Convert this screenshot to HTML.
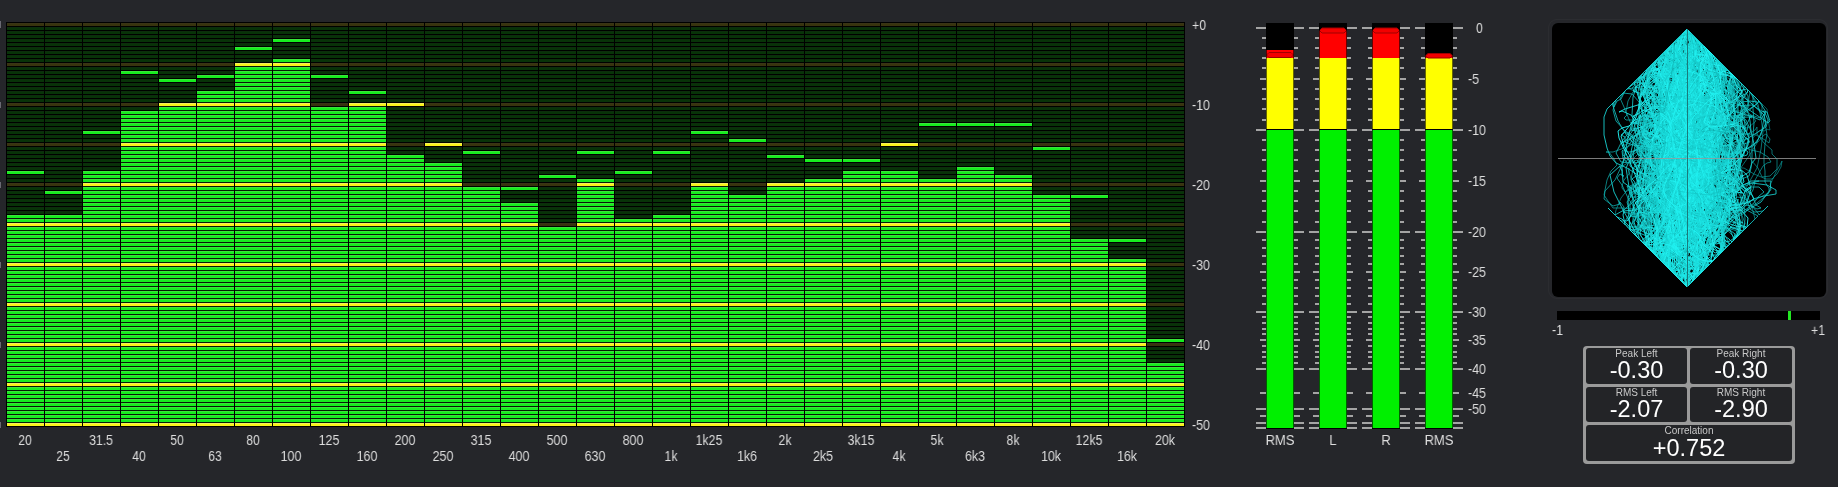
<!DOCTYPE html><html><head><meta charset="utf-8"><style>
html,body{margin:0;padding:0;background:#25262a;width:1838px;height:487px;overflow:hidden;}
body{position:relative;font-family:"Liberation Sans",sans-serif;}
.a{position:absolute;}
.fl,.dl,.ml,.sc{will-change:transform;}
.fl{position:absolute;color:#dedede;font-size:14px;line-height:14px;width:60px;text-align:center;white-space:nowrap;transform:scaleX(0.88);}
.dl{position:absolute;color:#dedede;font-size:14px;line-height:14px;white-space:nowrap;transform:scaleX(0.88);transform-origin:0 50%;}
.ml{position:absolute;color:#dedede;font-size:14px;line-height:14px;white-space:nowrap;transform:scaleX(0.88);transform-origin:0 50%;}
.sc{position:absolute;background:#232427;border-radius:3px;text-align:center;color:#fff;}
.sc .t{position:absolute;left:0;right:0;font-size:10px;line-height:10px;color:#c8c8c8;}
.sc .v{position:absolute;left:0;right:0;font-size:23.5px;line-height:22px;color:#fff;}
</style></head><body>
<svg class="a" style="left:6px;top:22px" width="1179" height="405" viewBox="0 0 1179 405" shape-rendering="crispEdges"><defs><pattern id="pu" patternUnits="userSpaceOnUse" x="0" y="1" width="1179" height="40"><rect x="0" y="0" width="1179" height="1" fill="#3a3516"/><rect x="0" y="1" width="1179" height="2" fill="#38340e"/><rect x="0" y="4" width="1179" height="1" fill="#0c2e0c"/><rect x="0" y="5" width="1179" height="2" fill="#083308"/><rect x="0" y="8" width="1179" height="1" fill="#0c2e0c"/><rect x="0" y="9" width="1179" height="2" fill="#083308"/><rect x="0" y="12" width="1179" height="1" fill="#0c2e0c"/><rect x="0" y="13" width="1179" height="2" fill="#083308"/><rect x="0" y="16" width="1179" height="1" fill="#0c2e0c"/><rect x="0" y="17" width="1179" height="2" fill="#083308"/><rect x="0" y="20" width="1179" height="1" fill="#0c2e0c"/><rect x="0" y="21" width="1179" height="2" fill="#083308"/><rect x="0" y="24" width="1179" height="1" fill="#0c2e0c"/><rect x="0" y="25" width="1179" height="2" fill="#083308"/><rect x="0" y="28" width="1179" height="1" fill="#0c2e0c"/><rect x="0" y="29" width="1179" height="2" fill="#083308"/><rect x="0" y="32" width="1179" height="1" fill="#0c2e0c"/><rect x="0" y="33" width="1179" height="2" fill="#083308"/><rect x="0" y="36" width="1179" height="1" fill="#0c2e0c"/><rect x="0" y="37" width="1179" height="2" fill="#083308"/></pattern><pattern id="pl" patternUnits="userSpaceOnUse" x="0" y="1" width="1179" height="40"><rect x="0" y="0" width="1179" height="40" fill="#081a08"/><rect x="0" y="0" width="1179" height="1" fill="#f4f05a"/><rect x="0" y="1" width="1179" height="2" fill="#f8f41a"/><rect x="0" y="4" width="1179" height="1" fill="#3ae43a"/><rect x="0" y="5" width="1179" height="2" fill="#16ee1e"/><rect x="0" y="8" width="1179" height="1" fill="#3ae43a"/><rect x="0" y="9" width="1179" height="2" fill="#16ee1e"/><rect x="0" y="12" width="1179" height="1" fill="#3ae43a"/><rect x="0" y="13" width="1179" height="2" fill="#16ee1e"/><rect x="0" y="16" width="1179" height="1" fill="#3ae43a"/><rect x="0" y="17" width="1179" height="2" fill="#16ee1e"/><rect x="0" y="20" width="1179" height="1" fill="#3ae43a"/><rect x="0" y="21" width="1179" height="2" fill="#16ee1e"/><rect x="0" y="24" width="1179" height="1" fill="#3ae43a"/><rect x="0" y="25" width="1179" height="2" fill="#16ee1e"/><rect x="0" y="28" width="1179" height="1" fill="#3ae43a"/><rect x="0" y="29" width="1179" height="2" fill="#16ee1e"/><rect x="0" y="32" width="1179" height="1" fill="#3ae43a"/><rect x="0" y="33" width="1179" height="2" fill="#16ee1e"/><rect x="0" y="36" width="1179" height="1" fill="#3ae43a"/><rect x="0" y="37" width="1179" height="2" fill="#16ee1e"/></pattern></defs><rect x="0" y="0" width="1179" height="405" fill="#000"/><rect x="1" y="1" width="37" height="192" fill="url(#pu)"/><rect x="1" y="193" width="37" height="211" fill="url(#pl)"/><rect x="1" y="149" width="37" height="1" fill="#3ae43a"/><rect x="1" y="150" width="37" height="2" fill="#16ee1e"/><rect x="39" y="1" width="37" height="192" fill="url(#pu)"/><rect x="39" y="193" width="37" height="211" fill="url(#pl)"/><rect x="39" y="169" width="37" height="1" fill="#3ae43a"/><rect x="39" y="170" width="37" height="2" fill="#16ee1e"/><rect x="77" y="1" width="37" height="148" fill="url(#pu)"/><rect x="77" y="149" width="37" height="255" fill="url(#pl)"/><rect x="77" y="109" width="37" height="1" fill="#3ae43a"/><rect x="77" y="110" width="37" height="2" fill="#16ee1e"/><rect x="115" y="1" width="37" height="88" fill="url(#pu)"/><rect x="115" y="89" width="37" height="315" fill="url(#pl)"/><rect x="115" y="49" width="37" height="1" fill="#3ae43a"/><rect x="115" y="50" width="37" height="2" fill="#16ee1e"/><rect x="153" y="1" width="37" height="80" fill="url(#pu)"/><rect x="153" y="81" width="37" height="323" fill="url(#pl)"/><rect x="153" y="57" width="37" height="1" fill="#3ae43a"/><rect x="153" y="58" width="37" height="2" fill="#16ee1e"/><rect x="191" y="1" width="37" height="68" fill="url(#pu)"/><rect x="191" y="69" width="37" height="335" fill="url(#pl)"/><rect x="191" y="53" width="37" height="1" fill="#3ae43a"/><rect x="191" y="54" width="37" height="2" fill="#16ee1e"/><rect x="229" y="1" width="37" height="40" fill="url(#pu)"/><rect x="229" y="41" width="37" height="363" fill="url(#pl)"/><rect x="229" y="25" width="37" height="1" fill="#3ae43a"/><rect x="229" y="26" width="37" height="2" fill="#16ee1e"/><rect x="267" y="1" width="37" height="36" fill="url(#pu)"/><rect x="267" y="37" width="37" height="367" fill="url(#pl)"/><rect x="267" y="17" width="37" height="1" fill="#3ae43a"/><rect x="267" y="18" width="37" height="2" fill="#16ee1e"/><rect x="305" y="1" width="37" height="84" fill="url(#pu)"/><rect x="305" y="85" width="37" height="319" fill="url(#pl)"/><rect x="305" y="53" width="37" height="1" fill="#3ae43a"/><rect x="305" y="54" width="37" height="2" fill="#16ee1e"/><rect x="343" y="1" width="37" height="80" fill="url(#pu)"/><rect x="343" y="81" width="37" height="323" fill="url(#pl)"/><rect x="343" y="69" width="37" height="1" fill="#3ae43a"/><rect x="343" y="70" width="37" height="2" fill="#16ee1e"/><rect x="381" y="1" width="37" height="132" fill="url(#pu)"/><rect x="381" y="133" width="37" height="271" fill="url(#pl)"/><rect x="381" y="81" width="37" height="1" fill="#f4f05a"/><rect x="381" y="82" width="37" height="2" fill="#f8f41a"/><rect x="419" y="1" width="37" height="140" fill="url(#pu)"/><rect x="419" y="141" width="37" height="263" fill="url(#pl)"/><rect x="419" y="121" width="37" height="1" fill="#f4f05a"/><rect x="419" y="122" width="37" height="2" fill="#f8f41a"/><rect x="457" y="1" width="37" height="164" fill="url(#pu)"/><rect x="457" y="165" width="37" height="239" fill="url(#pl)"/><rect x="457" y="129" width="37" height="1" fill="#3ae43a"/><rect x="457" y="130" width="37" height="2" fill="#16ee1e"/><rect x="495" y="1" width="37" height="180" fill="url(#pu)"/><rect x="495" y="181" width="37" height="223" fill="url(#pl)"/><rect x="495" y="165" width="37" height="1" fill="#3ae43a"/><rect x="495" y="166" width="37" height="2" fill="#16ee1e"/><rect x="533" y="1" width="37" height="204" fill="url(#pu)"/><rect x="533" y="205" width="37" height="199" fill="url(#pl)"/><rect x="533" y="153" width="37" height="1" fill="#3ae43a"/><rect x="533" y="154" width="37" height="2" fill="#16ee1e"/><rect x="571" y="1" width="37" height="156" fill="url(#pu)"/><rect x="571" y="157" width="37" height="247" fill="url(#pl)"/><rect x="571" y="129" width="37" height="1" fill="#3ae43a"/><rect x="571" y="130" width="37" height="2" fill="#16ee1e"/><rect x="609" y="1" width="37" height="196" fill="url(#pu)"/><rect x="609" y="197" width="37" height="207" fill="url(#pl)"/><rect x="609" y="149" width="37" height="1" fill="#3ae43a"/><rect x="609" y="150" width="37" height="2" fill="#16ee1e"/><rect x="647" y="1" width="37" height="192" fill="url(#pu)"/><rect x="647" y="193" width="37" height="211" fill="url(#pl)"/><rect x="647" y="129" width="37" height="1" fill="#3ae43a"/><rect x="647" y="130" width="37" height="2" fill="#16ee1e"/><rect x="685" y="1" width="37" height="160" fill="url(#pu)"/><rect x="685" y="161" width="37" height="243" fill="url(#pl)"/><rect x="685" y="109" width="37" height="1" fill="#3ae43a"/><rect x="685" y="110" width="37" height="2" fill="#16ee1e"/><rect x="723" y="1" width="37" height="172" fill="url(#pu)"/><rect x="723" y="173" width="37" height="231" fill="url(#pl)"/><rect x="723" y="117" width="37" height="1" fill="#3ae43a"/><rect x="723" y="118" width="37" height="2" fill="#16ee1e"/><rect x="761" y="1" width="37" height="160" fill="url(#pu)"/><rect x="761" y="161" width="37" height="243" fill="url(#pl)"/><rect x="761" y="133" width="37" height="1" fill="#3ae43a"/><rect x="761" y="134" width="37" height="2" fill="#16ee1e"/><rect x="799" y="1" width="37" height="156" fill="url(#pu)"/><rect x="799" y="157" width="37" height="247" fill="url(#pl)"/><rect x="799" y="137" width="37" height="1" fill="#3ae43a"/><rect x="799" y="138" width="37" height="2" fill="#16ee1e"/><rect x="837" y="1" width="37" height="148" fill="url(#pu)"/><rect x="837" y="149" width="37" height="255" fill="url(#pl)"/><rect x="837" y="137" width="37" height="1" fill="#3ae43a"/><rect x="837" y="138" width="37" height="2" fill="#16ee1e"/><rect x="875" y="1" width="37" height="148" fill="url(#pu)"/><rect x="875" y="149" width="37" height="255" fill="url(#pl)"/><rect x="875" y="121" width="37" height="1" fill="#f4f05a"/><rect x="875" y="122" width="37" height="2" fill="#f8f41a"/><rect x="913" y="1" width="37" height="156" fill="url(#pu)"/><rect x="913" y="157" width="37" height="247" fill="url(#pl)"/><rect x="913" y="101" width="37" height="1" fill="#3ae43a"/><rect x="913" y="102" width="37" height="2" fill="#16ee1e"/><rect x="951" y="1" width="37" height="144" fill="url(#pu)"/><rect x="951" y="145" width="37" height="259" fill="url(#pl)"/><rect x="951" y="101" width="37" height="1" fill="#3ae43a"/><rect x="951" y="102" width="37" height="2" fill="#16ee1e"/><rect x="989" y="1" width="37" height="152" fill="url(#pu)"/><rect x="989" y="153" width="37" height="251" fill="url(#pl)"/><rect x="989" y="101" width="37" height="1" fill="#3ae43a"/><rect x="989" y="102" width="37" height="2" fill="#16ee1e"/><rect x="1027" y="1" width="37" height="172" fill="url(#pu)"/><rect x="1027" y="173" width="37" height="231" fill="url(#pl)"/><rect x="1027" y="125" width="37" height="1" fill="#3ae43a"/><rect x="1027" y="126" width="37" height="2" fill="#16ee1e"/><rect x="1065" y="1" width="37" height="216" fill="url(#pu)"/><rect x="1065" y="217" width="37" height="187" fill="url(#pl)"/><rect x="1065" y="173" width="37" height="1" fill="#3ae43a"/><rect x="1065" y="174" width="37" height="2" fill="#16ee1e"/><rect x="1103" y="1" width="37" height="236" fill="url(#pu)"/><rect x="1103" y="237" width="37" height="167" fill="url(#pl)"/><rect x="1103" y="217" width="37" height="1" fill="#3ae43a"/><rect x="1103" y="218" width="37" height="2" fill="#16ee1e"/><rect x="1141" y="1" width="37" height="340" fill="url(#pu)"/><rect x="1141" y="341" width="37" height="63" fill="url(#pl)"/><rect x="1141" y="317" width="37" height="1" fill="#3ae43a"/><rect x="1141" y="318" width="37" height="2" fill="#16ee1e"/></svg>
<div class="fl" style="left:-5px;top:433px">20</div>
<div class="fl" style="left:33px;top:449px">25</div>
<div class="fl" style="left:71px;top:433px">31.5</div>
<div class="fl" style="left:109px;top:449px">40</div>
<div class="fl" style="left:147px;top:433px">50</div>
<div class="fl" style="left:185px;top:449px">63</div>
<div class="fl" style="left:223px;top:433px">80</div>
<div class="fl" style="left:261px;top:449px">100</div>
<div class="fl" style="left:299px;top:433px">125</div>
<div class="fl" style="left:337px;top:449px">160</div>
<div class="fl" style="left:375px;top:433px">200</div>
<div class="fl" style="left:413px;top:449px">250</div>
<div class="fl" style="left:451px;top:433px">315</div>
<div class="fl" style="left:489px;top:449px">400</div>
<div class="fl" style="left:527px;top:433px">500</div>
<div class="fl" style="left:565px;top:449px">630</div>
<div class="fl" style="left:603px;top:433px">800</div>
<div class="fl" style="left:641px;top:449px">1k</div>
<div class="fl" style="left:679px;top:433px">1k25</div>
<div class="fl" style="left:717px;top:449px">1k6</div>
<div class="fl" style="left:755px;top:433px">2k</div>
<div class="fl" style="left:793px;top:449px">2k5</div>
<div class="fl" style="left:831px;top:433px">3k15</div>
<div class="fl" style="left:869px;top:449px">4k</div>
<div class="fl" style="left:907px;top:433px">5k</div>
<div class="fl" style="left:945px;top:449px">6k3</div>
<div class="fl" style="left:983px;top:433px">8k</div>
<div class="fl" style="left:1021px;top:449px">10k</div>
<div class="fl" style="left:1059px;top:433px">12k5</div>
<div class="fl" style="left:1097px;top:449px">16k</div>
<div class="fl" style="left:1135px;top:433px">20k</div>
<div class="dl" style="left:1192px;top:18px">+0</div>
<div class="dl" style="left:1192px;top:98px">-10</div>
<div class="dl" style="left:1192px;top:178px">-20</div>
<div class="dl" style="left:1192px;top:258px">-30</div>
<div class="dl" style="left:1192px;top:338px">-40</div>
<div class="dl" style="left:1192px;top:418px">-50</div>
<div class="a" style="left:0;top:21px;width:1px;height:7px;background:#6a6a72"></div>
<div class="a" style="left:0;top:102px;width:1px;height:6px;background:#6a6a72"></div>
<div class="a" style="left:0;top:182px;width:1px;height:6px;background:#6a6a72"></div>
<div class="a" style="left:0;top:262px;width:1px;height:6px;background:#6a6a72"></div>
<div class="a" style="left:0;top:342px;width:1px;height:6px;background:#6a6a72"></div>
<div class="a" style="left:0;top:422px;width:1px;height:6px;background:#6a6a72"></div>
<svg class="a" style="left:1240px;top:0px" width="260" height="487" shape-rendering="crispEdges"><rect x="16" y="27" width="10" height="2" fill="#a4a4a4"/><rect x="54" y="27" width="10" height="2" fill="#a4a4a4"/><rect x="22" y="37" width="4" height="2" fill="#a4a4a4"/><rect x="54" y="37" width="4" height="2" fill="#a4a4a4"/><rect x="22" y="47" width="4" height="2" fill="#a4a4a4"/><rect x="54" y="47" width="4" height="2" fill="#a4a4a4"/><rect x="22" y="57" width="4" height="2" fill="#a4a4a4"/><rect x="54" y="57" width="4" height="2" fill="#a4a4a4"/><rect x="22" y="67" width="4" height="2" fill="#a4a4a4"/><rect x="54" y="67" width="4" height="2" fill="#a4a4a4"/><rect x="20" y="78" width="6" height="2" fill="#a4a4a4"/><rect x="54" y="78" width="6" height="2" fill="#a4a4a4"/><rect x="22" y="88" width="4" height="2" fill="#a4a4a4"/><rect x="54" y="88" width="4" height="2" fill="#a4a4a4"/><rect x="22" y="98" width="4" height="2" fill="#a4a4a4"/><rect x="54" y="98" width="4" height="2" fill="#a4a4a4"/><rect x="22" y="108" width="4" height="2" fill="#a4a4a4"/><rect x="54" y="108" width="4" height="2" fill="#a4a4a4"/><rect x="22" y="119" width="4" height="2" fill="#a4a4a4"/><rect x="54" y="119" width="4" height="2" fill="#a4a4a4"/><rect x="16" y="129" width="10" height="2" fill="#a4a4a4"/><rect x="54" y="129" width="10" height="2" fill="#a4a4a4"/><rect x="22" y="139" width="4" height="2" fill="#a4a4a4"/><rect x="54" y="139" width="4" height="2" fill="#a4a4a4"/><rect x="22" y="149" width="4" height="2" fill="#a4a4a4"/><rect x="54" y="149" width="4" height="2" fill="#a4a4a4"/><rect x="22" y="159" width="4" height="2" fill="#a4a4a4"/><rect x="54" y="159" width="4" height="2" fill="#a4a4a4"/><rect x="22" y="170" width="4" height="2" fill="#a4a4a4"/><rect x="54" y="170" width="4" height="2" fill="#a4a4a4"/><rect x="20" y="180" width="6" height="2" fill="#a4a4a4"/><rect x="54" y="180" width="6" height="2" fill="#a4a4a4"/><rect x="22" y="190" width="4" height="2" fill="#a4a4a4"/><rect x="54" y="190" width="4" height="2" fill="#a4a4a4"/><rect x="22" y="200" width="4" height="2" fill="#a4a4a4"/><rect x="54" y="200" width="4" height="2" fill="#a4a4a4"/><rect x="22" y="210" width="4" height="2" fill="#a4a4a4"/><rect x="54" y="210" width="4" height="2" fill="#a4a4a4"/><rect x="22" y="221" width="4" height="2" fill="#a4a4a4"/><rect x="54" y="221" width="4" height="2" fill="#a4a4a4"/><rect x="16" y="231" width="10" height="2" fill="#a4a4a4"/><rect x="54" y="231" width="10" height="2" fill="#a4a4a4"/><rect x="22" y="239" width="4" height="2" fill="#a4a4a4"/><rect x="54" y="239" width="4" height="2" fill="#a4a4a4"/><rect x="22" y="247" width="4" height="2" fill="#a4a4a4"/><rect x="54" y="247" width="4" height="2" fill="#a4a4a4"/><rect x="22" y="255" width="4" height="2" fill="#a4a4a4"/><rect x="54" y="255" width="4" height="2" fill="#a4a4a4"/><rect x="22" y="263" width="4" height="2" fill="#a4a4a4"/><rect x="54" y="263" width="4" height="2" fill="#a4a4a4"/><rect x="20" y="271" width="6" height="2" fill="#a4a4a4"/><rect x="54" y="271" width="6" height="2" fill="#a4a4a4"/><rect x="22" y="279" width="4" height="2" fill="#a4a4a4"/><rect x="54" y="279" width="4" height="2" fill="#a4a4a4"/><rect x="22" y="287" width="4" height="2" fill="#a4a4a4"/><rect x="54" y="287" width="4" height="2" fill="#a4a4a4"/><rect x="22" y="295" width="4" height="2" fill="#a4a4a4"/><rect x="54" y="295" width="4" height="2" fill="#a4a4a4"/><rect x="22" y="303" width="4" height="2" fill="#a4a4a4"/><rect x="54" y="303" width="4" height="2" fill="#a4a4a4"/><rect x="16" y="311" width="10" height="2" fill="#a4a4a4"/><rect x="54" y="311" width="10" height="2" fill="#a4a4a4"/><rect x="22" y="316" width="4" height="2" fill="#a4a4a4"/><rect x="54" y="316" width="4" height="2" fill="#a4a4a4"/><rect x="22" y="322" width="4" height="2" fill="#a4a4a4"/><rect x="54" y="322" width="4" height="2" fill="#a4a4a4"/><rect x="22" y="328" width="4" height="2" fill="#a4a4a4"/><rect x="54" y="328" width="4" height="2" fill="#a4a4a4"/><rect x="22" y="333" width="4" height="2" fill="#a4a4a4"/><rect x="54" y="333" width="4" height="2" fill="#a4a4a4"/><rect x="20" y="339" width="6" height="2" fill="#a4a4a4"/><rect x="54" y="339" width="6" height="2" fill="#a4a4a4"/><rect x="22" y="345" width="4" height="2" fill="#a4a4a4"/><rect x="54" y="345" width="4" height="2" fill="#a4a4a4"/><rect x="22" y="351" width="4" height="2" fill="#a4a4a4"/><rect x="54" y="351" width="4" height="2" fill="#a4a4a4"/><rect x="22" y="356" width="4" height="2" fill="#a4a4a4"/><rect x="54" y="356" width="4" height="2" fill="#a4a4a4"/><rect x="22" y="362" width="4" height="2" fill="#a4a4a4"/><rect x="54" y="362" width="4" height="2" fill="#a4a4a4"/><rect x="16" y="368" width="10" height="2" fill="#a4a4a4"/><rect x="54" y="368" width="10" height="2" fill="#a4a4a4"/><rect x="20" y="392" width="6" height="2" fill="#a4a4a4"/><rect x="54" y="392" width="6" height="2" fill="#a4a4a4"/><rect x="16" y="408" width="10" height="2" fill="#a4a4a4"/><rect x="54" y="408" width="10" height="2" fill="#a4a4a4"/><rect x="20" y="415" width="6" height="2" fill="#a4a4a4"/><rect x="54" y="415" width="6" height="2" fill="#a4a4a4"/><rect x="16" y="422" width="10" height="2" fill="#a4a4a4"/><rect x="54" y="422" width="10" height="2" fill="#a4a4a4"/><rect x="16" y="427" width="10" height="2" fill="#a4a4a4"/><rect x="54" y="427" width="10" height="2" fill="#a4a4a4"/><rect x="69" y="27" width="10" height="2" fill="#a4a4a4"/><rect x="107" y="27" width="10" height="2" fill="#a4a4a4"/><rect x="75" y="37" width="4" height="2" fill="#a4a4a4"/><rect x="107" y="37" width="4" height="2" fill="#a4a4a4"/><rect x="75" y="47" width="4" height="2" fill="#a4a4a4"/><rect x="107" y="47" width="4" height="2" fill="#a4a4a4"/><rect x="75" y="57" width="4" height="2" fill="#a4a4a4"/><rect x="107" y="57" width="4" height="2" fill="#a4a4a4"/><rect x="75" y="67" width="4" height="2" fill="#a4a4a4"/><rect x="107" y="67" width="4" height="2" fill="#a4a4a4"/><rect x="73" y="78" width="6" height="2" fill="#a4a4a4"/><rect x="107" y="78" width="6" height="2" fill="#a4a4a4"/><rect x="75" y="88" width="4" height="2" fill="#a4a4a4"/><rect x="107" y="88" width="4" height="2" fill="#a4a4a4"/><rect x="75" y="98" width="4" height="2" fill="#a4a4a4"/><rect x="107" y="98" width="4" height="2" fill="#a4a4a4"/><rect x="75" y="108" width="4" height="2" fill="#a4a4a4"/><rect x="107" y="108" width="4" height="2" fill="#a4a4a4"/><rect x="75" y="119" width="4" height="2" fill="#a4a4a4"/><rect x="107" y="119" width="4" height="2" fill="#a4a4a4"/><rect x="69" y="129" width="10" height="2" fill="#a4a4a4"/><rect x="107" y="129" width="10" height="2" fill="#a4a4a4"/><rect x="75" y="139" width="4" height="2" fill="#a4a4a4"/><rect x="107" y="139" width="4" height="2" fill="#a4a4a4"/><rect x="75" y="149" width="4" height="2" fill="#a4a4a4"/><rect x="107" y="149" width="4" height="2" fill="#a4a4a4"/><rect x="75" y="159" width="4" height="2" fill="#a4a4a4"/><rect x="107" y="159" width="4" height="2" fill="#a4a4a4"/><rect x="75" y="170" width="4" height="2" fill="#a4a4a4"/><rect x="107" y="170" width="4" height="2" fill="#a4a4a4"/><rect x="73" y="180" width="6" height="2" fill="#a4a4a4"/><rect x="107" y="180" width="6" height="2" fill="#a4a4a4"/><rect x="75" y="190" width="4" height="2" fill="#a4a4a4"/><rect x="107" y="190" width="4" height="2" fill="#a4a4a4"/><rect x="75" y="200" width="4" height="2" fill="#a4a4a4"/><rect x="107" y="200" width="4" height="2" fill="#a4a4a4"/><rect x="75" y="210" width="4" height="2" fill="#a4a4a4"/><rect x="107" y="210" width="4" height="2" fill="#a4a4a4"/><rect x="75" y="221" width="4" height="2" fill="#a4a4a4"/><rect x="107" y="221" width="4" height="2" fill="#a4a4a4"/><rect x="69" y="231" width="10" height="2" fill="#a4a4a4"/><rect x="107" y="231" width="10" height="2" fill="#a4a4a4"/><rect x="75" y="239" width="4" height="2" fill="#a4a4a4"/><rect x="107" y="239" width="4" height="2" fill="#a4a4a4"/><rect x="75" y="247" width="4" height="2" fill="#a4a4a4"/><rect x="107" y="247" width="4" height="2" fill="#a4a4a4"/><rect x="75" y="255" width="4" height="2" fill="#a4a4a4"/><rect x="107" y="255" width="4" height="2" fill="#a4a4a4"/><rect x="75" y="263" width="4" height="2" fill="#a4a4a4"/><rect x="107" y="263" width="4" height="2" fill="#a4a4a4"/><rect x="73" y="271" width="6" height="2" fill="#a4a4a4"/><rect x="107" y="271" width="6" height="2" fill="#a4a4a4"/><rect x="75" y="279" width="4" height="2" fill="#a4a4a4"/><rect x="107" y="279" width="4" height="2" fill="#a4a4a4"/><rect x="75" y="287" width="4" height="2" fill="#a4a4a4"/><rect x="107" y="287" width="4" height="2" fill="#a4a4a4"/><rect x="75" y="295" width="4" height="2" fill="#a4a4a4"/><rect x="107" y="295" width="4" height="2" fill="#a4a4a4"/><rect x="75" y="303" width="4" height="2" fill="#a4a4a4"/><rect x="107" y="303" width="4" height="2" fill="#a4a4a4"/><rect x="69" y="311" width="10" height="2" fill="#a4a4a4"/><rect x="107" y="311" width="10" height="2" fill="#a4a4a4"/><rect x="75" y="316" width="4" height="2" fill="#a4a4a4"/><rect x="107" y="316" width="4" height="2" fill="#a4a4a4"/><rect x="75" y="322" width="4" height="2" fill="#a4a4a4"/><rect x="107" y="322" width="4" height="2" fill="#a4a4a4"/><rect x="75" y="328" width="4" height="2" fill="#a4a4a4"/><rect x="107" y="328" width="4" height="2" fill="#a4a4a4"/><rect x="75" y="333" width="4" height="2" fill="#a4a4a4"/><rect x="107" y="333" width="4" height="2" fill="#a4a4a4"/><rect x="73" y="339" width="6" height="2" fill="#a4a4a4"/><rect x="107" y="339" width="6" height="2" fill="#a4a4a4"/><rect x="75" y="345" width="4" height="2" fill="#a4a4a4"/><rect x="107" y="345" width="4" height="2" fill="#a4a4a4"/><rect x="75" y="351" width="4" height="2" fill="#a4a4a4"/><rect x="107" y="351" width="4" height="2" fill="#a4a4a4"/><rect x="75" y="356" width="4" height="2" fill="#a4a4a4"/><rect x="107" y="356" width="4" height="2" fill="#a4a4a4"/><rect x="75" y="362" width="4" height="2" fill="#a4a4a4"/><rect x="107" y="362" width="4" height="2" fill="#a4a4a4"/><rect x="69" y="368" width="10" height="2" fill="#a4a4a4"/><rect x="107" y="368" width="10" height="2" fill="#a4a4a4"/><rect x="73" y="392" width="6" height="2" fill="#a4a4a4"/><rect x="107" y="392" width="6" height="2" fill="#a4a4a4"/><rect x="69" y="408" width="10" height="2" fill="#a4a4a4"/><rect x="107" y="408" width="10" height="2" fill="#a4a4a4"/><rect x="73" y="415" width="6" height="2" fill="#a4a4a4"/><rect x="107" y="415" width="6" height="2" fill="#a4a4a4"/><rect x="69" y="422" width="10" height="2" fill="#a4a4a4"/><rect x="107" y="422" width="10" height="2" fill="#a4a4a4"/><rect x="69" y="427" width="10" height="2" fill="#a4a4a4"/><rect x="107" y="427" width="10" height="2" fill="#a4a4a4"/><rect x="122" y="27" width="10" height="2" fill="#a4a4a4"/><rect x="160" y="27" width="10" height="2" fill="#a4a4a4"/><rect x="128" y="37" width="4" height="2" fill="#a4a4a4"/><rect x="160" y="37" width="4" height="2" fill="#a4a4a4"/><rect x="128" y="47" width="4" height="2" fill="#a4a4a4"/><rect x="160" y="47" width="4" height="2" fill="#a4a4a4"/><rect x="128" y="57" width="4" height="2" fill="#a4a4a4"/><rect x="160" y="57" width="4" height="2" fill="#a4a4a4"/><rect x="128" y="67" width="4" height="2" fill="#a4a4a4"/><rect x="160" y="67" width="4" height="2" fill="#a4a4a4"/><rect x="126" y="78" width="6" height="2" fill="#a4a4a4"/><rect x="160" y="78" width="6" height="2" fill="#a4a4a4"/><rect x="128" y="88" width="4" height="2" fill="#a4a4a4"/><rect x="160" y="88" width="4" height="2" fill="#a4a4a4"/><rect x="128" y="98" width="4" height="2" fill="#a4a4a4"/><rect x="160" y="98" width="4" height="2" fill="#a4a4a4"/><rect x="128" y="108" width="4" height="2" fill="#a4a4a4"/><rect x="160" y="108" width="4" height="2" fill="#a4a4a4"/><rect x="128" y="119" width="4" height="2" fill="#a4a4a4"/><rect x="160" y="119" width="4" height="2" fill="#a4a4a4"/><rect x="122" y="129" width="10" height="2" fill="#a4a4a4"/><rect x="160" y="129" width="10" height="2" fill="#a4a4a4"/><rect x="128" y="139" width="4" height="2" fill="#a4a4a4"/><rect x="160" y="139" width="4" height="2" fill="#a4a4a4"/><rect x="128" y="149" width="4" height="2" fill="#a4a4a4"/><rect x="160" y="149" width="4" height="2" fill="#a4a4a4"/><rect x="128" y="159" width="4" height="2" fill="#a4a4a4"/><rect x="160" y="159" width="4" height="2" fill="#a4a4a4"/><rect x="128" y="170" width="4" height="2" fill="#a4a4a4"/><rect x="160" y="170" width="4" height="2" fill="#a4a4a4"/><rect x="126" y="180" width="6" height="2" fill="#a4a4a4"/><rect x="160" y="180" width="6" height="2" fill="#a4a4a4"/><rect x="128" y="190" width="4" height="2" fill="#a4a4a4"/><rect x="160" y="190" width="4" height="2" fill="#a4a4a4"/><rect x="128" y="200" width="4" height="2" fill="#a4a4a4"/><rect x="160" y="200" width="4" height="2" fill="#a4a4a4"/><rect x="128" y="210" width="4" height="2" fill="#a4a4a4"/><rect x="160" y="210" width="4" height="2" fill="#a4a4a4"/><rect x="128" y="221" width="4" height="2" fill="#a4a4a4"/><rect x="160" y="221" width="4" height="2" fill="#a4a4a4"/><rect x="122" y="231" width="10" height="2" fill="#a4a4a4"/><rect x="160" y="231" width="10" height="2" fill="#a4a4a4"/><rect x="128" y="239" width="4" height="2" fill="#a4a4a4"/><rect x="160" y="239" width="4" height="2" fill="#a4a4a4"/><rect x="128" y="247" width="4" height="2" fill="#a4a4a4"/><rect x="160" y="247" width="4" height="2" fill="#a4a4a4"/><rect x="128" y="255" width="4" height="2" fill="#a4a4a4"/><rect x="160" y="255" width="4" height="2" fill="#a4a4a4"/><rect x="128" y="263" width="4" height="2" fill="#a4a4a4"/><rect x="160" y="263" width="4" height="2" fill="#a4a4a4"/><rect x="126" y="271" width="6" height="2" fill="#a4a4a4"/><rect x="160" y="271" width="6" height="2" fill="#a4a4a4"/><rect x="128" y="279" width="4" height="2" fill="#a4a4a4"/><rect x="160" y="279" width="4" height="2" fill="#a4a4a4"/><rect x="128" y="287" width="4" height="2" fill="#a4a4a4"/><rect x="160" y="287" width="4" height="2" fill="#a4a4a4"/><rect x="128" y="295" width="4" height="2" fill="#a4a4a4"/><rect x="160" y="295" width="4" height="2" fill="#a4a4a4"/><rect x="128" y="303" width="4" height="2" fill="#a4a4a4"/><rect x="160" y="303" width="4" height="2" fill="#a4a4a4"/><rect x="122" y="311" width="10" height="2" fill="#a4a4a4"/><rect x="160" y="311" width="10" height="2" fill="#a4a4a4"/><rect x="128" y="316" width="4" height="2" fill="#a4a4a4"/><rect x="160" y="316" width="4" height="2" fill="#a4a4a4"/><rect x="128" y="322" width="4" height="2" fill="#a4a4a4"/><rect x="160" y="322" width="4" height="2" fill="#a4a4a4"/><rect x="128" y="328" width="4" height="2" fill="#a4a4a4"/><rect x="160" y="328" width="4" height="2" fill="#a4a4a4"/><rect x="128" y="333" width="4" height="2" fill="#a4a4a4"/><rect x="160" y="333" width="4" height="2" fill="#a4a4a4"/><rect x="126" y="339" width="6" height="2" fill="#a4a4a4"/><rect x="160" y="339" width="6" height="2" fill="#a4a4a4"/><rect x="128" y="345" width="4" height="2" fill="#a4a4a4"/><rect x="160" y="345" width="4" height="2" fill="#a4a4a4"/><rect x="128" y="351" width="4" height="2" fill="#a4a4a4"/><rect x="160" y="351" width="4" height="2" fill="#a4a4a4"/><rect x="128" y="356" width="4" height="2" fill="#a4a4a4"/><rect x="160" y="356" width="4" height="2" fill="#a4a4a4"/><rect x="128" y="362" width="4" height="2" fill="#a4a4a4"/><rect x="160" y="362" width="4" height="2" fill="#a4a4a4"/><rect x="122" y="368" width="10" height="2" fill="#a4a4a4"/><rect x="160" y="368" width="10" height="2" fill="#a4a4a4"/><rect x="126" y="392" width="6" height="2" fill="#a4a4a4"/><rect x="160" y="392" width="6" height="2" fill="#a4a4a4"/><rect x="122" y="408" width="10" height="2" fill="#a4a4a4"/><rect x="160" y="408" width="10" height="2" fill="#a4a4a4"/><rect x="126" y="415" width="6" height="2" fill="#a4a4a4"/><rect x="160" y="415" width="6" height="2" fill="#a4a4a4"/><rect x="122" y="422" width="10" height="2" fill="#a4a4a4"/><rect x="160" y="422" width="10" height="2" fill="#a4a4a4"/><rect x="122" y="427" width="10" height="2" fill="#a4a4a4"/><rect x="160" y="427" width="10" height="2" fill="#a4a4a4"/><rect x="175" y="27" width="10" height="2" fill="#a4a4a4"/><rect x="213" y="27" width="10" height="2" fill="#a4a4a4"/><rect x="181" y="37" width="4" height="2" fill="#a4a4a4"/><rect x="213" y="37" width="4" height="2" fill="#a4a4a4"/><rect x="181" y="47" width="4" height="2" fill="#a4a4a4"/><rect x="213" y="47" width="4" height="2" fill="#a4a4a4"/><rect x="181" y="57" width="4" height="2" fill="#a4a4a4"/><rect x="213" y="57" width="4" height="2" fill="#a4a4a4"/><rect x="181" y="67" width="4" height="2" fill="#a4a4a4"/><rect x="213" y="67" width="4" height="2" fill="#a4a4a4"/><rect x="179" y="78" width="6" height="2" fill="#a4a4a4"/><rect x="213" y="78" width="6" height="2" fill="#a4a4a4"/><rect x="181" y="88" width="4" height="2" fill="#a4a4a4"/><rect x="213" y="88" width="4" height="2" fill="#a4a4a4"/><rect x="181" y="98" width="4" height="2" fill="#a4a4a4"/><rect x="213" y="98" width="4" height="2" fill="#a4a4a4"/><rect x="181" y="108" width="4" height="2" fill="#a4a4a4"/><rect x="213" y="108" width="4" height="2" fill="#a4a4a4"/><rect x="181" y="119" width="4" height="2" fill="#a4a4a4"/><rect x="213" y="119" width="4" height="2" fill="#a4a4a4"/><rect x="175" y="129" width="10" height="2" fill="#a4a4a4"/><rect x="213" y="129" width="10" height="2" fill="#a4a4a4"/><rect x="181" y="139" width="4" height="2" fill="#a4a4a4"/><rect x="213" y="139" width="4" height="2" fill="#a4a4a4"/><rect x="181" y="149" width="4" height="2" fill="#a4a4a4"/><rect x="213" y="149" width="4" height="2" fill="#a4a4a4"/><rect x="181" y="159" width="4" height="2" fill="#a4a4a4"/><rect x="213" y="159" width="4" height="2" fill="#a4a4a4"/><rect x="181" y="170" width="4" height="2" fill="#a4a4a4"/><rect x="213" y="170" width="4" height="2" fill="#a4a4a4"/><rect x="179" y="180" width="6" height="2" fill="#a4a4a4"/><rect x="213" y="180" width="6" height="2" fill="#a4a4a4"/><rect x="181" y="190" width="4" height="2" fill="#a4a4a4"/><rect x="213" y="190" width="4" height="2" fill="#a4a4a4"/><rect x="181" y="200" width="4" height="2" fill="#a4a4a4"/><rect x="213" y="200" width="4" height="2" fill="#a4a4a4"/><rect x="181" y="210" width="4" height="2" fill="#a4a4a4"/><rect x="213" y="210" width="4" height="2" fill="#a4a4a4"/><rect x="181" y="221" width="4" height="2" fill="#a4a4a4"/><rect x="213" y="221" width="4" height="2" fill="#a4a4a4"/><rect x="175" y="231" width="10" height="2" fill="#a4a4a4"/><rect x="213" y="231" width="10" height="2" fill="#a4a4a4"/><rect x="181" y="239" width="4" height="2" fill="#a4a4a4"/><rect x="213" y="239" width="4" height="2" fill="#a4a4a4"/><rect x="181" y="247" width="4" height="2" fill="#a4a4a4"/><rect x="213" y="247" width="4" height="2" fill="#a4a4a4"/><rect x="181" y="255" width="4" height="2" fill="#a4a4a4"/><rect x="213" y="255" width="4" height="2" fill="#a4a4a4"/><rect x="181" y="263" width="4" height="2" fill="#a4a4a4"/><rect x="213" y="263" width="4" height="2" fill="#a4a4a4"/><rect x="179" y="271" width="6" height="2" fill="#a4a4a4"/><rect x="213" y="271" width="6" height="2" fill="#a4a4a4"/><rect x="181" y="279" width="4" height="2" fill="#a4a4a4"/><rect x="213" y="279" width="4" height="2" fill="#a4a4a4"/><rect x="181" y="287" width="4" height="2" fill="#a4a4a4"/><rect x="213" y="287" width="4" height="2" fill="#a4a4a4"/><rect x="181" y="295" width="4" height="2" fill="#a4a4a4"/><rect x="213" y="295" width="4" height="2" fill="#a4a4a4"/><rect x="181" y="303" width="4" height="2" fill="#a4a4a4"/><rect x="213" y="303" width="4" height="2" fill="#a4a4a4"/><rect x="175" y="311" width="10" height="2" fill="#a4a4a4"/><rect x="213" y="311" width="10" height="2" fill="#a4a4a4"/><rect x="181" y="316" width="4" height="2" fill="#a4a4a4"/><rect x="213" y="316" width="4" height="2" fill="#a4a4a4"/><rect x="181" y="322" width="4" height="2" fill="#a4a4a4"/><rect x="213" y="322" width="4" height="2" fill="#a4a4a4"/><rect x="181" y="328" width="4" height="2" fill="#a4a4a4"/><rect x="213" y="328" width="4" height="2" fill="#a4a4a4"/><rect x="181" y="333" width="4" height="2" fill="#a4a4a4"/><rect x="213" y="333" width="4" height="2" fill="#a4a4a4"/><rect x="179" y="339" width="6" height="2" fill="#a4a4a4"/><rect x="213" y="339" width="6" height="2" fill="#a4a4a4"/><rect x="181" y="345" width="4" height="2" fill="#a4a4a4"/><rect x="213" y="345" width="4" height="2" fill="#a4a4a4"/><rect x="181" y="351" width="4" height="2" fill="#a4a4a4"/><rect x="213" y="351" width="4" height="2" fill="#a4a4a4"/><rect x="181" y="356" width="4" height="2" fill="#a4a4a4"/><rect x="213" y="356" width="4" height="2" fill="#a4a4a4"/><rect x="181" y="362" width="4" height="2" fill="#a4a4a4"/><rect x="213" y="362" width="4" height="2" fill="#a4a4a4"/><rect x="175" y="368" width="10" height="2" fill="#a4a4a4"/><rect x="213" y="368" width="10" height="2" fill="#a4a4a4"/><rect x="179" y="392" width="6" height="2" fill="#a4a4a4"/><rect x="213" y="392" width="6" height="2" fill="#a4a4a4"/><rect x="175" y="408" width="10" height="2" fill="#a4a4a4"/><rect x="213" y="408" width="10" height="2" fill="#a4a4a4"/><rect x="179" y="415" width="6" height="2" fill="#a4a4a4"/><rect x="213" y="415" width="6" height="2" fill="#a4a4a4"/><rect x="175" y="422" width="10" height="2" fill="#a4a4a4"/><rect x="213" y="422" width="10" height="2" fill="#a4a4a4"/><rect x="175" y="427" width="10" height="2" fill="#a4a4a4"/><rect x="213" y="427" width="10" height="2" fill="#a4a4a4"/><rect x="26" y="23" width="28" height="406" fill="#000"/><rect x="26" y="130" width="28" height="298" fill="#00f000"/><rect x="26" y="58" width="28" height="71" fill="#ffff00"/><rect x="79" y="23" width="28" height="406" fill="#000"/><rect x="79" y="130" width="28" height="298" fill="#00f000"/><rect x="79" y="58" width="28" height="71" fill="#ffff00"/><rect x="132" y="23" width="28" height="406" fill="#000"/><rect x="132" y="130" width="28" height="298" fill="#00f000"/><rect x="132" y="58" width="28" height="71" fill="#ffff00"/><rect x="185" y="23" width="28" height="406" fill="#000"/><rect x="185" y="130" width="28" height="298" fill="#00f000"/><rect x="185" y="58" width="28" height="71" fill="#ffff00"/></svg>
<svg class="a" style="left:1240px;top:0px" width="260" height="440"><rect x="26" y="50" width="28" height="8" fill="#f00"/><polygon points="29.0,52.5 51.0,52.5 53.5,55.0 51.0,57.5 29.0,57.5 26.5,55.0" fill="#f20000" stroke="#a00000" stroke-width="1"/><rect x="79" y="31" width="28" height="27" fill="#f00"/><polygon points="82.0,28.0 104.0,28.0 106.5,30.5 104.0,33.0 82.0,33.0 79.5,30.5" fill="#f20000" stroke="#a00000" stroke-width="1"/><rect x="132" y="31" width="28" height="27" fill="#f00"/><polygon points="135.0,28.0 157.0,28.0 159.5,30.5 157.0,33.0 135.0,33.0 132.5,30.5" fill="#f20000" stroke="#a00000" stroke-width="1"/><rect x="185" y="55" width="28" height="3" fill="#f00"/><polygon points="188.0,53.5 210.0,53.5 212.5,55.8 210.0,58.0 188.0,58.0 185.5,55.8" fill="#f20000" stroke="#a00000" stroke-width="1"/><rect x="26" y="23" width="1" height="406" fill="#000" fill-opacity="0.6"/><rect x="53" y="23" width="1" height="406" fill="#000" fill-opacity="0.6"/><rect x="26" y="129" width="28" height="1" fill="#000" fill-opacity="0.8"/><rect x="26" y="428" width="28" height="1" fill="#000"/><rect x="79" y="23" width="1" height="406" fill="#000" fill-opacity="0.6"/><rect x="106" y="23" width="1" height="406" fill="#000" fill-opacity="0.6"/><rect x="79" y="129" width="28" height="1" fill="#000" fill-opacity="0.8"/><rect x="79" y="428" width="28" height="1" fill="#000"/><rect x="132" y="23" width="1" height="406" fill="#000" fill-opacity="0.6"/><rect x="159" y="23" width="1" height="406" fill="#000" fill-opacity="0.6"/><rect x="132" y="129" width="28" height="1" fill="#000" fill-opacity="0.8"/><rect x="132" y="428" width="28" height="1" fill="#000"/><rect x="185" y="23" width="1" height="406" fill="#000" fill-opacity="0.6"/><rect x="212" y="23" width="1" height="406" fill="#000" fill-opacity="0.6"/><rect x="185" y="129" width="28" height="1" fill="#000" fill-opacity="0.8"/><rect x="185" y="428" width="28" height="1" fill="#000"/></svg>
<div class="fl" style="left:1250px;top:433px;transform:scaleX(0.93)">RMS</div>
<div class="fl" style="left:1303px;top:433px;transform:scaleX(0.93)">L</div>
<div class="fl" style="left:1356px;top:433px;transform:scaleX(0.93)">R</div>
<div class="fl" style="left:1409px;top:433px;transform:scaleX(0.93)">RMS</div>
<div class="ml" style="left:1476px;top:21px">0</div>
<div class="ml" style="left:1468px;top:72px">-5</div>
<div class="ml" style="left:1468px;top:123px">-10</div>
<div class="ml" style="left:1468px;top:174px">-15</div>
<div class="ml" style="left:1468px;top:225px">-20</div>
<div class="ml" style="left:1468px;top:265px">-25</div>
<div class="ml" style="left:1468px;top:305px">-30</div>
<div class="ml" style="left:1468px;top:333px">-35</div>
<div class="ml" style="left:1468px;top:362px">-40</div>
<div class="ml" style="left:1468px;top:386px">-45</div>
<div class="ml" style="left:1468px;top:402px">-50</div>
<div class="a" style="left:1548px;top:19px;width:280px;height:280px;border:1px solid rgba(255,255,255,0.03);border-radius:9px;box-sizing:border-box"></div>
<div class="a" style="left:1552px;top:23px;width:274px;height:274px;background:#000;border-radius:6px"></div>
<svg class="a" style="left:1551px;top:22px" width="276" height="275"><polyline points="146,139 160,143 176,139 184,135 177,130 161,127 149,123 147,122 144,127 142,141 138,160 139,170 142,167 138,158 136,148 131,141 122,144 117,151 116,155 113,165 110,172 103,174 97,167 102,157 104,149 103,140 105,134 99,135 97,139 91,141 91,145 89,151 89,160 97,177 106,196 110,210 116,220 126,227 139,224 143,221 143,210" fill="none" stroke="#17d2d2" stroke-opacity="0.82" stroke-width="1"/><polyline points="143,210 133,199 128,196 122,194 119,187 119,183 111,184 107,185 103,189 106,186 111,186 111,193 108,198 111,201 116,198 125,200 126,205 127,207 129,210 130,213 128,212 128,207 122,200 114,187 109,172 109,158 107,150 108,143 113,142 112,142 110,136 109,131 110,128 115,124 119,123 128,116 133,113 130,109 121,101 116,97 112,97" fill="none" stroke="#17d2d2" stroke-opacity="0.82" stroke-width="1"/><polyline points="112,97 109,100 112,106 126,113 140,118 143,126 139,133 132,140 123,143 121,145 125,155 137,162 147,172 152,179 152,179 148,178 140,185 132,189 121,194 118,198 116,208 114,216 116,220 126,219 132,219 137,213 138,197 143,180 145,160 148,141 149,130 150,126 150,121 155,117 154,114 152,110 154,103 156,92 161,87 159,86 158,78" fill="none" stroke="#1bdfdf" stroke-opacity="0.88" stroke-width="1"/><polyline points="158,78 160,75 165,77 167,81 156,75 147,66 138,58 136,48 139,35 141,21 136,7 136,7 136,7 136,7 136,7 136,7 136,7 136,7 136,7 136,7 136,7 136,7 136,7 136,7 136,7 136,7 136,7 136,7 136,7 134,9 127,16 124,30 124,47 120,66 112,79 109,87 106,89 103,86 101,87 100,86 101,87" fill="none" stroke="#20f0f0" stroke-opacity="0.95" stroke-width="1"/><polyline points="101,87 99,86 96,93 95,98 95,100 103,96 111,96 120,107 124,106 127,109 123,114 124,118 121,119 118,118 114,110 109,103 109,101 114,99 119,97 128,90 134,82 134,69 127,57 119,51 115,44 108,39 107,40 109,45 106,48 103,46 103,42 100,43 97,46 98,50 98,57 103,69 112,73 122,73 122,71 113,68 106,69" fill="none" stroke="#14c8c8" stroke-opacity="0.78" stroke-width="1"/><polyline points="106,69 99,76 90,82 74,87 68,90 71,89 80,93 86,102 88,111 90,117 102,131 115,149 124,170 132,190 137,198 141,195 144,186 142,175 143,164 137,164 125,157 115,146 117,132 124,113 136,97 142,92 140,85 135,79 132,75 129,67 127,60 132,60 136,69 134,78 139,87 145,89 149,89 154,82 162,76 164,74 160,76" fill="none" stroke="#1de7e7" stroke-opacity="0.91" stroke-width="1"/><polyline points="160,76 153,81 148,85 146,88 149,83 152,71 161,65 168,63 170,61 167,62 162,61 162,53 151,45 144,36 143,27 147,20 145,16 142,13 140,11 136,7 136,7 136,7 136,7 136,7 136,7 136,7 136,7 136,7 136,7 136,7 136,7 136,7 136,7 136,7 136,7 136,7 136,7 136,7 136,7 136,7 136,7" fill="none" stroke="#1de6e6" stroke-opacity="0.91" stroke-width="1"/><polyline points="136,7 136,7 136,7 136,7 133,10 129,14 120,23 115,28 112,31 105,38 100,43 99,44 102,41 108,35 118,25 127,16 132,11 136,7 136,7 136,7 136,7 136,7 136,7 136,7 134,9 131,12 128,15 127,16 123,20 119,24 117,26 117,26 118,25 115,28 114,29 113,30 118,41 125,59 120,73 113,91 105,110" fill="none" stroke="#1fefef" stroke-opacity="0.95" stroke-width="1"/><polyline points="105,110 102,129 94,147 90,166 79,171 76,164 80,166 82,177 83,189 85,199 90,204 88,207 82,208 77,206 73,201 79,191 76,180 81,173 90,166 100,158 112,155 120,156 126,161 134,161 139,156 143,150 139,142 141,136 146,130 157,118 162,109 160,95 160,86 161,77 167,67 173,60 171,50 173,44 169,40 168,39 167,38" fill="none" stroke="#14c8c8" stroke-opacity="0.77" stroke-width="1"/><polyline points="167,38 164,35 161,32 166,37 166,48 167,63 169,70 170,71 169,69 168,70 169,73 167,85 165,101 156,118 148,132 140,145 134,161 123,175 119,185 119,197 119,211 120,225 117,241 126,255 136,265 136,265 138,263 141,260 140,261 136,265 136,265 136,265 136,265 136,265 136,265 136,265 136,265 136,265 136,265 136,265 136,265" fill="none" stroke="#1adede" stroke-opacity="0.87" stroke-width="1"/><polyline points="136,265 136,265 136,265 136,265 136,265 136,265 136,265 136,265 136,265 136,265 136,265 136,265 136,265 136,265 136,265 136,265 136,265 136,265 136,265 134,263 128,255 129,245 134,242 142,244 144,238 141,238 136,235 129,234 127,233 122,233 114,235 110,238 112,241 111,240 112,230 107,225 103,216 96,203 90,189 90,176 86,165" fill="none" stroke="#1fecec" stroke-opacity="0.93" stroke-width="1"/><polyline points="86,165 90,166 101,175 115,187 129,199 142,203 157,201 172,197 184,201 189,212 180,221 169,232 161,240 154,247 147,254 141,260 136,265 136,265 136,265 136,265 136,265 136,265 136,265 136,265 136,265 136,265 136,265 136,265 136,265 136,265 136,265 136,265 136,265 137,264 144,257 152,249 160,241 172,229 184,217 192,209 194,201" fill="none" stroke="#17d3d3" stroke-opacity="0.82" stroke-width="1"/><polyline points="194,201 188,186 195,166 206,146 210,127 212,110 210,96 207,82 199,70 194,65 195,66 196,67 199,70 204,75 208,79 199,88 190,95 183,101 176,105 174,113 181,121 183,122 185,125 180,135 174,143 180,152 180,156 175,156 171,153 170,148 168,141 161,123 160,109 167,102 166,106 160,109 153,110 151,111 146,108 148,93 152,72" fill="none" stroke="#0cadad" stroke-opacity="0.65" stroke-width="1"/><polyline points="152,72 158,53 158,42 154,33 150,23 146,17 139,10 136,7 136,7 136,7 136,7 136,7 138,9 140,11 144,15 151,22 158,29 160,33 156,33 151,39 148,48 144,64 141,80 140,96 136,105 136,109 142,126 142,152 143,173 141,182 138,190 142,193 145,195 149,202 149,205 141,206 142,202 142,201 145,201 152,202 163,207" fill="none" stroke="#20f0f0" stroke-opacity="0.95" stroke-width="1"/><polyline points="163,207 171,218 175,226 175,226 169,230 159,226 150,223 145,216 143,210 146,207 147,204 140,203 137,210 140,214 147,208 153,197 159,186 155,175 149,169 146,162 148,152 149,143 145,136 143,129 138,115 137,108 133,99 129,95 123,94 124,82 120,70 113,63 105,66 106,70 103,67 106,66 114,68 111,72 108,77 109,81 114,77" fill="none" stroke="#20f0f0" stroke-opacity="0.95" stroke-width="1"/><polyline points="114,77 121,72 125,63 127,60 132,65 142,62 154,58 148,56 140,62 140,64 141,61 142,57 145,47 152,40 152,32 149,26 148,26 145,33 147,50 144,66 144,70 132,72 121,78 111,84 99,87 94,89 94,85 96,81 105,84 110,88 114,91 119,92 122,95 127,91 132,86 128,86 125,90 124,98 123,110 123,123 117,132" fill="none" stroke="#1adcdc" stroke-opacity="0.86" stroke-width="1"/><polyline points="117,132 111,139 116,141 128,138 142,143 153,156 160,172 167,194 174,218 171,230 158,243 146,255 136,265 130,259 130,259 131,260 133,262 134,263 136,265 131,260 131,251 133,239 131,226 133,208 134,193 134,181 130,168 128,157 135,149 140,147 141,156 138,165 135,172 133,175 135,172 136,165 137,160 131,155 127,154 128,166 126,187" fill="none" stroke="#1bdede" stroke-opacity="0.87" stroke-width="1"/><polyline points="126,187 128,209 128,219 129,228 126,233 130,234 129,226 130,216 128,202 129,190 131,184 135,180 144,180 146,182 146,176 153,170 168,165 177,151 177,136 172,123 166,116 161,120 158,131 158,146 161,157 162,159 161,158 160,160 158,159 161,163 163,163 163,156 157,151 150,143 144,127 140,111 137,96 132,85 130,82 134,82 136,82" fill="none" stroke="#19dada" stroke-opacity="0.85" stroke-width="1"/><polyline points="136,82 143,80 144,77 146,80 146,82 146,86 151,84 156,87 160,91 167,96 182,96 198,95 201,96 200,93 197,100 189,110 182,119 176,129 175,136 176,140 178,144 182,150 188,155 184,152 177,135 171,115 168,100 163,97 156,94 151,93 146,101 145,113 142,127 140,140 145,152 143,170 147,186 152,191 159,190 167,189 169,189" fill="none" stroke="#15c9c9" stroke-opacity="0.78" stroke-width="1"/><polyline points="169,189 171,195 175,192 185,189 187,183 184,184 181,183 178,183 173,184 167,180 165,177 169,179 166,188 167,192 168,188 172,187 172,182 172,178 163,179 160,179 152,180 144,177 141,173 134,166 137,157 147,142 158,129 168,119 176,115 182,112 182,109 172,109 161,110 158,111 156,109 157,102 156,100 157,104 160,105 158,106 151,111" fill="none" stroke="#14c9c9" stroke-opacity="0.78" stroke-width="1"/><polyline points="151,111 145,117 150,123 153,132 154,140 159,146 156,152 156,156 153,159 145,169 131,176 117,179 104,186 97,191 98,195 98,204 105,208 114,212 126,214 137,213 145,208 144,200 133,190 120,183 112,176 111,166 113,162 118,158 122,157 122,156 127,154 127,151 130,143 137,128 141,116 140,109 137,102 144,93 156,91 178,100 188,110" fill="none" stroke="#17d0d0" stroke-opacity="0.81" stroke-width="1"/><polyline points="188,110 190,118 187,133 189,145 188,142 186,134 184,127 179,119 177,102 176,83 174,65 172,51 174,45 173,44 170,41 168,39 165,36 165,36 167,38 168,39 170,41 170,47 167,63 168,76 160,82 157,86 159,89 162,101 165,111 164,113 159,114 150,118 143,126 145,138 147,153 147,173 146,188 150,197 155,200 160,204 160,207" fill="none" stroke="#15cccc" stroke-opacity="0.79" stroke-width="1"/><polyline points="160,207 164,212 170,215 179,222 181,220 180,221 179,222 177,224 177,224 174,227 169,232 159,242 150,251 142,259 136,265 136,265 136,265 136,265 136,265 136,265 136,265 136,265 136,265 136,265 136,265 136,265 137,264 143,258 147,254 152,249 155,246 159,242 164,237 168,233 171,230 175,226 185,216 193,208 198,203 200,201 196,205" fill="none" stroke="#1eeaea" stroke-opacity="0.93" stroke-width="1"/><polyline points="196,205 191,210 196,205 200,201 205,196 206,195 207,194 188,184 170,173 162,157 160,144 157,141 158,146 160,147 161,153 164,158 171,161 175,162 176,154 179,151 180,149 176,143 180,141 177,131 167,125 150,117 134,115 122,116 119,120 116,135 109,154 103,168 103,173 98,166 100,154 105,147 111,139 120,136 128,133 130,129 126,125" fill="none" stroke="#13c3c3" stroke-opacity="0.75" stroke-width="1"/><polyline points="126,125 121,120 117,112 111,108 114,104 113,110 117,113 122,121 128,134 133,140 143,140 147,137 151,135 149,137 146,138 136,134 127,130 118,132 114,138 113,144 115,149 116,156 119,158 125,161 130,163 131,167 132,170 134,167 139,149 142,132 136,119 130,113 121,111 121,115 124,122 136,125 139,126 140,125 139,121 141,127 141,126" fill="none" stroke="#1de5e5" stroke-opacity="0.91" stroke-width="1"/><polyline points="141,126 143,128 152,130 158,132 158,138 157,152 158,170 164,186 169,196 165,200 163,201 160,190 153,169 148,153 149,146 150,141 153,136 159,126 164,118 164,118 165,122 162,124 154,126 145,128 137,138 133,139 135,137 134,137 142,133 147,137 157,140 161,146 152,148 141,158 133,174 124,194 120,218 118,241 124,253 136,265 136,265" fill="none" stroke="#17d3d3" stroke-opacity="0.82" stroke-width="1"/><polyline points="136,265 139,262 141,260 137,264 136,265 139,262 142,259 149,252 154,247 160,241 167,234 179,222 186,215 193,208 192,209 188,213 184,217 180,221 183,218 182,214 167,198 160,193 158,185 156,176 158,169 157,164 151,158 158,155 165,149 169,141 173,130 169,120 157,109 144,100 131,93 120,87 113,76 107,63 106,53 103,44 106,38" fill="none" stroke="#13c4c4" stroke-opacity="0.76" stroke-width="1"/><polyline points="106,38 114,29 127,24 139,28 148,31 156,30 160,34 161,32 158,29 157,28 157,28 154,25 151,22 148,19 143,14 142,13 139,12 137,14 139,23 132,40 128,60 126,77 127,98 134,127 146,155 152,182 152,205 151,219 149,232 145,242 132,251 122,251 116,245 112,241 108,237 101,230 97,226 97,222 104,212 111,205 113,196" fill="none" stroke="#20f0f0" stroke-opacity="0.95" stroke-width="1"/><polyline points="113,196 116,186 110,169 101,152 94,143 90,132 91,116 96,99 100,87 103,79 104,73 103,66 95,64 82,66 76,67 75,68 77,66 84,61 92,51 98,45 105,38 113,30 120,23 123,20 123,20 123,20 121,22 120,23 120,23 119,24 113,30 104,39 96,47 92,51 92,51 96,47 98,45 105,56 111,70 113,90 114,106" fill="none" stroke="#15cbcb" stroke-opacity="0.79" stroke-width="1"/><polyline points="114,106 113,124 110,139 108,157 105,176 99,198 97,221 104,233 111,240 117,246 118,247 112,241 111,240 106,235 106,235 108,237 106,235 96,224 91,192 79,171 75,146 83,129 97,120 111,112 123,107 132,99 135,93 132,92 130,93 140,89 140,85 143,85 141,88 140,94 143,101 149,117 156,132 158,140 153,150 145,163 140,184" fill="none" stroke="#19d8d8" stroke-opacity="0.85" stroke-width="1"/><polyline points="140,184 138,204 135,226 135,239 135,246 136,252 133,248 129,248 120,249 121,250 118,247 113,242 107,236 107,236 103,232 105,234 104,233 100,229 104,227 114,226 120,223 120,215 121,206 122,201 129,201 136,203 132,214 131,225 122,232 110,237 106,235 107,232 115,223 122,221 129,220 134,223 132,225 123,222 114,207 113,186 114,163" fill="none" stroke="#1de8e8" stroke-opacity="0.91" stroke-width="1"/><polyline points="114,163 111,143 113,132 110,129 116,124 118,125 123,128 126,130 121,129 118,117 120,101 119,91 117,79 116,70 120,66 119,63 114,60 111,60 113,56 116,48 119,42 126,33 129,18 136,7 136,7 136,7 136,7 136,7 136,7 138,9 151,22 160,31 164,35 161,32 159,30 158,29 164,35 168,41 169,46 170,48 171,44" fill="none" stroke="#19d7d7" stroke-opacity="0.84" stroke-width="1"/><polyline points="171,44 170,41 167,38 161,32 155,26 150,21 146,17 140,11 137,8 136,7 136,7 136,7 136,7 136,7 136,7 136,7 139,10 141,12 143,16 135,33 131,51 127,71 131,89 138,104 143,112 148,121 151,129 148,135 144,142 145,149 146,161 147,171 151,175 156,175 159,173 160,169 158,165 158,161 158,156 159,150 160,144" fill="none" stroke="#20f0f0" stroke-opacity="0.95" stroke-width="1"/><polyline points="160,144 152,138 146,129 141,118 134,106 122,97 114,91 121,86 131,82 137,77 145,79 156,78 164,81 169,91 166,99 165,101 165,110 173,112 183,117 191,119 190,117 189,111 185,99 173,87 163,80 154,89 147,102 144,117 140,130 133,135 127,139 123,141 129,150 136,153 138,154 136,154 140,148 146,152 151,161 154,170 156,168" fill="none" stroke="#18d5d5" stroke-opacity="0.83" stroke-width="1"/><polyline points="156,168 156,156 155,144 151,138 152,143 151,150 145,160 141,170 142,184 143,197 142,204 141,207 142,210 143,210 144,217 145,223 144,228 148,238 147,250 151,250 155,246 160,241 165,236 170,231 170,231 171,230 171,230 170,231 165,236 162,239 161,240 164,237 166,235 168,233 171,230 171,230 172,229 177,224 185,216 190,202 179,183" fill="none" stroke="#20f0f0" stroke-opacity="0.95" stroke-width="1"/><polyline points="179,183 169,172 166,167 171,167 180,161 179,148 172,131 170,122 172,120 162,114 150,106 136,98 125,92 112,89 104,81 96,72 96,61 97,50 104,44 115,39 125,33 131,35 127,41 115,47 103,52 87,56 83,60 81,62 77,66 73,70 69,74 66,77 70,73 71,72 72,71 78,65 85,58 95,48 104,39 106,37 111,32" fill="none" stroke="#16cfcf" stroke-opacity="0.80" stroke-width="1"/><polyline points="111,32 120,23 127,16 136,7 136,7 133,10 124,19 113,30 105,38 94,49 80,63 69,74 61,82 63,85 66,79 70,77 74,69 81,62 86,57 89,54 89,54 88,55 88,55 100,57 110,67 113,82 123,93 132,105 139,114 139,118 140,122 130,127 127,134 131,143 129,150 128,158 125,162 117,165 108,165 102,165 99,161" fill="none" stroke="#16cdcd" stroke-opacity="0.80" stroke-width="1"/><polyline points="99,161 98,157 100,149 110,137 117,128 117,117 118,103 125,90 134,73 137,58 139,45 141,37 140,33 143,28 143,22 143,14 136,7 136,7 136,7 136,7 136,7 136,7 136,7 136,7 136,7 136,7 136,7 136,7 136,7 139,10 139,10 138,9 141,12 144,15 151,22 162,33 173,44 178,49 180,52 179,63 177,74" fill="none" stroke="#1adcdc" stroke-opacity="0.86" stroke-width="1"/><polyline points="177,74 170,80 169,78 174,74 178,71 175,58 174,47 175,46 170,41 155,34 142,31 136,27 131,27 127,32 121,33 120,37 121,41 128,49 134,57 133,62 133,75 132,90 138,110 144,122 158,133 170,138 174,139 173,146 166,152 166,154 166,157 161,163 151,166 142,166 139,158 146,142 155,122 156,112 155,111 155,113 153,105" fill="none" stroke="#20f0f0" stroke-opacity="0.95" stroke-width="1"/><polyline points="153,105 149,93 142,76 134,60 134,46 129,35 128,32 129,29 128,20 130,13 129,14 127,16 127,16 123,20 119,24 117,26 118,25 123,28 127,34 130,39 129,46 125,52 120,53 112,48 107,36 110,33 112,31 115,28 117,26 130,32 148,36 164,41 171,44 171,42 166,37 163,34 163,34 161,32 164,35 165,36 165,36" fill="none" stroke="#19d9d9" stroke-opacity="0.85" stroke-width="1"/><polyline points="165,36 167,38 166,37 168,39 169,40 174,45 171,42 174,45 175,46 173,44 171,42 170,41 162,41 155,46 157,52 163,52 166,48 173,44 173,45 174,51 168,53 158,62 150,73 145,81 142,77 134,76 132,86 135,90 138,93 138,96 133,91 130,88 129,92 134,86 142,72 150,55 151,45 144,29 140,21 143,14 142,13" fill="none" stroke="#1eeaea" stroke-opacity="0.93" stroke-width="1"/><polyline points="142,13 141,12 138,9 136,7 139,10 140,11 144,15 146,17 143,14 138,9 136,7 136,7 136,7 136,7 139,10 143,14 143,14 141,12 141,12 142,13 146,17 149,20 144,31 142,45 144,60 141,70 135,76 130,84 122,96 114,107 109,114 104,115 106,116 104,108 103,104 106,107 118,115 118,127 115,143 113,153 112,162" fill="none" stroke="#20f0f0" stroke-opacity="0.95" stroke-width="1"/><polyline points="112,162 109,174 110,184 106,195 105,206 103,208 101,205 103,201 109,189 111,188 116,188 113,188 108,180 100,171 93,163 89,153 82,136 85,117 93,99 103,82 113,74 115,71 109,71 105,70 101,75 96,81 96,81 104,77 114,69 123,58 124,56 118,55 105,52 91,52 92,51 96,47 102,41 105,38 107,36 107,36 108,35" fill="none" stroke="#16cece" stroke-opacity="0.80" stroke-width="1"/><polyline points="108,35 109,34 124,36 136,38 141,39 144,43 145,44 153,43 164,45 169,46 165,51 158,58 151,68 145,81 139,96 135,112 135,127 137,135 145,141 149,152 147,162 144,174 146,180 151,189 144,189 135,184 128,182 125,184 129,187 136,192 141,189 142,197 144,205 149,212 156,212 157,208 161,205 168,199 170,202 175,198 172,191" fill="none" stroke="#1ce2e2" stroke-opacity="0.89" stroke-width="1"/><polyline points="172,191 168,180 169,170 173,149 172,134 173,125 183,122 190,116 192,108 191,99 191,89 188,78 184,81 181,88 177,88 178,84 178,80 173,84 175,84 177,86 180,78 185,67 187,62 183,60 177,63 173,65 162,68 156,78 150,89 143,102 138,111 130,124 122,137 119,146 123,158 127,161 132,160 136,157 138,156 138,153 143,148" fill="none" stroke="#0fb6b6" stroke-opacity="0.69" stroke-width="1"/><polyline points="143,148 141,151 135,159 133,168 130,166 126,165 124,166 129,159 136,158 138,157 136,153 131,158 123,162 116,163 111,167 111,176 106,182 110,191 112,194 109,200 102,208 93,219 92,221 90,219 87,216 87,216 91,220 98,220 101,211 100,205 101,195 105,181 109,172 114,163 113,157 115,152 120,146 124,137 129,124 137,109 149,98" fill="none" stroke="#17d1d1" stroke-opacity="0.81" stroke-width="1"/><polyline points="149,98 158,95 153,98 145,108 141,119 133,134 126,149 122,167 120,190 115,214 108,232 111,240 117,246 122,251 132,261 136,265 136,265 136,265 136,265 136,265 136,265 136,265 132,261 126,243 125,227 127,215 124,205 126,197 130,198 134,196 132,196 123,193 115,196 110,205 103,215 99,216 106,209 114,196 121,183 121,178 122,174" fill="none" stroke="#20f0f0" stroke-opacity="0.95" stroke-width="1"/><polyline points="122,174 126,171 136,166 148,161 156,165 160,178 155,187 156,194 154,196 146,206 137,216 128,223 121,226 118,228 125,229 134,231 133,230 126,229 117,222 117,215 125,221 142,224 150,228 147,232 146,236 146,238 146,230 147,215 146,200 148,189 155,185 160,186 164,185 160,181 162,177 162,174 161,171 166,175 171,173 179,166 183,162" fill="none" stroke="#20f0f0" stroke-opacity="0.95" stroke-width="1"/><polyline points="183,162 188,158 191,155 191,153 186,157 184,162 180,170 172,171 171,169 176,173 180,185 186,194 187,206 183,218 173,228 167,234 164,237 167,234 171,230 176,225 179,222 182,219 186,215 189,212 190,211 189,203 183,192 180,182 185,170 190,158 190,150 187,142 182,132 171,132 164,134 149,139 137,145 127,153 120,153 121,157 129,160" fill="none" stroke="#16cdcd" stroke-opacity="0.79" stroke-width="1"/><polyline points="129,160 136,162 139,159 145,159 151,160 149,167 148,171 142,177 137,187 127,200 118,215 120,219 123,214 128,208 128,198 126,190 128,185 135,180 145,182 156,187 168,195 173,200 168,204 153,208 133,210 113,208 109,206 113,198 124,190 135,188 143,191 139,196 137,201 131,209 130,214 131,208 132,194 135,180 140,171 144,158 145,147" fill="none" stroke="#20f0f0" stroke-opacity="0.95" stroke-width="1"/><polyline points="145,147 146,141 150,146 153,151 159,158 162,167 162,173 159,181 155,194 151,204 147,212 145,213 143,216 146,213 147,211 151,205 155,210 160,217 160,224 161,224 153,224 152,232 144,242 134,254 135,264 136,265 136,265 136,265 136,265 136,265 136,265 136,265 133,262 121,250 117,234 119,223 128,216 136,207 134,195 130,189 130,184" fill="none" stroke="#1ce2e2" stroke-opacity="0.89" stroke-width="1"/><polyline points="130,184 134,174 131,165 129,161 128,163 134,169 139,173 131,178 127,186 122,195 120,199 120,203 126,206 133,218 142,232 151,241 153,243 152,244 153,248 147,254 138,263 136,265 136,265 136,265 136,265 136,265 136,265 136,265 136,265 136,265 136,265 136,265 136,265 136,265 136,265 136,265 140,261 150,251 152,249 148,253 142,259" fill="none" stroke="#20f0f0" stroke-opacity="0.95" stroke-width="1"/><polyline points="142,259 137,264 142,259 150,251 153,248 154,247 155,246 160,241 164,237 163,238 160,241 156,245 150,249 148,253 145,256 141,256 137,263 134,263 131,260 128,257 126,255 123,252 118,247 118,247 112,241 101,229 100,213 100,200 100,188 95,173 94,153 94,134 96,116 104,105 112,103 122,106 129,106 129,101 124,98 121,97 125,103" fill="none" stroke="#1bdfdf" stroke-opacity="0.88" stroke-width="1"/><polyline points="125,103 130,110 136,117 141,123 145,130 142,140 138,148 137,151 143,152 155,153 171,154 178,153 182,153 182,165 178,189 170,206 158,216 154,230 147,244 142,250 140,255 138,256 134,261 126,255 123,245 124,231 131,216 133,205 125,203 119,209 118,217 117,221 118,220 117,218 114,213 110,207 108,197 107,189 109,183 113,176 115,174" fill="none" stroke="#20f0f0" stroke-opacity="0.95" stroke-width="1"/><polyline points="115,174 112,170 117,175 122,169 130,169 132,158 134,145 131,135 133,124 138,111 140,99 137,85 129,76 130,74 133,64 129,58 121,48 111,34 111,32 116,27 119,24 118,25 113,30 110,33 113,30 112,31 114,29 116,27 117,26 116,30 124,36 125,39 122,55 125,67 126,66 125,61 124,52 124,45 129,39 122,34 116,30" fill="none" stroke="#20f0f0" stroke-opacity="0.95" stroke-width="1"/><polyline points="116,30 119,27 127,26 132,27 131,32 127,39 123,43 118,49 113,59 103,65 95,66 97,71 96,75 101,77 104,77 108,75 108,65 110,56 117,41 120,23 127,16 127,16 125,18 124,19 122,21 119,24 128,26 138,38 139,50 140,55 148,62 161,62 165,58 165,51 157,41 155,35 156,29 153,26 155,28 157,35 159,50" fill="none" stroke="#1eecec" stroke-opacity="0.93" stroke-width="1"/><polyline points="159,50 158,63 159,73 161,84 163,95 162,99 156,101 151,106 153,110 162,114 167,129 169,139 174,139 179,144 178,154 172,165 169,175 171,188 173,197 174,199 181,206 192,209 194,207 191,210 179,219 165,222 159,219 154,206 156,190 156,172 150,156 142,143 130,139 123,143 122,146 123,149 129,152 133,153 138,144 144,137 147,135" fill="none" stroke="#1ce4e4" stroke-opacity="0.90" stroke-width="1"/><polyline points="147,135 155,138 155,140 151,144 150,151 145,151 143,147 150,150 157,152 158,161 152,167 143,167 140,166 133,166 127,168 123,175 128,175 126,180 117,185 106,188 101,186 102,180 99,170 101,156 107,150 114,150 121,151 128,156 130,162 128,164 122,167 117,166 110,169 103,171 102,174 103,179 110,179 112,173 116,164 121,166 123,168" fill="none" stroke="#20f0f0" stroke-opacity="0.95" stroke-width="1"/><polyline points="123,168 124,161 131,155 142,151 146,154 147,158 145,170 141,178 138,185 136,195 133,207 132,216 131,222 124,229 122,237 121,246 123,252 126,255 128,257 132,261 130,259 132,254 131,245 134,240 139,245 140,248 138,248 136,242 126,234 115,220 107,204 100,196 104,191 105,188 103,184 99,174 96,162 94,151 97,140 100,124 106,108" fill="none" stroke="#18d6d6" stroke-opacity="0.83" stroke-width="1"/><polyline points="106,108 111,86 108,64 107,39 120,23 130,13 135,8 136,7 136,7 136,7 136,7 136,7 136,7 136,7 136,7 137,8 141,12 140,11 137,8 137,8 136,7 136,7 136,7 134,9 134,30 134,55 128,76 124,87 120,103 109,115 100,119 93,121 87,121 87,126 86,131 89,134 95,139 108,139 114,147 118,150 120,143" fill="none" stroke="#18d6d6" stroke-opacity="0.84" stroke-width="1"/><polyline points="120,143 119,128 116,116 112,100 110,84 112,71 118,64 118,60 111,54 104,45 102,41 100,43 102,47 107,49 119,53 124,50 127,47 119,44 115,41 117,30 120,23 126,17 128,20 125,31 125,39 127,36 133,36 141,38 141,42 140,56 135,74 136,88 138,98 138,113 139,120 137,121 134,114 134,107 138,100 138,88 137,76" fill="none" stroke="#20f0f0" stroke-opacity="0.95" stroke-width="1"/><polyline points="137,76 133,60 132,47 137,34 142,23 144,21 148,20 148,19 149,20 152,23 155,26 158,29 156,39 146,54 144,64 143,73 146,78 144,84 138,93 134,104 130,114 127,126 128,138 132,149 136,163 134,181 130,203 130,224 131,248 136,265 136,265 137,264 144,257 150,251 156,245 155,246 155,239 153,230 151,219 147,209 141,204" fill="none" stroke="#1be1e1" stroke-opacity="0.89" stroke-width="1"/><polyline points="141,204 139,200 134,195 134,188 140,179 141,173 142,164 134,155 130,152 131,154 138,157 144,158 148,159 148,160 153,157 161,149 167,143 168,134 170,126 171,118 178,107 188,94 206,82 208,79 200,71 195,66 190,61 184,55 181,52 181,52 181,55 178,59 181,74 184,89 182,105 181,128 183,144 186,163 183,174 174,179 162,179" fill="none" stroke="#1adddd" stroke-opacity="0.87" stroke-width="1"/><polyline points="162,179 151,180 150,183 147,192 144,203 140,204 133,197 128,197 125,203 119,208 111,204 99,197 97,186 91,169 93,153 97,140 98,131 101,127 104,123 104,122 101,115 102,106 101,102 101,104 99,106 95,106 97,105 91,105 81,107 71,119 65,131 70,140 80,141 94,140 103,140 110,142 114,149 109,162 100,171 94,176 94,184" fill="none" stroke="#15cccc" stroke-opacity="0.79" stroke-width="1"/><polyline points="94,184 100,198 115,211 124,220 127,228 124,228 113,227 102,228 97,226 93,222 96,221 95,224 91,220 91,220 94,223 98,227 97,226 100,229 102,231 101,230 103,232 106,235 108,237 107,236 106,235 106,235 102,231 100,229 104,233 114,243 120,249 129,248 140,238 144,231 146,225 153,221 156,214 153,208 150,200 147,196 138,190" fill="none" stroke="#18d4d4" stroke-opacity="0.83" stroke-width="1"/><polyline points="138,190 131,184 120,189 116,201 116,214 123,227 130,230 136,227 135,216 132,202 123,186 121,169 119,150 117,141 121,133 128,123 131,109 127,90 128,75 134,66 140,51 139,33 132,20 130,17 133,15 141,12 145,16 148,19 143,14 136,7 136,7 136,7 136,7 136,7 136,7 136,7 136,7 136,7 136,7 129,14 117,26" fill="none" stroke="#20f0f0" stroke-opacity="0.95" stroke-width="1"/><polyline points="117,26 106,37 98,45 99,44 101,50 103,58 114,62 126,69 136,85 138,100 136,111 135,117 132,116 132,105 133,99 131,95 124,97 118,99 111,98 100,106 97,120 98,137 106,152 118,163 130,172 141,184 151,193 154,201 158,205 153,208 147,204 139,201 128,192 121,180 115,165 112,153 106,143 103,130 97,121 86,116 83,105" fill="none" stroke="#1bdede" stroke-opacity="0.87" stroke-width="1"/><polyline points="83,105 88,94 104,94 115,94 119,99 120,107 123,113 127,130 124,151 110,167 100,170 102,171 106,167 101,171 91,177 88,188 83,200 85,206 95,211 105,215 112,219 117,223 125,220 137,221 150,230 161,240 162,239 162,239 157,244 151,250 148,253 145,256 136,265 136,265 135,264 127,256 122,251 120,249 117,246 115,244 116,245" fill="none" stroke="#1ce2e2" stroke-opacity="0.89" stroke-width="1"/><polyline points="116,245 114,243 114,243 114,243 113,242 114,243 123,234 134,227 148,211 161,198 169,189 168,185 153,183 143,185 136,193 132,205 125,215 123,221 120,223 126,226 136,234 150,240 158,243 160,241 162,239 164,235 169,229 172,215 175,198 177,184 182,172 188,168 186,170 181,170 175,168 168,160 166,148 167,129 168,116 170,100 170,82" fill="none" stroke="#1ce4e4" stroke-opacity="0.90" stroke-width="1"/><polyline points="170,82 177,66 180,54 178,49 174,45 173,44 173,44 176,47 180,51 180,51 180,51 180,51 180,51 178,49 170,41 158,41 151,43 150,46 153,50 156,53 156,57 149,59 145,62 142,67 138,67 131,69 127,74 133,80 140,74 139,68 137,60 139,50 130,43 115,37 108,37 104,39 101,42 99,44 98,47 101,49 106,47" fill="none" stroke="#18d6d6" stroke-opacity="0.83" stroke-width="1"/><polyline points="106,47 115,43 124,39 130,35 129,34 123,40 118,54 116,65 117,67 120,66 121,72 122,79 121,93 122,112 120,131 120,149 118,167 119,187 119,204 118,213 117,217 122,217 130,218 141,223 152,232 161,240 161,240 161,240 160,241 156,245 148,253 141,260 136,265 136,265 136,265 136,265 136,265 139,256 149,236 154,226 157,216" fill="none" stroke="#1eecec" stroke-opacity="0.93" stroke-width="1"/><polyline points="157,216 160,205 167,193 170,187 171,181 177,177 182,169 185,158 186,145 190,133 189,125 189,113 190,99 192,88 192,77 189,64 178,49 161,32 150,21 143,14 138,9 136,7 136,7 136,7 140,11 142,13 142,13 138,9 137,8 136,7 136,7 136,7 136,7 136,7 136,7 136,7 136,11 135,26 137,37 142,34 150,25" fill="none" stroke="#17d3d3" stroke-opacity="0.82" stroke-width="1"/><polyline points="150,25 145,16 137,8 136,7 138,9 139,10 143,14 140,11 138,9 136,7 136,7 136,7 136,7 137,8 144,15 149,20 152,23 147,18 142,13 136,7 134,9 134,9 141,12 149,23 152,33 161,40 163,38 164,35 161,34 163,39 167,55 169,75 164,85 159,89 159,95 163,100 166,106 169,107 170,104 162,107 155,109" fill="none" stroke="#19dada" stroke-opacity="0.86" stroke-width="1"/><polyline points="155,109 151,117 146,133 145,147 141,154 137,167 138,176 133,180 133,187 133,183 134,170 134,152 139,137 148,121 151,110 152,103 154,98 152,92 141,83 130,83 125,92 121,98 115,99 106,97 93,93 81,100 77,116 74,132 71,145 72,160 87,171 105,182 122,191 121,198 118,207 120,227 119,248 127,256 135,264 136,265 136,265" fill="none" stroke="#1bdede" stroke-opacity="0.87" stroke-width="1"/><polyline points="136,265 136,265 131,260 121,250 112,241 110,239 111,240 113,242 111,240 111,240 112,241 110,239 110,239 106,235 100,229 92,221 87,216 84,213 86,215 88,217 90,219 91,220 86,215 78,198 77,176 81,164 85,163 85,167 88,174 91,174 94,171 99,159 113,138 122,115 126,92 129,78 131,64 129,58 135,59 142,62 151,64" fill="none" stroke="#17d3d3" stroke-opacity="0.82" stroke-width="1"/><polyline points="151,64 163,71 174,81 177,91 177,95 175,93 169,88 162,83 156,83 147,90 143,90 139,88 138,89 125,99 118,111 118,113 116,113 109,121 107,130 104,137 98,146 99,152 102,152 113,153 125,155 137,150 148,137 159,125 162,112 161,108 156,116 148,130 149,140 158,145 169,149 175,154 177,172 173,193 163,221 148,244 141,260" fill="none" stroke="#1adede" stroke-opacity="0.87" stroke-width="1"/><polyline points="141,260 136,265 136,265 136,265 136,265 136,265 136,265 136,265 136,265 136,265 136,265 136,265 136,265 139,254 138,241 133,232 127,224 119,220 115,211 111,194 100,172 90,155 76,146 65,141 59,134 56,126 53,113 53,95 56,87 59,84 62,81 63,80 65,78 67,76 70,73 75,68 82,61 91,52 103,40 107,36 113,30" fill="none" stroke="#1adbdb" stroke-opacity="0.86" stroke-width="1"/><polyline points="113,30 120,23 127,16 128,15 125,18 121,22 118,25 114,29 114,33 124,46 131,67 133,81 127,83 125,85 118,84 107,90 108,99 113,107 117,117 122,130 127,141 125,154 114,175 107,194 107,211 107,227 111,240 124,253 135,264 136,265 136,265 136,265 136,265 136,265 136,265 136,265 136,265 136,265 136,265 136,265 141,260" fill="none" stroke="#19d8d8" stroke-opacity="0.84" stroke-width="1"/><polyline points="141,260 151,250 159,242 164,237 170,231 182,219 195,206 204,197 201,185 196,173 200,165 207,153 212,144 216,141 220,140 217,135 209,130 200,128 193,125 192,121 189,117 185,114 182,116 180,128 176,135 170,145 164,151 162,150 167,143 167,128 164,107 164,86 160,70 160,61 164,63 175,68 186,66 190,64 191,62 189,68 184,72" fill="none" stroke="#0daeae" stroke-opacity="0.66" stroke-width="1"/><polyline points="184,72 176,81 171,87 165,98 168,115 172,133 166,144 159,148 155,156 158,170 165,182 175,191 185,197 189,208 185,216 173,228 162,239 147,254 136,265 136,265 136,265 136,265 136,265 136,265 136,265 136,265 136,265 136,265 136,265 136,265 136,265 136,265 136,265 136,265 136,265 136,265 136,265 136,265 136,265 136,265 146,255" fill="none" stroke="#1be1e1" stroke-opacity="0.89" stroke-width="1"/><polyline points="146,255 147,239 142,223 139,207 138,189 136,178 127,167 119,162 113,161 112,162 114,169 119,174 125,175 136,179 145,180 147,176 147,168 144,154 137,140 135,130 138,121 136,112 130,103 129,98 129,101 123,112 121,127 121,138 122,141 129,140 131,131 131,121 128,108 125,96 125,88 121,84 118,78 116,78 115,73 117,71 117,65" fill="none" stroke="#1de8e8" stroke-opacity="0.92" stroke-width="1"/><polyline points="117,65 123,63 135,68 142,75 138,83 133,87 132,86 127,83 125,83 126,83 125,86 120,91 117,98 114,104 112,109 117,111 118,112 113,111 114,111 116,112 118,109 117,107 115,103 114,102 110,107 108,108 106,107 105,108 101,110 101,109 97,118 97,133 104,148 110,159 118,161 120,159 120,155 126,146 128,145 129,153 135,153" fill="none" stroke="#15cbcb" stroke-opacity="0.79" stroke-width="1"/><polyline points="135,153 133,154 129,157 132,160 133,156 127,145 125,134 125,125 125,124 131,128 129,135 125,136 118,135 114,135 110,137 106,143 113,147 123,147 128,142 132,134 137,129 144,124 141,128 141,135 141,132 150,125 158,123 156,126 162,125 170,117 170,115 168,115 169,114 170,119 169,118 172,118 170,119 169,126 164,136 152,152 140,160" fill="none" stroke="#15caca" stroke-opacity="0.78" stroke-width="1"/><polyline points="140,160 128,158 123,157 127,159 145,156 156,151 157,151 161,151 161,148 151,148 145,142 144,143 146,144 148,149 144,150 145,149 144,149 147,144 148,147 150,150 152,158 154,164 152,168 150,176 148,188 146,197 149,208 149,217 148,231 148,238 149,236 156,233 166,233 169,232 172,229 177,224 182,219 187,211 189,198 184,181 181,160" fill="none" stroke="#1ce2e2" stroke-opacity="0.89" stroke-width="1"/><polyline points="181,160 176,141 175,128 175,122 180,113 192,107 198,105 205,99 201,94 196,89 191,82 190,79 192,83 194,89 191,89 183,89 177,95 169,107 166,115 171,128 178,139 183,146 193,146 203,152 215,157 222,157 225,150 229,143 231,139 230,145 226,152 221,157 221,159 219,162 220,165 220,168 217,171 204,178 190,181 181,181 175,175" fill="none" stroke="#0ba7a7" stroke-opacity="0.62" stroke-width="1"/><polyline points="175,175 173,168 164,154 159,133 148,115 140,96 130,80 127,71 120,65 118,56 120,45 118,43 113,40 102,41 97,46 93,50 88,57 82,75 81,93 84,105 88,113 89,117 91,122 98,123 98,126 95,128 93,126 91,129 92,131 92,133 95,135 95,136 98,140 98,146 94,151 93,151 99,155 112,163 127,175 139,193 146,200" fill="none" stroke="#17d2d2" stroke-opacity="0.82" stroke-width="1"/><polyline points="146,200 151,203 157,209 159,214 160,215 166,214 163,207 153,203 150,198 151,194 158,187 160,182 158,176 147,169 143,159 138,150 138,146 134,148 132,143 130,131 125,115 121,98 118,87 122,75 127,62 132,51 133,36 125,27 120,23 122,21 123,20 122,21 122,21 121,22 116,27 110,33 107,36 109,34 106,37 104,39 102,41" fill="none" stroke="#1ce2e2" stroke-opacity="0.89" stroke-width="1"/><polyline points="102,41 93,50 86,57 80,63 75,68 74,69 76,67 78,65 83,60 90,53 102,41 110,33 116,27 118,25 117,26 115,28 121,22 128,15 136,7 136,7 136,7 133,10 133,10 125,18 117,26 116,27 112,31 112,31 117,26 128,26 140,25 147,20 147,18 149,23 142,33 130,41 125,53 126,70 120,87 109,105 94,127" fill="none" stroke="#1de6e6" stroke-opacity="0.91" stroke-width="1"/><polyline points="94,127 82,147 80,158 85,167 89,177 85,185 85,195 92,207 100,226 114,243 127,256 134,263 136,265 136,265 136,265 136,265 129,258 122,250 121,244 115,234 114,210 118,185 116,163 118,148 121,132 127,119 131,116 139,110 146,106 159,104 168,104 171,98 173,97 174,96 170,96 168,100 165,101 166,99 174,101 178,98 180,103" fill="none" stroke="#14c9c9" stroke-opacity="0.78" stroke-width="1"/><polyline points="180,103 180,116 178,132 177,145 172,155 170,164 167,173 162,180 161,179 159,177 152,178 141,177 131,169 130,157 128,147 129,139 131,135 139,136 139,131 138,128 145,121 149,120 149,112 151,95 142,76 131,60 123,49 119,35 119,24 125,18 127,16 133,10 135,8 131,12 128,15 128,15 133,22 138,30 133,36 127,49 116,58" fill="none" stroke="#17d2d2" stroke-opacity="0.82" stroke-width="1"/><polyline points="116,58 110,69 111,81 112,95 122,108 129,129 139,151 147,164 156,174 164,181 164,178 164,172 163,167 161,163 162,163 164,169 165,170 163,168 159,174 158,178 154,189 144,198 134,205 127,222 129,245 137,259 136,265 136,265 136,265 136,265 136,265 137,264 142,259 151,250 155,236 153,217 146,196 138,181 135,163 131,144 124,123" fill="none" stroke="#20f0f0" stroke-opacity="0.95" stroke-width="1"/><polyline points="124,123 117,104 113,89 102,74 92,63 88,58 89,59 88,58 89,54 94,49 97,46 105,38 109,34 113,30 119,24 124,19 133,18 135,24 136,30 136,39 137,55 144,70 149,85 159,99 164,107 166,112 167,116 162,122 161,128 161,127 155,127 141,131 133,134 125,129 118,132 113,141 119,149 129,157 132,171 136,183 135,199" fill="none" stroke="#1ce3e3" stroke-opacity="0.90" stroke-width="1"/><polyline points="135,199 134,221 134,242 134,263 136,265 136,265 136,265 136,265 136,265 136,265 136,265 136,265 136,265 136,265 136,265 136,265 136,265 136,265 136,265 136,265 136,265 136,265 136,265 136,265 136,265 136,265 136,265 136,265 136,265 136,265 136,265 136,265 136,265 136,265 136,265 136,265 136,265 131,260 123,252 127,243 128,231" fill="none" stroke="#14c8c8" stroke-opacity="0.77" stroke-width="1"/><polyline points="128,231 124,221 115,220 109,219 102,213 103,213 104,221 111,234 115,244 122,251 127,256 129,258 129,258 132,261 135,264 134,263 127,256 124,253 121,250 121,250 122,251 120,249 121,250 119,248 119,243 120,223 126,197 130,172 127,150 120,132 111,109 98,83 91,56 98,45 106,37 120,23 132,11 136,7 136,7 136,7 136,7" fill="none" stroke="#20f0f0" stroke-opacity="0.95" stroke-width="1"/><polyline points="136,7 136,7 136,7 136,7 136,7 136,7 136,7 136,7 136,7 136,7 136,7 136,7 136,7 136,7 136,7 138,9 148,19 156,27 168,39 175,48 165,57 152,64 143,73 127,80 109,84 101,88 95,98 91,110 86,119 85,128 89,137 94,140 95,141 97,140 99,137 99,130 106,122 117,129 126,143 131,157 141,173" fill="none" stroke="#15caca" stroke-opacity="0.78" stroke-width="1"/><polyline points="141,173 142,183 141,183 142,181 136,185 130,191 120,197 108,204 104,205 105,202 106,190 106,179 104,169 107,153 105,138 105,129 106,130 108,138 110,150 108,163 105,171 97,185 88,200 85,206 90,214 96,221 99,226 100,229 100,229 103,232 102,231 102,231 103,232 104,233 102,231 101,230 98,227 96,225 93,222 90,219 86,215" fill="none" stroke="#15cccc" stroke-opacity="0.79" stroke-width="1"/><polyline points="86,215 84,212 88,208 98,204 111,202 121,208 128,208 141,197 150,185 155,172 155,164 148,157 152,156 158,151 162,153 165,160 168,163 172,157 172,146 171,126 166,107 158,87 153,78 157,77 170,86 182,97 187,106 182,112 178,123 174,129 173,133 169,126 169,120 164,118 154,117 145,106 141,96 140,86 140,76 143,66 145,61" fill="none" stroke="#19d8d8" stroke-opacity="0.84" stroke-width="1"/><polyline points="145,61 146,63 154,60 163,62 167,68 166,80 164,94 161,107 157,127 157,150 164,168 170,178 180,183 186,183 187,181 187,178 187,177 186,181 179,190 177,205 171,218 163,221 152,223 146,230 144,248 141,260 136,265 136,265 134,263 121,250 106,234 105,208 107,184 104,167 102,163 99,159 98,153 98,147 98,134 102,120 105,97" fill="none" stroke="#18d4d4" stroke-opacity="0.83" stroke-width="1"/><polyline points="105,97 103,78 97,63 96,48 103,40 112,31 119,24 128,15 136,7 136,7 139,10 141,12 138,9 136,7 136,7 136,7 136,7 136,7 136,7 136,7 136,7 136,7 136,7 136,7 138,9 143,14 148,19 156,27 158,29 160,31 162,33 163,34 165,36 170,41 170,41 166,37 159,30 150,21 144,15 142,13 147,18" fill="none" stroke="#1eebeb" stroke-opacity="0.93" stroke-width="1"/><polyline points="147,18 154,25 152,23 142,13 136,7 136,7 136,7 136,7 136,7 136,7 136,7 136,7 136,7 136,7 136,7 136,7 136,7 136,7 136,7 136,7 136,7 136,7 136,7 136,7 136,7 136,7 136,7 136,7 136,7 136,7 136,7 136,7 136,7 136,7 136,7 139,10 146,17 150,21 153,24 155,26 153,24" fill="none" stroke="#20f0f0" stroke-opacity="0.95" stroke-width="1"/><polyline points="153,24 151,22 149,20 156,27 167,38 173,44 175,46 175,46 176,47 181,52 190,61 199,70 205,81 210,92 214,100 216,113 214,122 213,135 213,141 214,149 214,160 217,165 218,166 218,171 206,181 190,190 177,203 163,215 157,223 156,228 157,232 160,227 165,216 166,208 164,202 164,200 163,198 154,199 145,202 135,203 127,200" fill="none" stroke="#10b8b8" stroke-opacity="0.70" stroke-width="1"/><polyline points="127,200 125,199 128,194 137,183 147,171 156,151 159,130 160,106 163,78 160,58 158,46 160,40 165,36 163,34 160,31 155,26 155,26 156,27 160,31 164,35 165,36 168,39 169,40 165,36 159,30 155,26 152,23 151,22 145,16 138,9 136,7 136,7 136,7 136,7 136,7 136,7 136,7 136,7 136,7 136,7 136,7" fill="none" stroke="#15cccc" stroke-opacity="0.79" stroke-width="1"/><polyline points="136,7 136,7 136,7 136,7 136,7 136,7 136,7 136,7 136,7 136,7 143,14 151,22 155,26 161,32 163,34 155,46 153,51 153,57 152,59 148,57 136,57 130,58 126,64 119,64 115,62 109,60 103,55 104,50 111,54 116,63 125,71 129,77 135,75 144,77 153,85 161,98 161,111 154,122 151,132 144,140 138,147" fill="none" stroke="#1eebeb" stroke-opacity="0.93" stroke-width="1"/><polyline points="138,147 128,154 121,161 112,164 102,161 93,160 90,155 88,146 88,138 90,134 93,125 93,114 95,108 95,99 88,93 89,94 95,97 101,98 109,99 105,103 96,104 90,101 87,99 90,95 97,92 107,89 112,96 106,111 97,133 90,151 86,163 77,167 70,176 65,188 64,193 70,199 74,203 71,200 67,196 62,191 58,187" fill="none" stroke="#0ba8a8" stroke-opacity="0.63" stroke-width="1"/><polyline points="58,187 57,186 58,187 61,190 58,187 58,187 64,193 73,188 84,178 100,169 115,160 129,158 133,157 138,153 143,150 143,151 147,157 158,157 163,151 166,151 165,148 158,144 153,142 154,153 159,169 155,181 152,187 149,189 148,189 147,202 143,217 134,230 134,236 136,237 137,239 140,240 145,238 149,236 148,237 148,236 144,234" fill="none" stroke="#18d6d6" stroke-opacity="0.84" stroke-width="1"/><polyline points="144,234 144,227 145,220 140,214 136,204 132,199 125,191 130,183 134,175 133,169 125,164 115,159 113,152 119,135 128,122 135,115 135,112 133,107 133,101 129,102 128,101 131,98 133,100 134,104 131,108 132,104 130,109 126,115 121,121 113,123 103,122 96,116 91,106 93,108 98,111 101,112 105,116 108,114 108,103 101,94 88,77" fill="none" stroke="#1de6e6" stroke-opacity="0.91" stroke-width="1"/><polyline points="88,77 83,60 87,56 91,52 93,50 100,43 114,29 128,15 136,7 136,7 136,7 136,7 136,7 136,7 136,7 136,7 136,7 136,7 136,7 136,7 136,7 136,7 136,7 136,7 136,7 136,7 136,7 136,7 136,7 136,7 136,7 136,7 136,7 136,7 136,7 136,7 136,7 136,7 136,7 136,7 136,7" fill="none" stroke="#20f0f0" stroke-opacity="0.95" stroke-width="1"/><polyline points="136,7 136,7 136,7 136,7 136,7 136,7 136,7 136,7 136,7 137,8 149,20 161,32 160,39 142,48 128,53 115,55 109,53 108,52 115,48 121,49 127,49 134,49 139,43 150,37 154,37 152,38 146,38 141,37 141,35 148,29 155,26 155,26 153,24 152,23 156,27 155,28 148,33 143,34 143,38 142,42 133,53" fill="none" stroke="#1feded" stroke-opacity="0.94" stroke-width="1"/><polyline points="133,53 124,69 124,82 132,100 140,121 142,138 143,155 143,162 141,171 142,177 145,182 147,185 145,188 147,188 151,188 156,181 155,178 154,178 160,175 172,167 187,157 198,150 201,141 205,136 203,122 200,109 199,99 198,93 193,83 177,66 165,52 154,49 141,45 134,44 129,46 129,47 139,49 152,53 164,52 164,48 161,44" fill="none" stroke="#19d8d8" stroke-opacity="0.85" stroke-width="1"/><polyline points="161,44 161,36 159,32 158,29 155,29 154,37 156,45 158,47 163,49 160,46 161,39 154,29 156,27 161,32 162,33 160,31 151,22 142,13 137,8 136,7 136,7 136,7 136,7 136,7 136,7 136,7 136,7 136,7 136,7 136,7 136,7 136,7 136,7 136,7 136,7 136,7 139,10 142,14 135,17 134,18 137,19" fill="none" stroke="#17d3d3" stroke-opacity="0.82" stroke-width="1"/><polyline points="137,19 133,21 132,24 127,25 121,30 123,27 128,20 128,17 129,15 136,15 143,14 145,16 139,17 135,20 130,28 130,40 132,58 138,76 152,92 162,106 161,125 158,150 155,178 155,196 154,205 150,214 148,217 147,216 156,219 169,227 174,227 172,229 172,229 171,230 167,234 160,241 155,246 157,244 157,244 157,244 157,243" fill="none" stroke="#18d4d4" stroke-opacity="0.83" stroke-width="1"/><polyline points="157,243 148,239 142,243 138,242 135,235 127,224 125,216 121,215 123,213 116,204 113,196 116,189 124,179 132,173 135,170 137,167 134,160 136,148 139,138 147,136 154,139 160,144 164,143 162,145 159,148 151,157 148,163 142,172 136,176 137,183 138,188 139,182 139,179 138,181 132,184 121,181 116,174 110,166 104,165 103,164 106,152" fill="none" stroke="#16d0d0" stroke-opacity="0.81" stroke-width="1"/><polyline points="106,152 109,143 111,133 112,124 110,119 105,123 103,132 112,137 116,150 116,159 118,162 126,164 136,157 134,153 133,147 134,143 128,146 121,151 120,149 120,143 129,135 137,125 143,116 140,107 136,103 134,102 137,96 139,92 142,86 145,78 150,64 152,55 151,48 150,46 149,46 148,56 148,70 147,83 148,99 155,109 160,119" fill="none" stroke="#20f0f0" stroke-opacity="0.95" stroke-width="1"/><polyline points="160,119 163,124 163,126 166,139 171,158 182,168 181,171 176,177 174,184 175,186 182,194 188,202 185,206 174,206 166,205 161,207 163,209 172,221 175,226 180,221 186,215 193,208 191,197 190,189 190,173 187,154 181,142 174,132 171,128 175,129 174,122 180,106 187,95 190,90 192,87 196,88 198,84 197,78 193,73 188,65 185,56" fill="none" stroke="#0fb6b6" stroke-opacity="0.69" stroke-width="1"/><polyline points="185,56 180,51 176,47 178,49 183,54 185,56 182,53 175,46 167,38 163,34 165,36 168,39 169,40 166,37 172,43 173,44 171,42 165,36 159,30 150,21 143,14 138,9 136,7 136,7 136,7 136,7 136,7 136,7 136,7 136,7 136,7 136,7 136,7 136,7 136,7 136,7 136,7 136,7 138,9 139,10 138,9" fill="none" stroke="#1fefef" stroke-opacity="0.95" stroke-width="1"/><polyline points="138,9 143,14 145,24 146,40 145,57 151,81 154,107 162,133 168,162 167,192 162,217 161,235 152,247 141,254 140,256 143,255 144,257 147,254 154,247 164,237 168,233 169,232 169,232 168,233 165,236 167,234 171,225 170,204 169,190 165,185 164,179 168,172 169,169 168,168 172,166 168,160 171,151 184,142 195,128 197,118 188,109" fill="none" stroke="#18d6d6" stroke-opacity="0.84" stroke-width="1"/><polyline points="188,109 178,97 166,86 153,81 144,76 140,69 143,64 144,63 153,57 159,47 160,35 151,22 140,11 136,7 136,7 136,7 136,7 136,7 136,7 136,7 136,7 134,9 134,9 136,7 137,8 135,14 132,24 128,34 131,39 136,46 141,55 145,68 155,75 165,76 167,68 164,57 157,50 154,49 161,51 169,45 170,41" fill="none" stroke="#1de6e6" stroke-opacity="0.91" stroke-width="1"/><polyline points="170,41 170,41 170,41 173,44 172,43 169,40 166,37 161,32 157,28 153,24 151,22 152,23 149,20 150,21 153,24 156,27 157,28 163,34 169,40 173,44 170,54 159,68 152,82 155,96 164,103 171,109 174,114 183,122 192,126 197,130 196,133 193,134 187,131 185,133 187,135 184,129 176,122 169,116 161,114 152,108 140,104" fill="none" stroke="#17d3d3" stroke-opacity="0.82" stroke-width="1"/><polyline points="140,104 131,108 127,116 132,118 141,120 148,119 152,109 148,106 140,94 137,78 132,64 123,54 114,46 99,49 92,54 96,63 104,68 111,77 123,85 128,91 135,102 144,114 151,124 149,141 142,155 137,164 129,170 119,177 115,182 116,184 120,187 129,194 134,203 144,212 148,222 149,228 152,233 158,242 156,245 155,246 152,238" fill="none" stroke="#1ee9e9" stroke-opacity="0.92" stroke-width="1"/><polyline points="152,238 147,227 141,212 141,197 138,183 131,174 125,166 121,166 118,176 117,185 126,189 135,187 139,182 136,172 141,163 143,151 140,147 138,142 139,134 135,122 133,105 132,97 132,97 131,104 125,111 119,119 112,129 109,140 110,149 106,152 98,152 95,146 95,145 90,144 86,143 86,154 86,164 93,177 99,186 104,186 111,179" fill="none" stroke="#1adbdb" stroke-opacity="0.86" stroke-width="1"/><polyline points="111,179 116,176 119,167 119,155 116,141 113,137 114,137 108,135 105,135 106,132 111,133 123,137 131,134 136,129 134,126 135,115 135,102 133,90 138,92 138,99 135,109 133,115 130,119 133,118 135,118 147,119 154,120 158,123 160,130 156,135 150,139 138,133 128,128 120,121 120,107 129,89 134,76 139,65 143,56 146,56 142,54" fill="none" stroke="#1ce4e4" stroke-opacity="0.90" stroke-width="1"/><polyline points="142,54 132,53 119,46 113,31 120,23 129,14 136,7 136,7 136,7 136,7 136,7 136,7 136,7 136,7 136,7 131,12 125,18 123,20 120,23 118,25 112,31 112,35 111,32 113,30 119,24 123,20 121,22 114,29 108,35 101,42 105,57 102,78 99,103 91,126 88,144 93,157 100,167 105,175 109,178 114,179 125,191" fill="none" stroke="#18d6d6" stroke-opacity="0.83" stroke-width="1"/><polyline points="125,191 134,201 135,207 130,205 133,198 131,191 133,188 139,189 141,197 141,204 130,211 117,218 112,229 120,233 127,235 130,237 129,243 126,248 117,244 113,236 115,225 121,213 126,202 133,195 136,187 137,178 131,171 129,164 130,162 127,159 124,150 121,138 119,126 115,118 113,108 110,103 116,107 126,111 133,113 140,112 143,111" fill="none" stroke="#1adddd" stroke-opacity="0.87" stroke-width="1"/><polyline points="143,111 148,103 151,92 153,85 157,78 160,72 164,70 169,78 167,83 166,87 171,83 180,87 189,91 194,86 191,78 189,70 187,60 182,53 178,49 175,46 167,41 158,40 153,35 148,36 143,45 140,49 141,45 137,46 129,42 124,40 118,44 111,48 106,58 104,66 107,80 110,92 117,98 116,102 107,100 97,101 96,105" fill="none" stroke="#11bbbb" stroke-opacity="0.72" stroke-width="1"/><polyline points="96,105 96,113 103,116 107,124 107,129 107,130 111,131 115,138 119,140 127,142 130,140 134,145 142,154 148,166 151,179 157,184 163,184 165,184 159,183 154,180 146,175 137,165 128,158 132,153 136,154 142,159 149,168 156,178 155,189 158,196 170,201 184,212 182,219 181,220 181,220 179,222 173,228 172,229 169,232 165,236 164,237" fill="none" stroke="#1adcdc" stroke-opacity="0.86" stroke-width="1"/><polyline points="164,237 164,237 164,237 166,235 169,232 174,227 176,225 176,225 173,228 172,229 173,228 167,234 160,241 158,243 156,245 153,248 145,256 139,262 136,265 136,265 136,265 136,265 136,265 133,262 132,261 131,260 128,257 121,250 116,245 112,241 109,238 111,234 122,220 129,205 129,191 131,185 129,183 135,177 139,171 144,159 142,147" fill="none" stroke="#17d0d0" stroke-opacity="0.81" stroke-width="1"/><polyline points="142,147 142,137 136,122 132,112 127,109 123,111 126,114 130,118 137,127 142,131 144,138 136,143 130,149 122,151 111,145 106,143 100,149 104,157 114,168 125,177 140,179 151,175 150,170 148,164 135,154 123,146 114,130 112,109 110,89 111,81 110,83 109,94 108,102 103,106 100,102 98,97 94,97 92,95 90,85 88,76 94,67" fill="none" stroke="#16cfcf" stroke-opacity="0.81" stroke-width="1"/><polyline points="94,67 98,52 104,39 111,32 118,25 124,19 136,7 136,7 136,7 136,7 136,7 136,7 136,7 136,7 136,7 136,7 136,7 136,7 136,7 136,7 136,7 136,7 136,7 136,7 136,7 136,7 136,7 136,7 136,7 136,7 136,7 136,7 136,7 137,8 145,28 143,51 150,67 155,88 157,108 158,123 155,129" fill="none" stroke="#1feeee" stroke-opacity="0.95" stroke-width="1"/><polyline points="155,129 149,130 142,126 143,125 148,120 153,117 157,110 170,102 180,92 186,85 189,80 196,71 197,68 196,67 187,69 179,76 167,80 154,87 148,94 147,100 148,99 147,93 151,90 162,91 165,91 156,99 145,113 137,122 127,123 114,121 106,116 99,109 102,103 108,100 111,95 112,97 122,101 132,103 135,108 127,116 113,123" fill="none" stroke="#19dada" stroke-opacity="0.85" stroke-width="1"/><polyline points="113,123 101,129 96,133 91,134 88,133 88,128 93,125 96,116 99,112 108,103 117,91 126,79 130,76 130,88 129,107 126,121 126,133 133,147 139,156 141,166 132,177 124,182 128,187 133,193 139,197 141,198 139,203 134,205 129,198 125,192 122,193 123,190 129,187 143,176 154,158 157,145 156,133 147,136 145,145 141,148 142,144" fill="none" stroke="#19d8d8" stroke-opacity="0.85" stroke-width="1"/><polyline points="142,144 139,135 135,123 129,112 129,100 134,87 144,75 146,73 151,85 151,95 149,106 145,120 143,129 138,134 127,140 116,152 109,165 110,170 109,169 108,172 114,181 116,189 115,188 114,189 109,187 104,191 98,187 97,186 98,184 104,179 112,170 119,157 118,152 114,158 108,167 111,177 116,189 128,193 138,191 145,185 147,176" fill="none" stroke="#13c5c5" stroke-opacity="0.76" stroke-width="1"/><polyline points="147,176 145,167 139,159 130,152 124,149 116,147 116,148 114,138 117,126 124,112 121,107 118,109 123,113 125,108 127,109 128,112 124,117 130,119 133,118 136,112 132,108 127,114 130,122 131,126 140,128 145,134 143,142 132,154 125,164 123,167 122,162 125,156 125,156 124,158 125,161 126,162 129,159 135,154 133,148 121,141 112,132" fill="none" stroke="#20f0f0" stroke-opacity="0.95" stroke-width="1"/><polyline points="112,132 107,120 107,118 110,117 105,113 100,106 98,99 94,92 90,95 92,105 99,114 111,118 122,121 130,114 137,106 138,106 127,99 113,87 103,76 103,71 105,74 109,83 116,95 119,104 118,116 117,123 118,127 118,128 111,133 104,142 101,150 105,162 107,172 102,178 97,183 94,187 99,187 103,185 107,185 115,183 121,185" fill="none" stroke="#13c5c5" stroke-opacity="0.76" stroke-width="1"/><polyline points="121,185 133,188 142,203 141,219 137,225 138,230 148,233 151,234 153,232 150,230 143,227 130,219 120,210 114,199 112,186 109,171 108,157 107,150 99,137 92,127 85,125 80,119 79,115 86,113 91,109 93,109 95,120 99,130 101,140 101,152 103,165 105,179 107,190 103,200 107,214 112,230 114,243 121,250 122,251 121,250 122,251" fill="none" stroke="#15cbcb" stroke-opacity="0.79" stroke-width="1"/><polyline points="122,251 121,250 118,241 120,226 116,207 120,192 125,184 130,181 138,178 137,173 131,171 131,171 131,175 136,181 136,184 125,183 117,178 120,171 126,164 128,159 130,158 130,154 129,151 124,151 124,152 126,148 126,151 125,153 126,159 126,170 127,176 122,184 111,196 104,213 103,232 113,242 123,252 128,257 135,264 136,265 136,265" fill="none" stroke="#19d9d9" stroke-opacity="0.85" stroke-width="1"/><polyline points="136,265 136,265 136,265 136,265 136,265 136,265 136,265 136,265 136,265 136,265 136,265 136,265 136,265 136,265 136,265 136,265 136,265 136,265 136,265 136,265 136,265 136,265 136,265 136,265 136,265 136,265 139,262 147,250 146,236 149,229 153,217 159,203 162,192 166,184 171,185 175,185 171,179 160,173 153,171 152,173 151,176" fill="none" stroke="#1eeaea" stroke-opacity="0.92" stroke-width="1"/><polyline points="151,176 157,184 167,184 175,186 176,193 165,203 152,202 142,197 132,191 131,183 138,180 140,180 142,181 142,184 144,190 145,193 140,196 137,203 133,213 123,222 122,221 128,218 130,211 132,206 135,207 133,211 127,223 128,231 128,233 126,230 119,223 109,217 104,209 100,208 89,205 79,205 71,197 66,195 65,194 70,199 76,199" fill="none" stroke="#19dada" stroke-opacity="0.86" stroke-width="1"/><polyline points="76,199 87,185 100,172 111,155 117,142 122,132 125,128 122,125 117,120 108,119 103,123 101,126 103,130 107,135 112,132 122,129 130,125 132,119 137,114 139,111 139,111 136,111 135,101 133,87 131,68 136,50 138,33 141,19 136,11 136,7 136,7 138,9 143,14 144,15 141,12 138,9 137,8 142,13 150,21 157,28 151,40" fill="none" stroke="#20f0f0" stroke-opacity="0.95" stroke-width="1"/><polyline points="151,40 141,45 136,45 134,48 130,50 127,42 126,28 128,15 132,11 130,13 123,20 122,27 127,34 128,42 132,44 133,49 130,53 124,54 113,54 107,53 110,45 110,33 116,27 120,23 123,20 128,15 131,12 130,13 130,13 131,12 133,10 136,7 136,7 136,7 136,7 136,7 136,7 136,7 136,7 136,7 136,7" fill="none" stroke="#20f0f0" stroke-opacity="0.95" stroke-width="1"/><polyline points="136,7 136,7 136,7 136,7 133,10 135,8 136,7 140,11 148,19 154,25 154,25 153,25 146,32 143,34 145,37 147,40 149,36 149,30 145,29 140,27 130,31 127,34 129,32 134,33 142,28 144,20 137,8 136,7 136,7 136,7 136,7 136,7 136,7 136,7 136,7 136,7 136,7 136,7 137,8 139,10 136,7" fill="none" stroke="#1fecec" stroke-opacity="0.93" stroke-width="1"/><polyline points="136,7 136,7 140,11 138,23 134,38 131,54 131,68 129,75 131,81 133,83 130,85 125,85 125,83 121,81 124,80 124,74 121,70 119,72 114,80 113,86 108,87 103,86 100,86 104,84 108,87 104,93 94,98 86,98 82,94 87,92 91,89 96,86 100,83 102,77 99,74 91,72 88,63 91,56 95,52 101,47 106,42" fill="none" stroke="#1ce2e2" stroke-opacity="0.89" stroke-width="1"/><polyline points="106,42 112,31 117,26 120,23 121,22 123,20 131,12 136,7 136,7 136,7 136,7 136,7 136,7 136,7 136,7 136,7 136,7 136,7 136,7 136,7 136,7 136,7 136,7 136,7 136,7 136,7 136,7 136,7 136,7 136,7 136,7 136,7 136,7 136,7 136,7 136,7 136,7 136,7 136,7 136,7 136,7" fill="none" stroke="#1de7e7" stroke-opacity="0.91" stroke-width="1"/><polyline points="136,7 136,7 136,7 136,7 133,10 126,17 121,22 116,27 115,28 115,28 110,33 107,44 113,51 117,60 124,73 126,91 129,108 125,114 117,122 112,126 106,130 100,141 94,154 84,164 85,173 79,181 79,189 84,192 94,190 98,185 99,178 100,179 96,187 93,201 88,206 83,208 79,208 79,208 85,214 92,221 97,226" fill="none" stroke="#13c5c5" stroke-opacity="0.76" stroke-width="1"/><polyline points="97,226 105,234 107,236 105,234 101,228 100,228 102,231 104,233 109,238 113,242 116,245 116,245 114,243 112,241 115,244 120,248 122,249 122,242 121,235 120,222 120,209 116,186 116,162 118,145 114,128 108,115 97,110 87,102 90,92 101,85 116,84 124,80 129,72 129,67 131,63 134,56 142,45 155,33 157,28 159,30 166,37" fill="none" stroke="#20f0f0" stroke-opacity="0.95" stroke-width="1"/><polyline points="166,37 173,44 180,51 191,62 202,73 211,82 211,90 209,96 200,93 195,93 190,99 182,101 174,98 176,92 178,87 180,82 181,78 173,81 165,85 159,89 153,93 143,101 136,108 133,114 136,119 141,126 147,133 149,133 150,130 148,130 152,125 159,123 174,124 186,132 188,140 188,149 187,148 184,151 179,155 171,157 159,156" fill="none" stroke="#0eb1b1" stroke-opacity="0.67" stroke-width="1"/><polyline points="159,156 149,157 146,158 135,161 134,166 136,175 137,190 142,204 147,215 145,220 143,220 137,217 138,215 136,209 138,200 142,189 142,180 146,173 155,165 166,158 171,154 175,154 187,158 196,168 194,175 193,183 194,183 201,184 207,191 208,193 212,189 215,186 217,184 212,189 205,190 203,190 199,187 195,176 188,166 183,156 177,146" fill="none" stroke="#13c3c3" stroke-opacity="0.75" stroke-width="1"/><polyline points="177,146 176,138 185,131 197,126 206,120 210,111 215,101 213,93 201,82 189,72 178,61 174,55 164,48 158,40 155,35 156,27 155,26 153,24 147,18 138,9 136,7 136,7 137,8 136,7 138,9 142,16 141,29 141,45 138,53 139,62 138,66 137,72 133,72 128,70 123,70 121,75 123,83 136,91 145,95 150,98 149,97" fill="none" stroke="#1adede" stroke-opacity="0.87" stroke-width="1"/><polyline points="149,97 140,99 129,101 125,102 128,103 127,113 124,125 123,132 117,133 104,128 97,122 93,107 94,94 96,82 92,68 87,56 91,52 100,43 112,31 123,20 130,13 132,11 131,12 129,14 126,17 121,22 114,29 114,29 121,28 141,27 154,25 159,30 165,36 169,40 170,49 166,58 158,65 149,65 138,69 129,78 129,93" fill="none" stroke="#18d6d6" stroke-opacity="0.84" stroke-width="1"/><polyline points="129,93 129,106 127,121 126,127 121,126 115,122 106,109 104,94 106,91 113,95 118,97 120,97 127,94 130,88 140,88 144,90 145,97 142,105 139,118 139,127 143,135 143,147 143,155 141,157 129,162 124,166 122,170 125,169 128,163 134,159 143,159 148,160 149,161 145,162 153,169 157,181 154,190 149,197 140,204 130,209 122,211" fill="none" stroke="#1de6e6" stroke-opacity="0.91" stroke-width="1"/><polyline points="122,211 115,210 117,207 122,199 125,196 124,187 130,176 136,169 143,165 151,161 154,146 153,127 148,103 147,73 143,46 145,24 142,13 139,10 136,7 136,7 136,7 136,7 136,7 136,7 136,7 136,7 136,7 136,7 136,7 136,7 136,7 136,7 136,7 136,7 130,13 122,21 122,35 116,50 112,65 117,87 121,112" fill="none" stroke="#1ee9e9" stroke-opacity="0.92" stroke-width="1"/><polyline points="121,112 131,128 145,142 152,149 158,154 168,164 171,173 178,178 179,183 175,187 175,188 177,187 184,186 190,188 197,196 196,205 182,219 171,230 157,244 146,255 136,265 136,265 136,265 136,265 136,265 136,265 136,265 136,265 136,265 143,258 150,251 155,246 154,247 151,250 148,253 148,253 151,250 151,235 149,226 144,226 142,226" fill="none" stroke="#20f0f0" stroke-opacity="0.95" stroke-width="1"/><polyline points="142,226 146,227 154,225 160,215 159,201 165,191 171,186 180,181 184,171 180,160 176,150 173,146 175,141 178,130 171,115 170,100 165,83 160,72 154,68 146,65 136,60 122,62 110,65 108,63 104,61 103,58 110,53 120,49 126,48 129,49 134,49 131,55 119,58 109,62 106,64 108,66 109,68 108,70 111,75 118,78 124,83" fill="none" stroke="#14c9c9" stroke-opacity="0.78" stroke-width="1"/><polyline points="124,83 123,84 121,78 118,72 121,63 126,48 135,42 142,40 145,39 146,42 150,44 150,46 145,48 140,50 137,53 141,52 152,56 158,64 157,70 156,81 158,86 160,86 164,86 160,82 146,74 139,64 129,52 121,42 120,25 125,18 132,11 136,7 136,7 136,7 136,7 136,7 136,7 136,7 136,7 135,8 130,13" fill="none" stroke="#16cece" stroke-opacity="0.80" stroke-width="1"/><polyline points="130,13 127,16 130,13 133,10 136,7 136,7 136,7 136,7 145,16 161,32 171,42 180,51 185,56 190,61 193,64 193,64 193,66 190,72 184,78 181,84 179,93 178,101 174,109 171,112 170,108 171,101 168,93 163,85 158,70 154,49 150,25 139,10 136,7 136,7 136,7 136,7 136,7 136,7 136,7 136,7 136,7" fill="none" stroke="#1adede" stroke-opacity="0.87" stroke-width="1"/><polyline points="136,7 136,7 136,7 136,7 136,7 136,7 136,7 136,7 136,7 136,7 146,17 158,29 166,37 173,44 172,43 168,39 167,38 173,44 181,52 189,60 202,73 202,87 203,101 202,113 201,123 201,135 200,146 198,154 186,159 172,153 163,150 160,152 162,157 170,164 181,165 187,162 185,155 183,149 187,139 193,133 194,124" fill="none" stroke="#13c5c5" stroke-opacity="0.76" stroke-width="1"/><polyline points="194,124 188,112 187,95 187,81 182,73 175,68 168,69 167,77 170,72 173,63 172,52 168,39 159,30 151,22 148,19 148,19 152,23 151,22 150,21 153,24 166,37 171,58 173,83 171,103 166,118 168,125 176,123 184,120 187,118 181,114 171,104 165,103 163,104 158,104 161,103 170,99 177,92 185,86 191,80 199,79 206,80" fill="none" stroke="#18d6d6" stroke-opacity="0.84" stroke-width="1"/><polyline points="206,80 210,81 211,82 211,82 216,87 217,94 218,103 219,108 215,107 214,109 209,108 207,110 202,116 198,113 192,112 189,108 189,101 191,94 194,88 195,83 188,76 183,71 183,64 187,58 194,65 198,69 202,73 203,74 198,69 191,62 185,56 180,51 179,50 178,49 180,51 181,52 182,53 186,57 177,70 163,82 154,103" fill="none" stroke="#079a9a" stroke-opacity="0.57" stroke-width="1"/><polyline points="154,103 155,120 153,138 150,151 143,163 125,180 109,188 103,197 109,202 116,200 127,197 134,196 129,194 123,198 111,207 100,218 95,224 98,227 105,234 110,239 119,248 127,253 146,255 149,252 149,252 149,252 143,258 136,265 136,265 136,265 136,265 136,265 136,265 136,265 136,265 136,265 136,265 136,265 136,265 136,265 136,265" fill="none" stroke="#1ce4e4" stroke-opacity="0.90" stroke-width="1"/><polyline points="136,265 136,265 136,265 136,265 136,265 132,261 119,248 107,236 102,230 103,220 109,209 116,192 121,182 129,182 133,184 134,192 131,194 129,193 134,196 146,207 162,216 174,225 176,225 173,228 164,237 155,246 146,255 136,265 136,265 136,265 136,265 136,265 136,265 136,265 136,265 136,265 136,265 136,265 136,265 136,265 136,265" fill="none" stroke="#1adcdc" stroke-opacity="0.86" stroke-width="1"/><polyline points="136,265 136,265 136,265 136,265 136,265 136,265 136,265 136,265 136,265 136,265 136,265 136,265 136,265 136,265 134,253 142,223 145,193 149,165 154,137 158,110 156,91 152,78 143,69 145,61 145,62 145,62 147,65 153,68 158,77 164,85 166,95 163,103 164,113 153,127 143,142 136,156 128,169 119,184 108,197 105,214 104,231" fill="none" stroke="#20f0f0" stroke-opacity="0.95" stroke-width="1"/><polyline points="104,231 113,242 118,247 124,253 126,255 128,257 131,256 134,253 132,252 129,254 133,255 136,255 136,254 139,253 147,248 155,246 157,244 151,250 140,261 136,265 136,265 136,265 136,265 136,265 136,265 136,265 136,265 136,265 136,265 136,265 136,265 136,265 136,265 136,265 136,265 136,265 137,264 138,246 131,225 126,209 128,191" fill="none" stroke="#1ce5e5" stroke-opacity="0.90" stroke-width="1"/><polyline points="128,191 129,182 132,172 136,164 139,156 150,146 162,144 157,144 149,147 143,150 136,159 131,162 129,161 133,161 141,157 150,149 157,144 160,138 162,127 159,123 153,119 142,111 139,104 143,104 147,110 141,115 134,114 131,114 139,114 144,116 145,121 143,124 143,131 146,134 147,141 145,148 143,154 145,158 146,163 144,170 151,180" fill="none" stroke="#1de5e5" stroke-opacity="0.90" stroke-width="1"/><polyline points="151,180 158,192 160,202 160,208 157,214 152,217 142,210 137,204 131,207 135,210 139,216 145,224 147,230 144,235 136,242 123,242 116,241 112,239 109,231 109,211 114,194 118,187 117,189 117,192 113,192 111,189 113,185 111,184 108,185 108,188 104,190 101,184 95,184 96,177 105,174 108,171 108,172 104,170 103,166 104,166 106,165" fill="none" stroke="#1eebeb" stroke-opacity="0.93" stroke-width="1"/><polyline points="106,165 105,168 95,171 89,168 94,167 99,164 100,161 102,154 111,150 113,144 109,134 101,121 93,110 85,112 76,126 71,143 64,158 54,169 53,177 62,184 69,182 69,180 73,185 72,190 77,191 83,193 83,189 83,185 84,193 79,207 79,208 81,210 84,213 96,194 110,173 114,157 113,145 111,136 110,133 109,133 111,134" fill="none" stroke="#11bebe" stroke-opacity="0.73" stroke-width="1"/><polyline points="111,134 113,143 111,146 113,144 108,135 100,125 91,120 89,115 97,117 99,118 106,117 113,125 121,135 132,142 139,146 139,148 131,152 120,151 108,154 94,158 81,166 80,173 80,172 78,168 74,170 71,166 71,164 73,158 78,152 78,149 78,146 77,147 79,153 82,164 84,173 85,179 89,183 92,179 97,176 101,176 101,181" fill="none" stroke="#0eb1b1" stroke-opacity="0.67" stroke-width="1"/><polyline points="101,181 92,186 89,186 87,187 83,188 73,189 72,193 74,202 82,209 87,216 89,218 91,220 97,221 108,218 119,219 132,217 142,211 155,212 159,211 158,207 151,198 143,188 135,178 132,168 127,156 129,150 127,150 130,155 128,163 119,170 109,178 102,184 99,188 103,198 114,206 124,212 126,223 121,231 112,234 109,238 112,241" fill="none" stroke="#1ce2e2" stroke-opacity="0.89" stroke-width="1"/><polyline points="112,241 117,246 124,253 134,253 135,252 128,244 120,234 117,232 118,237 117,238 110,233 100,228 93,222 92,221 95,224 94,221 100,217 109,216 112,209 125,195 133,178 138,157 137,138 133,127 123,124 112,117 109,105 109,96 112,92 112,95 114,99 114,103 110,107 110,114 112,115 123,123 136,132 151,133 158,132 160,134 162,137" fill="none" stroke="#20f0f0" stroke-opacity="0.95" stroke-width="1"/><polyline points="162,137 155,142 148,138 147,132 149,127 154,121 154,115 147,114 141,115 135,119 133,121 125,126 123,131 123,136 126,141 127,149 119,167 113,193 113,216 109,234 116,245 121,250 124,253 129,258 133,262 135,264 135,264 134,263 128,257 119,248 114,243 112,237 112,231 108,222 100,216 84,209 72,188 63,170 59,153 69,144 71,149" fill="none" stroke="#19dada" stroke-opacity="0.85" stroke-width="1"/><polyline points="71,149 71,154 73,154 69,152 66,156 71,163 77,176 88,193 98,195 104,191 110,180 112,173 116,170 118,171 115,169 114,174 113,177 111,176 115,171 119,167 126,160 129,157 128,153 128,155 125,158 126,164 126,167 118,168 121,163 126,159 123,158 114,156 106,154 105,150 111,153 120,155 131,157 140,164 146,172 154,184 157,188" fill="none" stroke="#13c5c5" stroke-opacity="0.76" stroke-width="1"/><polyline points="157,188 156,186 150,187 147,195 146,202 143,207 144,209 146,207 147,201 146,192 150,178 152,161 155,147 161,137 166,128 167,118 164,104 167,92 182,84 201,83 214,91 212,102 210,113 202,124 190,130 175,134 160,131 145,122 133,123 126,125 121,121 116,119 111,114 109,105 100,92 89,81 81,72 72,71 65,78 62,88 65,99" fill="none" stroke="#13c5c5" stroke-opacity="0.76" stroke-width="1"/><polyline points="65,99 74,109 81,113 81,115 87,125 92,142 97,159 98,167 95,172 93,177 95,187 97,199 97,210 99,214 101,220 106,224 107,221 103,209 105,197 104,184 100,174 94,164 97,154 97,154 98,160 97,165 98,164 95,153 102,144 106,134 110,133 109,129 101,131 95,137 97,138 103,137 106,131 111,122 113,118 117,112 116,101" fill="none" stroke="#14c6c6" stroke-opacity="0.77" stroke-width="1"/><polyline points="116,101 113,85 108,72 105,59 102,55 105,52 101,52 102,56 102,61 98,68 96,76 94,75 86,71 81,66 83,64 87,59 89,59 90,53 96,47 104,40 115,36 121,36 116,41 113,51 112,57 118,66 120,82 121,102 125,124 133,138 141,139 143,133 146,128 143,123 143,125 138,138 126,152 116,167 107,175 108,175 117,170" fill="none" stroke="#10b8b8" stroke-opacity="0.70" stroke-width="1"/><polyline points="117,170 121,166 120,154 112,138 104,126 101,118 98,112 95,108 97,100 104,96 116,95 126,91 137,90 145,95 141,97 129,103 123,106 122,109 123,102 127,94 128,83 124,76 123,67 116,64 116,60 128,58 133,70 138,84 136,93 137,104 129,110 123,124 112,138 102,151 99,159 99,163 103,170 107,172 106,176 102,177 106,180" fill="none" stroke="#17d1d1" stroke-opacity="0.81" stroke-width="1"/><polyline points="106,180 113,183 120,183 120,176 121,173 120,169 118,168 123,165 129,155 136,140 140,126 138,118 130,112 124,101 118,93 108,87 104,80 99,74 96,64 101,55 106,56 109,66 111,79 109,89 107,87 100,84 92,82 88,75 93,66 104,57 118,49 118,45 120,46 125,39 126,34 123,28 125,22 133,14 139,10 136,7 136,7" fill="none" stroke="#17d2d2" stroke-opacity="0.82" stroke-width="1"/><polyline points="136,7 136,7 136,7 136,7 136,7 143,14 154,25 162,33 167,38 169,40 168,42 166,51 156,60 145,76 142,98 149,121 156,136 163,149 164,160 168,169 177,171 184,167 183,158 184,156 181,161 180,163 175,157 171,152 167,149 165,145 168,135 167,123 166,110 163,99 161,89 158,89 156,86 162,80 170,81 171,76 171,63" fill="none" stroke="#1eebeb" stroke-opacity="0.93" stroke-width="1"/><polyline points="171,63 165,44 150,21 136,7 136,7 136,7 136,7 136,7 136,7 136,7 136,7 136,7 136,7 136,7 136,7 136,7 136,7 136,7 136,7 136,7 136,7 136,7 136,7 136,7 136,7 136,7 136,7 136,7 136,7 136,7 136,7 136,7 136,7 136,7 136,7 136,7 136,7 136,7 136,7 134,9 130,13" fill="none" stroke="#1eebeb" stroke-opacity="0.93" stroke-width="1"/><polyline points="130,13 131,29 134,46 132,62 125,71 123,80 133,84 143,87 153,88 163,89 171,87 179,89 190,97 194,109 190,119 186,125 187,131 184,135 183,136 185,139 185,139 180,142 178,146 180,155 178,164 179,171 177,173 179,179 181,184 184,183 188,184 188,190 188,194 189,200 192,201 184,195 178,190 172,182 168,174 160,166 148,158" fill="none" stroke="#17d2d2" stroke-opacity="0.82" stroke-width="1"/><polyline points="148,158 148,147 149,143 158,141 163,144 167,151 168,164 167,172 172,174 172,167 177,159 179,155 185,155 189,149 190,135 191,122 193,113 193,104 187,101 175,99 158,98 146,105 140,119 134,132 134,143 133,156 132,172 133,189 132,200 131,207 132,211 137,215 143,217 147,214 151,204 150,194 144,184 140,177 136,175 139,170 138,162" fill="none" stroke="#13c3c3" stroke-opacity="0.75" stroke-width="1"/><polyline points="138,162 138,154 138,149 135,151 128,151 123,145 125,144 127,144 136,151 146,158 161,162 172,175 170,188 173,201 173,214 174,223 170,231 161,240 148,240 139,238 137,236 134,230 134,217 130,205 131,192 134,180 134,166 130,156 135,148 138,141 142,130 148,117 154,101 154,88 143,80 134,83 129,93 129,108 135,124 145,138 151,148" fill="none" stroke="#17d3d3" stroke-opacity="0.82" stroke-width="1"/><polyline points="151,148 159,157 161,172 164,183 166,185 165,185 156,190 155,193 163,197 167,205 174,206 175,208 169,209 164,214 156,225 144,229 132,228 122,226 121,221 121,215 123,210 123,207 120,209 125,209 129,200 136,189 146,180 152,179 156,183 164,187 170,187 171,182 172,173 173,165 170,156 166,154 171,154 180,153 182,150 182,151 173,153" fill="none" stroke="#16d0d0" stroke-opacity="0.81" stroke-width="1"/><polyline points="173,153 168,157 167,157 176,147 178,131 180,119 178,108 176,103 172,101 163,103 159,111 161,123 162,128 158,132 150,129 146,119 150,111 154,99 157,85 161,76 166,68 165,58 161,52 154,43 145,39 139,39 143,38 143,30 143,19 140,12 136,7 136,7 136,7 136,7 136,7 136,7 136,7 136,7 136,7 136,7 136,7" fill="none" stroke="#19d8d8" stroke-opacity="0.85" stroke-width="1"/><polyline points="136,7 136,7 136,7 136,7 136,7 136,7 136,7 136,7 136,7 136,7 136,7 136,7 136,7 136,7 136,7 136,7 136,7 136,7 136,7 136,7 136,7 136,7 136,7 136,7 136,7 136,7 136,7 136,7 136,7 136,7 136,7 136,7 136,7 136,7 136,7 136,7 136,7 136,7 136,7 136,7 136,7" fill="none" stroke="#1de8e8" stroke-opacity="0.92" stroke-width="1"/><polyline points="136,7 144,15 158,29 171,42 182,53 182,66 177,84 169,94 166,97 159,107 150,121 149,131 153,133 153,137 151,140 146,144 145,150 143,154 137,160 138,164 143,166 153,164 163,165 166,170 160,180 147,188 141,196 141,206 141,217 144,224 143,227 137,230 130,231 129,233 122,229 123,228 128,231 133,240 139,253 139,261 136,265" fill="none" stroke="#13c3c3" stroke-opacity="0.75" stroke-width="1"/><polyline points="136,265 136,265 136,265 136,265 138,263 141,260 142,259 141,260 140,261 148,253 146,232 147,203 145,177 140,152 131,138 124,123 117,104 114,82 117,68 124,68 130,73 134,79 136,96 131,111 132,122 131,135 125,144 122,150 123,161 126,172 129,183 137,194 141,200 139,201 132,197 127,197 120,204 109,206 100,206 94,205 92,204" fill="none" stroke="#20f0f0" stroke-opacity="0.95" stroke-width="1"/><polyline points="92,204 88,204 87,199 88,184 88,164 86,147 79,134 73,124 70,114 80,102 88,86 100,70 110,54 115,38 118,31 114,29 115,28 115,28 116,27 118,25 122,21 128,15 129,14 132,11 132,11 127,16 124,19 125,18 136,12 140,11 141,12 138,9 137,8 136,7 136,7 136,7 136,7 132,11 126,17 120,23 123,20" fill="none" stroke="#20f0f0" stroke-opacity="0.95" stroke-width="1"/><polyline points="123,20 126,17 132,11 136,7 139,10 143,14 145,16 144,15 143,14 141,15 139,20 134,31 128,45 122,62 123,74 128,86 124,91 121,102 121,111 125,120 138,127 145,138 150,148 152,148 152,142 159,130 167,123 166,122 161,120 152,121 135,131 120,145 107,159 104,161 109,160 118,157 123,159 130,167 135,177 147,181 160,176" fill="none" stroke="#1ce4e4" stroke-opacity="0.90" stroke-width="1"/><polyline points="160,176 166,172 166,179 161,179 154,170 153,168 152,163 160,161 158,158 151,160 149,164 148,167 151,166 159,159 167,153 173,148 172,139 171,133 167,128 165,113 162,89 162,64 153,46 143,34 138,29 147,26 158,29 166,37 172,43 177,48 175,46 170,41 161,32 151,22 143,14 136,7 136,7 136,7 136,7 136,7 136,7" fill="none" stroke="#16cdcd" stroke-opacity="0.79" stroke-width="1"/><polyline points="136,7 136,7 136,7 136,7 136,7 136,7 136,7 136,7 136,7 136,7 136,7 136,7 134,9 126,17 131,33 129,47 127,58 125,66 119,76 121,88 121,96 123,103 129,111 131,116 138,117 144,125 146,132 143,139 132,140 120,137 107,135 98,131 90,137 87,146 87,149 96,154 107,164 117,176 123,179 125,177 125,171" fill="none" stroke="#1eeaea" stroke-opacity="0.93" stroke-width="1"/><polyline points="125,171 125,161 128,148 132,150 135,156 141,164 148,173 148,176 149,186 151,197 156,213 152,219 149,221 146,220 146,223 142,226 144,236 144,245 145,248 147,249 150,243 153,242 156,238 155,231 149,225 149,218 145,211 138,213 125,218 116,229 108,237 106,235 103,232 104,233 105,234 111,227 121,225 126,226 131,230 130,230 129,230" fill="none" stroke="#20f0f0" stroke-opacity="0.95" stroke-width="1"/><polyline points="129,230 129,224 129,210 123,192 120,175 114,160 107,149 102,147 98,152 96,155 98,159 97,163 94,163 85,168 80,172 79,175 86,175 96,165 104,150 112,135 108,125 99,118 89,112 87,106 81,114 75,123 71,123 73,127 76,130 79,130 85,128 90,125 98,127 107,132 121,138 132,141 140,140 148,133 151,128 154,133 153,136" fill="none" stroke="#14c9c9" stroke-opacity="0.78" stroke-width="1"/><polyline points="153,136 151,137 147,137 141,133 137,126 140,122 141,118 146,113 149,111 152,104 143,93 139,81 133,64 134,54 139,54 142,59 147,70 153,77 156,77 165,70 173,67 178,71 178,75 175,75 179,82 182,83 183,89 178,93 171,97 168,101 169,96 165,92 156,93 151,95 147,100 147,101 150,96 148,88 148,84 152,80 153,75" fill="none" stroke="#1ee9e9" stroke-opacity="0.92" stroke-width="1"/><polyline points="153,75 150,72 138,72 132,76 130,82 134,79 143,78 155,78 157,77 157,74 162,73 161,74 160,72 161,61 155,53 154,45 155,46 155,44 155,47 149,53 149,58 152,61 160,68 169,71 170,76 171,78 174,84 175,86 175,82 170,80 160,74 157,69 154,66 149,64 148,65 144,63 147,62 147,58 153,57 161,58 170,59" fill="none" stroke="#1adcdc" stroke-opacity="0.86" stroke-width="1"/><polyline points="170,59 172,70 172,89 174,100 171,113 161,130 155,141 151,143 150,151 152,161 151,169 155,175 163,178 165,178 160,176 150,179 147,187 141,202 139,214 138,223 141,230 150,235 156,233 154,226 166,215 174,204 181,198 186,192 192,180 187,170 173,162 163,155 159,148 156,147 151,143 145,139 144,142 150,143 153,144 151,144 142,142" fill="none" stroke="#12bfbf" stroke-opacity="0.73" stroke-width="1"/><polyline points="142,142 127,135 116,119 114,105 113,99 113,104 116,109 119,116 125,121 132,122 139,115 145,104 150,96 146,89 144,89 147,89 145,86 144,79 144,69 142,62 138,55 143,38 147,18 141,12 137,8 136,7 139,10 140,11 141,12 141,12 141,12 140,11 136,7 136,7 136,7 136,7 136,7 136,7 136,7 136,7 136,7" fill="none" stroke="#20f0f0" stroke-opacity="0.95" stroke-width="1"/><polyline points="136,7 136,7 139,10 150,21 159,30 163,34 166,37 170,41 169,40 166,39 160,44 151,54 143,60 137,67 128,79 125,97 118,107 112,121 108,125 106,136 106,149 108,160 120,173 133,180 134,183 139,174 139,166 137,165 133,166 133,160 136,159 146,155 161,147 167,138 164,136 159,129 159,127 160,127 158,130 162,132 161,134" fill="none" stroke="#1bdede" stroke-opacity="0.87" stroke-width="1"/><polyline points="161,134 157,130 157,130 158,130 160,129 157,121 154,106 157,95 161,88 159,79 149,76 134,80 119,84 108,91 104,97 97,108 94,121 100,128 110,130 111,130 111,121 105,111 103,99 101,92 109,80 115,74 122,76 126,74 130,69 133,63 140,51 150,43 152,33 151,22 144,15 136,7 136,7 136,7 136,7 136,7 136,7" fill="none" stroke="#17d2d2" stroke-opacity="0.82" stroke-width="1"/><polyline points="136,7 136,7 136,7 136,7 136,7 143,21 146,35 149,47 147,66 134,82 124,89 121,91 116,91 118,92 133,91 140,92 138,100 137,112 141,120 150,139 154,154 158,163 162,174 164,182 158,182 160,182 167,185 175,194 182,199 189,203 195,205 191,205 185,204 168,198 150,184 137,168 132,151 129,130 133,111 134,97 137,87" fill="none" stroke="#1eebeb" stroke-opacity="0.93" stroke-width="1"/><polyline points="137,87 141,71 151,60 150,51 152,44 153,39 155,35 158,29 157,28 151,22 144,15 138,9 136,7 136,7 136,7 136,7 136,7 136,7 136,7 136,7 136,7 136,7 136,7 136,7 136,7 136,7 136,7 136,7 136,7 136,7 136,7 136,7 136,7 136,7 136,7 136,7 136,7 136,7 136,7 136,7 135,8" fill="none" stroke="#1ce4e4" stroke-opacity="0.90" stroke-width="1"/><polyline points="135,8 132,22 138,35 150,50 160,64 164,70 165,73 160,71 156,68 151,67 140,63 133,65 135,71 139,72 143,73 142,82 147,99 160,114 165,129 167,142 164,146 158,150 152,148 144,139 140,121 144,101 150,84 153,70 153,61 153,56 150,48 145,45 137,48 130,42 119,34 113,30 112,31 112,31 113,30 116,27 121,22" fill="none" stroke="#20f0f0" stroke-opacity="0.95" stroke-width="1"/><polyline points="121,22 127,16 136,7 136,7 136,7 136,7 136,7 136,7 136,7 136,7 136,7 136,7 136,7 136,7 136,7 136,7 136,7 136,7 136,7 136,7 136,7 136,7 136,7 136,7 136,7 136,7 136,7 136,7 136,7 136,7 136,7 140,11 141,12 140,11 141,12 137,8 136,7 136,7 136,7 136,7 136,7" fill="none" stroke="#1de8e8" stroke-opacity="0.92" stroke-width="1"/><polyline points="136,7 136,7 136,7 136,7 136,7 138,9 145,16 137,18 131,19 123,20 122,21 122,21 128,15 134,9 136,7 136,7 136,7 136,7 136,7 136,7 136,7 136,7 136,7 136,7 136,7 136,7 136,7 136,7 146,17 155,26 159,39 156,57 149,72 147,85 145,94 143,98 145,96 152,101 154,99 156,98 157,97" fill="none" stroke="#1be0e0" stroke-opacity="0.88" stroke-width="1"/><polyline points="157,97 155,102 155,111 160,129 170,144 168,150 158,152 145,156 136,157 128,150 120,143 117,142 116,141 122,129 127,121 139,116 156,116 173,117 180,116 180,123 174,124 166,122 156,123 146,126 136,134 134,136 136,134 141,129 149,124 153,122 160,121 164,119 164,112 160,115 154,115 153,117 149,120 143,109 131,93 124,74 123,64" fill="none" stroke="#18d7d7" stroke-opacity="0.84" stroke-width="1"/><polyline points="123,64 122,53 127,38 131,28 131,27 125,28 117,32 113,40 117,49 118,50 117,51 115,62 118,76 117,85 115,92 109,96 105,104 103,110 106,116 111,120 121,118 123,117 120,111 112,102 104,98 101,96 103,87 108,72 112,53 107,36 112,31 122,21 131,12 136,7 136,7 136,7 136,7 136,7 136,7 136,7 136,7" fill="none" stroke="#1adcdc" stroke-opacity="0.86" stroke-width="1"/><polyline points="136,7 136,7 136,7 136,7 136,7 136,7 136,7 136,7 136,7 142,13 152,24 149,35 147,43 141,50 138,61 134,75 127,97 122,114 112,130 103,152 99,172 101,188 97,195 97,204 103,214 113,216 121,221 122,228 122,234 115,237 113,242 118,247 127,256 136,265 136,265 136,265 136,265 136,265 136,265 136,265 136,265" fill="none" stroke="#1adbdb" stroke-opacity="0.86" stroke-width="1"/><polyline points="136,265 136,265 139,262 137,264 136,265 136,265 136,265 136,265 136,265 136,265 136,265 136,265 136,265 136,265 136,265 136,265 136,265 136,265 136,265 136,265 138,263 147,254 156,245 161,240 160,241 161,240 163,238 169,232 172,223 171,210 169,199 166,192 167,191 157,185 151,173 151,159 157,149 159,140 159,140 160,140 160,147" fill="none" stroke="#20f0f0" stroke-opacity="0.95" stroke-width="1"/><polyline points="160,147 157,160 163,171 161,177 155,176 150,163 151,149 149,143 139,136 129,132 125,128 122,130 118,135 116,146 116,152 116,158 117,159 122,152 127,138 135,124 149,117 157,107 159,104 164,104 169,100 167,96 164,101 153,107 152,117 153,127 153,137 156,146 160,154 165,159 167,161 170,166 175,163 176,157 183,157 188,167 191,171" fill="none" stroke="#1adddd" stroke-opacity="0.87" stroke-width="1"/><polyline points="191,171 186,170 177,165 165,156 159,154 154,156 155,153 156,155 158,157 159,159 163,150 161,145 157,138 146,133 140,133 132,132 132,137 136,147 138,156 139,163 140,173 143,179 147,184 139,183 137,179 132,168 128,163 131,163 133,167 140,163 140,156 132,150 121,141 118,135 115,125 116,114 115,109 115,106 114,105 115,106 121,106" fill="none" stroke="#20f0f0" stroke-opacity="0.95" stroke-width="1"/><polyline points="121,106 125,113 134,119 142,130 141,145 141,157 138,169 141,176 141,175 141,173 142,174 142,177 146,179 152,180 156,178 164,180 164,184 162,185 162,194 166,195 169,190 170,184 168,180 165,174 163,170 170,170 174,173 174,173 167,164 160,155 152,134 148,109 146,81 142,65 143,56 151,51 163,43 167,38 169,40 175,46 182,55" fill="none" stroke="#15caca" stroke-opacity="0.78" stroke-width="1"/><polyline points="182,55 180,69 176,85 168,98 160,115 161,125 155,137 156,152 158,163 162,167 171,165 178,162 182,160 184,152 175,142 169,129 162,126 153,130 150,135 146,136 143,132 141,125 139,110 133,98 125,92 125,96 129,103 129,103 125,109 126,111 134,108 139,106 140,110 141,118 146,129 149,132 149,133 146,137 144,135 145,125 147,116" fill="none" stroke="#1be0e0" stroke-opacity="0.88" stroke-width="1"/><polyline points="147,116 155,107 161,97 161,90 156,85 151,77 149,74 150,75 156,75 154,66 147,53 141,48 138,41 146,38 156,35 159,37 163,40 168,45 175,56 183,72 190,84 191,85 190,88 189,95 190,100 190,105 186,108 181,103 176,96 170,92 165,83 164,67 161,51 152,38 140,33 128,34 120,40 117,46 110,54 108,61 104,66" fill="none" stroke="#17d0d0" stroke-opacity="0.81" stroke-width="1"/><polyline points="104,66 101,74 96,79 91,84 91,88 103,92 121,96 133,94 135,91 135,83 133,74 126,65 123,66 119,67 110,65 105,58 108,48 108,38 111,36 117,36 117,44 114,52 118,54 126,59 136,63 139,65 140,67 137,66 136,65 134,69 132,70 131,73 130,67 129,69 125,76 124,83 130,95 134,109 134,131 130,151 122,166" fill="none" stroke="#1eeaea" stroke-opacity="0.92" stroke-width="1"/><polyline points="122,166 115,177 111,188 111,199 109,211 113,220 110,226 114,231 121,244 127,256 138,263 143,258 150,251 157,241 154,231 151,229 149,235 149,239 151,238 148,236 150,236 151,234 152,230 154,217 149,198 146,174 145,148 135,125 125,105 115,86 110,73 98,62 96,51 105,39 118,34 133,28 138,25 133,17 131,12 130,13 129,14" fill="none" stroke="#16cdcd" stroke-opacity="0.80" stroke-width="1"/><polyline points="129,14 126,17 124,19 127,16 130,13 130,13 131,12 132,11 136,7 136,7 136,7 136,7 136,7 136,7 136,7 136,7 144,15 150,21 154,25 158,29 161,32 166,37 174,45 179,50 189,60 197,68 196,71 183,78 169,85 160,89 161,95 164,97 164,98 160,108 153,113 148,116 145,118 140,111 137,106 132,99 131,92" fill="none" stroke="#1be0e0" stroke-opacity="0.88" stroke-width="1"/><polyline points="131,92 132,90 125,88 116,87 108,82 107,77 114,78 116,76 123,69 128,61 134,60 137,58 137,59 132,57 128,51 127,50 122,51 116,48 115,44 122,42 132,36 135,36 133,33 125,34 113,30 112,31 114,29 119,24 121,22 121,22 121,22 124,19 131,12 130,13 131,12 136,7 136,7 136,7 136,7 136,7 136,7" fill="none" stroke="#1eebeb" stroke-opacity="0.93" stroke-width="1"/><polyline points="136,7 136,7 136,7 136,7 136,7 136,7 136,7 136,7 131,12 123,20 114,29 110,46 112,75 119,102 129,122 139,138 144,150 150,156 152,152 154,148 154,144 153,144 152,148 156,153 157,156 159,148 154,138 145,116 139,97 140,85 145,79 144,75 143,73 146,69 154,64 154,50 152,39 156,27 158,29 161,32 161,32" fill="none" stroke="#1adcdc" stroke-opacity="0.86" stroke-width="1"/><polyline points="161,32 163,34 168,39 176,47 181,52 184,55 188,59 188,63 183,63 182,65 179,70 177,63 179,57 181,52 177,48 169,45 156,44 144,42 136,44 127,44 121,42 120,35 114,32 111,34 107,36 113,40 121,51 122,65 119,71 108,75 103,82 108,83 113,74 117,60 113,46 108,36 113,30 118,25 124,19 128,15 132,11" fill="none" stroke="#16cece" stroke-opacity="0.80" stroke-width="1"/><polyline points="132,11 131,12 131,12 125,18 118,25 115,28 116,27 123,23 132,25 141,29 150,37 156,41 166,43 174,45 181,52 184,60 187,68 185,76 180,81 174,75 171,72 169,72 171,74 169,78 163,72 156,67 151,71 144,81 138,90 138,92 142,93 149,95 150,90 147,81 152,77 160,71 165,75 158,80 143,90 136,105 136,116" fill="none" stroke="#20f0f0" stroke-opacity="0.95" stroke-width="1"/><polyline points="136,116 140,129 143,147 143,171 143,192 138,210 134,228 130,235 132,234 136,235 143,238 147,243 145,252 135,262 133,262 130,259 128,257 123,252 119,248 117,246 119,234 123,224 126,218 138,214 146,216 149,212 158,209 162,209 166,206 166,205 168,199 178,193 179,186 181,187 185,185 185,180 182,171 179,163 177,148 178,131 182,114" fill="none" stroke="#1de8e8" stroke-opacity="0.92" stroke-width="1"/><polyline points="182,114 188,98 197,82 199,70 199,70 195,66 192,63 188,59 189,60 192,63 197,68 200,71 199,70 195,66 192,63 185,56 184,55 187,58 185,56 185,56 175,53 164,58 155,62 157,65 159,68 160,69 164,71 166,78 167,87 170,85 174,82 173,79 164,75 150,77 143,78 141,76 147,76 156,76 160,75 157,81 157,86" fill="none" stroke="#10b9b9" stroke-opacity="0.71" stroke-width="1"/><polyline points="157,86 156,89 151,95 145,97 139,95 130,89 126,87 127,83 122,77 121,65 122,64 125,70 127,73 126,78 125,79 127,77 128,80 125,93 123,102 128,104 133,109 137,123 140,135 140,144 139,154 138,166 142,173 143,181 146,188 151,191 152,185 150,182 149,180 150,175 150,168 139,169 126,175 118,182 113,185 110,184 110,183" fill="none" stroke="#20f0f0" stroke-opacity="0.95" stroke-width="1"/><polyline points="110,183 108,180 105,171 111,177 113,175 112,174 114,172 114,166 112,163 116,156 122,154 133,150 140,149 138,143 129,132 126,123 123,112 119,104 117,100 114,97 118,101 122,110 129,112 141,113 146,118 148,123 150,134 149,145 144,156 144,164 148,167 152,165 152,163 160,161 165,159 170,151 175,146 182,143 191,134 197,123 198,115" fill="none" stroke="#1eebeb" stroke-opacity="0.93" stroke-width="1"/><polyline points="198,115 193,106 187,103 175,106 167,118 162,130 160,139 160,143 154,144 145,141 146,145 149,148 154,152 159,159 163,164 165,172 169,176 170,172 166,170 166,167 164,168 171,172 179,178 180,181 179,185 173,186 159,183 148,179 134,180 125,183 125,188 125,198 128,209 127,215 125,215 126,216 125,222 130,237 136,249 142,255 141,256" fill="none" stroke="#20f0f0" stroke-opacity="0.95" stroke-width="1"/><polyline points="141,256 135,262 133,262 135,264 136,265 138,263 139,262 137,264 136,265 136,265 136,265 136,265 136,265 136,265 136,265 136,265 136,265 136,265 136,265 136,265 136,265 136,265 136,265 136,265 136,265 136,265 136,265 136,265 136,265 136,265 136,265 136,265 136,265 136,265 136,265 136,265 136,265 136,265 136,265 136,265 136,265" fill="none" stroke="#20f0f0" stroke-opacity="0.95" stroke-width="1"/><polyline points="136,265 136,265 136,265 136,265 136,265 136,265 136,265 136,265 136,265 135,264 133,262 134,263 134,263 127,256 116,245 100,229 94,204 92,182 92,162 95,140 96,134 99,124 106,122 110,129 113,134 117,137 122,135 125,134 125,124 117,108 112,97 120,85 133,81 145,73 144,67 136,62 128,61 127,56 134,44 142,24 144,15" fill="none" stroke="#1ce4e4" stroke-opacity="0.90" stroke-width="1"/><polyline points="144,15 142,13 138,9 137,8 142,13 152,23 158,29 162,33 159,39 158,46 166,51 168,54 164,61 158,70 159,74 152,76 149,82 153,88 159,90 165,96 168,100 168,102 172,101 175,100 171,102 161,99 146,90 130,83 120,71 110,65 105,60 99,54 96,47 97,46 98,45 97,46 97,49 104,58 114,65 119,74 126,81" fill="none" stroke="#15cbcb" stroke-opacity="0.79" stroke-width="1"/><polyline points="126,81 131,83 133,79 130,72 128,63 125,52 127,41 126,35 131,27 129,20 127,24 130,37 136,43 137,46 133,44 124,45 120,47 108,48 98,51 91,55 89,57 86,57 86,57 91,52 98,45 100,43 105,38 108,35 110,33 115,28 126,17 130,13 130,13 130,13 129,14 128,15 125,18 123,20 117,26 116,27 119,24" fill="none" stroke="#14c9c9" stroke-opacity="0.78" stroke-width="1"/><polyline points="119,24 121,22 126,17 136,7 136,7 136,7 136,7 136,7 136,7 136,7 136,7 136,7 136,7 136,7 136,7 136,7 136,7 136,7 136,7 129,14 123,20 122,21 122,30 112,41 99,57 89,75 87,90 84,98 78,104 71,106 67,109 68,116 73,127 81,145 89,165 99,184 106,208 113,231 117,246 120,249 122,251" fill="none" stroke="#20f0f0" stroke-opacity="0.95" stroke-width="1"/><polyline points="122,251 123,252 125,254 126,255 124,253 124,253 130,259 136,265 136,265 136,265 136,265 136,265 136,265 136,265 136,265 136,265 136,265 136,265 136,265 136,265 136,265 136,265 136,265 136,265 136,265 136,265 136,265 136,265 136,265 136,265 136,265 136,265 136,265 136,265 137,264 147,254 150,251 150,251 159,242 169,232 176,225" fill="none" stroke="#1ce2e2" stroke-opacity="0.89" stroke-width="1"/><polyline points="176,225 171,219 164,214 162,209 159,194 157,176 154,156 151,135 152,119 154,105 155,97 153,90 153,82 156,76 160,69 154,59 142,53 126,53 114,53 107,53 103,54 105,58 111,67 119,76 128,83 137,99 145,123 154,147 164,170 170,194 173,212 169,229 162,239 152,249 146,255 139,262 136,265 136,265 136,265 136,265 136,265" fill="none" stroke="#18d7d7" stroke-opacity="0.84" stroke-width="1"/><polyline points="136,265 136,265 136,265 136,265 136,265 136,265 136,265 136,265 136,265 136,265 136,265 136,265 136,265 136,265 136,265 136,265 136,265 139,262 138,263 137,264 136,265 136,265 136,265 144,257 147,254 147,254 154,247 168,233 173,219 171,205 175,192 176,179 180,165 187,149 190,131 184,112 183,87 183,62 179,50 175,46 174,45" fill="none" stroke="#17d3d3" stroke-opacity="0.82" stroke-width="1"/><polyline points="174,45 175,46 177,48 174,45 168,39 164,35 159,30 155,26 155,26 150,25 140,25 138,27 135,26 128,26 121,34 116,51 118,68 117,94 111,113 105,129 111,136 119,140 132,145 141,154 146,167 144,178 135,190 126,195 123,194 128,190 131,191 128,191 125,184 124,178 125,178 123,168 119,157 119,140 123,129 130,120 137,107" fill="none" stroke="#1adbdb" stroke-opacity="0.86" stroke-width="1"/><polyline points="137,107 144,106 144,111 140,112 140,111 147,107 158,106 164,101 166,94 167,97 162,104 150,111 139,120 132,129 133,136 134,140 131,144 120,145 114,142 106,130 102,122 102,116 103,112 109,106 107,103 100,102 89,100 86,101 81,101 92,102 108,104 120,104 139,111 157,121 164,130 165,140 161,144 158,147 154,156 154,164 152,172" fill="none" stroke="#16cece" stroke-opacity="0.80" stroke-width="1"/><polyline points="152,172 148,175 144,166 137,156 130,143 124,134 117,125 112,111 108,103 101,100 92,104 83,116 80,130 79,144 90,151 101,152 109,148 115,137 118,125 126,107 133,95 143,97 140,102 138,108 134,106 135,100 135,92 137,83 138,76 146,68 156,60 161,55 172,49 176,47 174,45 168,39 164,35 162,33 167,38 173,44 172,49" fill="none" stroke="#1adbdb" stroke-opacity="0.86" stroke-width="1"/><polyline points="172,49 166,55 158,61 150,71 141,79 133,82 123,81 116,74 115,67 114,67 116,71 123,76 131,86 140,93 147,99 150,99 152,97 157,97 164,102 170,103 180,101 187,102 190,108 192,113 185,110 181,112 181,120 179,126 177,130 172,139 170,143 171,156 172,168 167,184 162,201 157,218 156,229 155,235 155,240 163,238 173,228" fill="none" stroke="#15cccc" stroke-opacity="0.79" stroke-width="1"/><polyline points="173,228 181,220 183,218 181,220 178,217 172,213 166,212 162,209 157,202 155,187 152,167 154,151 157,139 158,130 157,118 150,110 151,103 162,99 176,90 186,78 191,69 185,63 183,58 181,53 179,50 175,46 177,48 178,49 178,49 175,46 170,41 160,31 148,19 141,12 139,10 138,9 136,7 136,7 136,7 136,7 136,7" fill="none" stroke="#1ce5e5" stroke-opacity="0.90" stroke-width="1"/><polyline points="136,7 137,8 141,12 145,16 147,18 143,32 144,38 144,45 141,50 141,60 136,77 130,92 120,99 109,105 105,116 106,124 104,133 106,147 107,162 106,174 107,179 114,187 121,188 127,187 131,177 134,163 132,154 133,147 133,149 132,157 126,162 122,161 116,158 107,148 103,143 97,140 89,152 89,166 86,183 90,192 102,201" fill="none" stroke="#1be0e0" stroke-opacity="0.88" stroke-width="1"/><polyline points="102,201 110,203 117,209 121,225 122,248 130,259 135,264 136,265 136,265 136,265 136,265 136,265 136,265 132,261 124,253 117,246 110,239 105,234 104,232 107,223 112,215 119,205 125,196 124,188 124,182 115,183 112,185 110,190 105,191 105,187 104,190 105,190 107,187 110,187 116,187 130,186 138,186 137,185 134,184 131,185 130,185" fill="none" stroke="#1adddd" stroke-opacity="0.87" stroke-width="1"/><polyline points="130,185 133,193 130,204 126,213 121,228 116,243 119,248 124,253 128,257 133,262 135,264 136,265 136,265 136,265 136,265 136,265 132,261 127,256 124,253 126,255 126,255 122,251 122,251 125,254 123,252 115,244 105,234 98,227 94,223 97,219 98,216 102,221 105,225 106,228 115,236 119,248 123,252 127,256 130,259 130,258 137,252" fill="none" stroke="#20f0f0" stroke-opacity="0.95" stroke-width="1"/><polyline points="137,252 147,250 156,245 159,242 158,243 153,248 152,249 153,242 149,223 146,209 145,205 149,200 156,188 160,174 167,165 168,163 168,157 167,158 167,161 172,163 190,166 201,173 205,183 210,186 206,187 200,184 200,183 202,182 208,174 213,170 208,165 200,165 197,166 195,170 192,168 191,166 188,168 186,164 179,157 172,148 164,135" fill="none" stroke="#13c3c3" stroke-opacity="0.75" stroke-width="1"/><polyline points="164,135 164,127 163,120 159,116 157,118 156,124 152,124 151,127 150,132 142,135 134,134 127,129 121,120 122,111 124,103 122,101 118,102 114,103 108,105 104,99 105,97 111,93 110,87 105,78 103,72 102,68 96,69 91,71 87,66 86,65 91,67 93,76 97,83 102,86 107,94 114,110 114,123 110,139 109,148 108,151 102,148" fill="none" stroke="#11bcbc" stroke-opacity="0.72" stroke-width="1"/><polyline points="102,148 99,143 95,137 94,139 106,146 125,156 139,170 138,185 138,196 137,204 139,207 141,208 139,204 134,206 120,216 103,223 102,231 111,240 119,248 130,259 136,265 136,265 136,265 136,265 136,265 136,265 136,265 136,265 136,265 136,265 136,265 136,265 136,265 136,265 136,265 136,265 136,265 136,265 136,265 136,265 136,265" fill="none" stroke="#1de5e5" stroke-opacity="0.90" stroke-width="1"/><polyline points="136,265 136,265 136,265 136,265 136,265 136,265 136,265 136,265 136,265 136,265 136,265 136,265 136,265 136,265 136,265 140,261 149,252 150,248 146,241 140,230 141,222 151,216 162,209 179,197 195,189 210,180 219,168 220,159 213,159 200,159 186,167 172,170 162,170 158,162 157,160 160,156 165,163 167,163 168,168 170,176 162,183" fill="none" stroke="#18d4d4" stroke-opacity="0.83" stroke-width="1"/><polyline points="162,183 154,191 150,193 144,187 138,182 128,174 118,167 111,159 108,148 112,138 121,130 135,121 143,111 153,107 158,108 157,115 154,126 153,134 150,151 142,173 128,192 106,206 90,219 90,219 96,225 103,232 109,238 118,247 124,253 129,258 130,259 133,262 136,265 135,264 132,261 129,258 123,252 113,242 112,234 120,228 125,221" fill="none" stroke="#1de7e7" stroke-opacity="0.91" stroke-width="1"/><polyline points="125,221 120,218 117,219 119,224 126,230 129,233 135,226 137,219 136,219 135,220 134,222 133,222 141,223 152,226 159,228 161,234 154,238 148,237 146,229 143,212 138,191 137,169 138,146 139,134 145,124 150,120 155,111 153,105 149,98 146,88 148,82 152,76 160,69 169,65 179,58 182,53 181,52 173,44 161,32 153,24 147,18" fill="none" stroke="#1be0e0" stroke-opacity="0.88" stroke-width="1"/><polyline points="147,18 140,11 136,7 138,9 142,13 143,22 139,29 140,35 137,43 137,52 137,60 138,73 138,90 140,104 142,109 140,108 133,112 125,114 117,120 117,122 117,128 114,129 110,130 116,130 120,119 112,111 97,98 88,84 91,64 96,47 105,38 114,29 122,21 125,18 122,21 114,29 106,37 96,47 88,55 81,62 71,72" fill="none" stroke="#1be0e0" stroke-opacity="0.88" stroke-width="1"/><polyline points="71,72 66,77 71,72 77,66 78,65 77,66 81,68 86,69 82,70 82,70 77,79 75,90 80,102 89,119 98,130 111,133 117,131 121,132 115,132 112,131 113,131 113,127 114,128 107,128 98,132 87,132 80,139 75,142 70,145 68,145 74,137 86,130 100,126 114,121 123,121 132,118 136,111 140,100 149,87 155,82 150,80" fill="none" stroke="#0fb5b5" stroke-opacity="0.69" stroke-width="1"/><polyline points="150,80 144,77 146,74 159,62 175,52 184,55 185,56 178,49 171,47 165,48 162,48 166,53 167,59 164,59 159,63 158,64 160,65 158,70 154,77 154,82 153,89 151,96 154,99 156,98 163,101 166,99 177,97 187,104 191,115 185,131 176,144 170,153 168,157 162,155 156,154 156,154 162,154 163,162 160,170 157,175 158,176" fill="none" stroke="#16cfcf" stroke-opacity="0.80" stroke-width="1"/><polyline points="158,176 162,178 171,180 174,184 177,187 174,192 171,196 171,198 170,206 166,212 163,221 159,222 158,221 161,214 162,213 166,205 159,199 150,196 142,194 136,191 134,187 137,181 144,181 148,190 148,202 144,208 136,213 129,220 123,219 123,209 118,200 116,190 112,179 119,170 121,164 116,160 113,156 117,160 131,165 147,170 159,181" fill="none" stroke="#1de8e8" stroke-opacity="0.91" stroke-width="1"/><polyline points="159,181 171,188 176,194 184,196 194,191 200,182 193,176 186,175 186,175 183,178 180,180 172,186 160,188 152,192 151,202 149,211 149,222 146,236 145,252 143,258 142,259 147,254 141,247 136,232 133,221 123,203 111,186 96,176 89,163 92,145 96,128 107,107 117,93 123,89 129,90 131,96 130,101 132,105 130,113 128,123 123,128" fill="none" stroke="#12c1c1" stroke-opacity="0.74" stroke-width="1"/><polyline points="123,128 119,131 116,135 114,135 113,133 124,132 141,129 151,137 150,146 150,153 154,161 160,164 155,168 155,166 159,170 170,168 176,170 179,174 179,178 174,187 168,207 160,223 150,233 141,236 134,236 126,232 116,229 110,227 106,223 103,217 109,207 120,192 128,182 138,175 146,166 141,161 138,159 141,154 143,151 144,147 143,145" fill="none" stroke="#1de6e6" stroke-opacity="0.91" stroke-width="1"/><polyline points="143,145 143,145 145,149 142,155 141,153 137,145 136,145 135,148 136,151 137,152 131,150 130,149 136,146 141,143 142,140 137,137 134,131 133,125 129,121 125,118 129,111 136,106 145,105 151,106 151,109 151,112 154,116 157,117 160,120 163,126 168,135 161,135 153,134 146,136 140,144 142,159 152,169 164,180 170,188 168,198 164,206" fill="none" stroke="#20f0f0" stroke-opacity="0.95" stroke-width="1"/><polyline points="164,206 165,216 170,223 173,228 170,231 168,233 167,234 159,242 151,250 146,255 145,256 141,260 138,263 136,265 136,265 136,265 136,265 136,265 136,265 136,265 136,265 136,265 136,265 136,265 141,260 149,252 156,245 158,243 162,239 165,236 166,235 164,237 161,239 149,237 140,230 144,227 161,222 172,214 179,206 182,205 188,208" fill="none" stroke="#1adddd" stroke-opacity="0.87" stroke-width="1"/><polyline points="188,208 189,212 186,215 182,219 180,221 174,227 169,232 162,239 160,241 161,240 163,238 167,234 168,233 175,226 182,219 187,214 191,210 190,211 190,211 185,216 180,221 176,225 171,230 164,237 157,244 144,241 129,239 121,235 117,232 111,231 111,236 112,237 112,240 110,238 107,236 106,235 106,235 110,238 116,235 124,225 131,220" fill="none" stroke="#19d8d8" stroke-opacity="0.84" stroke-width="1"/><polyline points="131,220 137,213 147,208 151,196 144,179 136,169 129,164 128,154 131,141 136,134 146,140 153,150 159,151 163,145 163,137 160,129 155,120 150,115 149,114 147,111 136,109 134,102 131,92 122,89 120,80 125,68 136,55 141,36 142,17 136,7 136,7 136,7 136,7 136,7 136,7 136,7 136,7 136,7 136,7 136,7 136,7" fill="none" stroke="#20f0f0" stroke-opacity="0.95" stroke-width="1"/><polyline points="136,7 136,7 136,7 136,7 136,7 136,7 136,7 136,7 136,7 135,8 127,16 117,26 108,35 100,43 98,60 94,79 92,105 94,123 96,136 100,150 101,168 91,186 78,207 78,207 82,211 87,216 93,222 89,218 84,213 90,205 105,193 116,180 117,167 110,159 116,156 117,164 111,183 105,198 109,209 120,216 126,218" fill="none" stroke="#12c1c1" stroke-opacity="0.74" stroke-width="1"/><polyline points="126,218 125,226 119,230 110,232 106,235 106,235 107,232 108,226 111,221 117,205 119,184 122,172 123,165 131,159 136,154 139,147 137,136 137,130 136,126 137,124 143,122 149,120 154,112 156,102 159,90 160,74 168,57 172,43 167,38 164,35 162,33 159,30 160,31 163,34 161,32 165,36 164,35 154,25 143,14 136,7 136,7" fill="none" stroke="#20f0f0" stroke-opacity="0.95" stroke-width="1"/><polyline points="136,7 136,7 136,7 136,7 136,7 137,8 132,19 125,32 121,38 114,47 110,54 110,63 115,76 122,91 125,97 127,101 122,97 122,90 118,85 118,77 124,63 128,52 135,39 139,34 144,37 151,41 154,47 151,54 147,63 139,72 134,79 132,91 134,105 143,115 151,123 147,130 145,131 148,126 158,117 162,113 164,114" fill="none" stroke="#20f0f0" stroke-opacity="0.95" stroke-width="1"/><polyline points="164,114 168,112 173,103 169,92 165,87 166,85 164,82 163,80 166,76 171,71 171,69 165,68 167,63 166,54 167,48 168,46 171,44 174,45 171,49 164,53 158,57 151,53 151,52 152,51 148,49 147,41 141,38 137,32 131,34 123,33 118,31 122,35 127,36 133,37 134,41 133,44 123,44 117,42 119,48 117,57 121,73" fill="none" stroke="#16cfcf" stroke-opacity="0.80" stroke-width="1"/><polyline points="121,73 131,84 134,88 133,81 126,69 121,64 120,62 123,57 121,62 120,66 118,69 116,64 112,65 110,64 114,62 117,63 118,60 117,55 120,52 119,51 114,46 113,40 116,39 112,39 109,36 113,35 122,35 123,29 121,22 122,22 122,21 122,21 123,20 122,21 118,25 113,30 111,32 106,37 102,47 103,51 110,52" fill="none" stroke="#1de5e5" stroke-opacity="0.90" stroke-width="1"/><polyline points="110,52 117,52 133,55 146,57 155,60 152,63 148,64 144,63 139,73 130,81 122,81 117,71 116,56 121,42 128,27 132,12 136,7 136,7 135,8 136,7 136,7 136,7 136,7 136,7 136,7 136,7 136,7 136,7 136,7 136,7 136,7 136,7 136,7 136,7 136,7 136,7 136,7 136,7 136,7 136,7 136,7" fill="none" stroke="#20f0f0" stroke-opacity="0.95" stroke-width="1"/><polyline points="136,7 136,7 136,7 136,7 136,7 136,7 136,7 136,7 136,7 136,7 136,7 136,7 136,7 136,7 140,11 142,18 132,28 123,37 115,40 112,46 115,50 114,51 114,53 112,54 109,53 103,54 105,58 108,64 114,60 118,53 124,41 126,29 127,18 131,12 133,10 134,9 137,8 147,18 158,29 169,40 176,47" fill="none" stroke="#1ce2e2" stroke-opacity="0.89" stroke-width="1"/><polyline points="176,47 176,47 177,48 173,49 162,49 157,49 158,53 154,58 150,66 151,81 150,97 150,115 152,131 155,150 152,164 151,181 151,191 157,196 156,193 152,189 152,191 158,201 161,211 161,215 166,215 170,215 169,218 166,218 176,210 180,205 184,200 186,191 182,187 173,188 163,192 158,192 157,187 157,188 154,185 151,179 140,171" fill="none" stroke="#19d9d9" stroke-opacity="0.85" stroke-width="1"/><polyline points="140,171 125,162 118,154 117,147 119,151 121,160 126,164 126,167 128,173 133,185 139,194 144,199 148,198 154,195 152,194 144,199 141,195 134,191 131,185 130,181 132,176 137,172 139,173 137,181 136,193 138,205 143,213 141,224 134,240 130,250 131,258 131,260 128,257 128,257 127,256 123,252 124,253 126,255 127,256 126,255 129,254" fill="none" stroke="#1adbdb" stroke-opacity="0.86" stroke-width="1"/><polyline points="129,254 134,249 138,241 142,242 147,240 152,245 148,253 139,262 136,265 136,265 136,265 136,265 136,265 136,265 136,265 136,265 136,265 136,265 136,265 136,265 136,265 136,265 136,265 136,265 136,265 136,265 136,265 136,265 136,265 136,265 136,265 142,259 144,245 140,230 132,232 125,232 123,227 124,222 125,221 130,221 137,217" fill="none" stroke="#1ce3e3" stroke-opacity="0.89" stroke-width="1"/><polyline points="137,217 149,210 155,202 163,196 175,190 182,185 190,186 196,180 200,167 196,153 186,144 169,126 158,115 152,103 155,94 160,84 159,78 154,78 144,76 138,83 134,89 132,89 131,90 134,92 130,96 123,92 119,91 118,94 121,98 127,102 130,104 137,98 143,93 151,92 162,92 167,88 166,80 165,61 158,46 157,38 154,36" fill="none" stroke="#1ce4e4" stroke-opacity="0.90" stroke-width="1"/><polyline points="154,36 151,38 153,42 158,46 163,55 171,64 173,77 172,85 174,95 176,107 184,113 188,120 193,130 190,140 187,150 187,163 185,176 188,183 192,188 187,189 184,188 181,189 176,185 170,177 164,167 158,156 161,149 164,137 168,134 163,132 154,137 146,137 141,146 140,152 136,157 128,165 123,175 121,191 130,203 141,202 143,196" fill="none" stroke="#19d8d8" stroke-opacity="0.85" stroke-width="1"/><polyline points="143,196 137,178 128,170 117,161 112,146 109,133 112,123 115,123 121,127 126,130 130,135 131,139 132,140 135,136 135,135 136,142 135,152 132,158 126,156 119,153 118,149 120,145 127,145 128,136 131,124 136,103 147,83 156,61 163,40 159,30 151,22 141,12 136,7 136,7 136,7 136,7 136,7 136,7 136,7 136,7 136,7" fill="none" stroke="#1eebeb" stroke-opacity="0.93" stroke-width="1"/><polyline points="136,7 136,7 136,7 136,7 136,7 136,7 136,7 139,10 142,22 143,42 145,57 149,82 153,112 160,136 169,155 167,172 168,190 171,207 173,220 177,224 172,229 167,234 157,244 150,251 140,246 127,237 114,226 104,214 93,204 87,195 80,194 79,194 88,195 90,192 90,195 93,204 103,210 115,215 118,220 120,230 118,238" fill="none" stroke="#12c0c0" stroke-opacity="0.74" stroke-width="1"/><polyline points="118,238 117,246 120,247 127,241 130,231 137,224 137,219 136,220 133,223 135,225 141,227 147,226 147,221 143,215 133,211 129,215 121,220 115,224 109,225 104,226 96,225 95,223 96,216 91,202 86,192 90,190 97,192 105,185 110,179 110,176 112,170 112,173 110,172 113,169 127,163 137,155 145,150 151,147 151,137 148,128 144,117" fill="none" stroke="#1ce3e3" stroke-opacity="0.89" stroke-width="1"/><polyline points="144,117 145,102 151,94 153,91 155,88 156,82 154,77 149,72 148,65 148,51 150,44 148,40 147,45 147,44 158,42 167,41 173,44 177,48 181,52 189,60 197,74 197,84 193,92 193,96 194,104 196,111 198,112 200,109 195,98 188,93 185,95 178,105 166,111 160,118 153,129 146,140 135,150 128,154 125,162 122,177 118,192" fill="none" stroke="#15caca" stroke-opacity="0.78" stroke-width="1"/><polyline points="118,192 120,210 125,225 127,233 122,226 122,222 127,227 132,235 135,238 140,241 141,241 140,243 144,247 144,252 141,260 136,265 136,265 136,265 136,265 136,265 136,265 136,265 136,265 136,265 136,265 134,263 120,249 110,239 98,227 93,222 91,220 93,222 105,223 116,216 118,205 124,200 123,203 120,206 117,213 119,218 122,219" fill="none" stroke="#20f0f0" stroke-opacity="0.95" stroke-width="1"/><polyline points="122,219 126,208 131,203 128,202 125,205 121,215 123,220 129,219 136,220 145,222 145,225 152,229 158,223 162,220 163,223 153,230 148,234 145,233 149,234 153,239 148,242 145,244 149,244 150,246 151,250 153,248 155,246 157,239 153,237 154,234 162,224 171,214 172,202 167,189 161,182 150,177 149,176 151,179 152,191 152,202 147,208" fill="none" stroke="#1bdfdf" stroke-opacity="0.88" stroke-width="1"/><polyline points="147,208 148,213 149,222 154,233 161,240 163,238 164,237 166,235 170,231 170,228 163,224 160,222 158,231 153,242 149,252 146,255 147,254 145,238 138,219 132,197 125,182 121,174 120,165 114,157 117,154 120,159 128,160 133,161 134,156 137,152 132,145 125,144 118,144 114,136 111,122 104,106 106,95 119,84 124,67 130,51 143,34" fill="none" stroke="#20f0f0" stroke-opacity="0.95" stroke-width="1"/><polyline points="143,34 154,30 158,29 160,31 163,34 166,37 168,39 169,40 171,42 167,38 158,29 150,21 148,19 143,14 137,8 136,7 135,8 132,11 132,11 136,7 136,7 136,7 134,9 123,20 115,28 114,29 117,26 118,25 119,24 118,25 115,28 117,38 120,44 125,48 130,53 131,59 127,71 121,88 121,104 122,116 122,126" fill="none" stroke="#1adddd" stroke-opacity="0.87" stroke-width="1"/><polyline points="122,126 116,137 109,145 112,149 115,149 117,154 118,161 111,165 107,169 99,175 91,178 85,180 84,181 90,186 95,192 95,205 101,216 107,227 111,239 125,254 136,265 136,265 136,265 136,265 129,258 124,253 124,253 117,246 113,236 118,219 112,210 106,197 97,186 93,175 86,170 84,161 83,159 81,157 85,154 94,158 98,160" fill="none" stroke="#1adcdc" stroke-opacity="0.86" stroke-width="1"/><polyline points="98,160 100,169 99,178 96,186 93,191 94,196 91,201 89,210 90,214 95,222 105,229 123,244 131,251 130,253 127,249 128,242 127,236 126,233 127,228 120,230 117,228 113,228 112,226 118,224 121,218 126,212 126,208 120,204 113,194 106,186 108,179 115,178 124,184 134,188 148,194 158,193 165,188 168,182 159,182 157,187 162,181" fill="none" stroke="#19dada" stroke-opacity="0.85" stroke-width="1"/><polyline points="162,181 166,173 171,170 172,164 169,167 165,175 162,184 160,188 156,191 159,190 164,185 168,183 174,176 185,168 201,161 208,159 207,159 204,159 202,168 197,176 193,183 194,197 193,207 194,207 191,210 190,211 183,208 171,205 161,197 150,191 147,191 146,196 139,204 139,213 138,219 133,222 126,219 121,209 120,204 123,199 128,193" fill="none" stroke="#12c0c0" stroke-opacity="0.74" stroke-width="1"/><polyline points="128,193 134,181 138,171 145,163 158,158 172,152 180,144 175,142 162,147 150,164 149,183 148,203 143,216 140,219 131,216 128,208 128,201 136,204 141,209 147,202 154,190 159,178 164,168 163,167 154,161 146,158 140,153 141,150 143,150 145,158 144,165 141,174 137,186 138,195 136,208 128,216 122,217 118,218 116,220 115,220 121,223" fill="none" stroke="#19d9d9" stroke-opacity="0.85" stroke-width="1"/><polyline points="121,223 126,231 125,234 126,233 127,234 123,222 122,209 122,196 115,192 113,190 114,185 120,178 127,168 132,157 133,150 139,143 150,138 148,136 133,127 114,118 99,112 91,112 94,116 101,118 105,111 110,107 110,98 110,92 114,90 125,89 133,89 137,99 138,110 137,122 136,135 136,149 139,168 138,187 135,200 134,207 131,211" fill="none" stroke="#20f0f0" stroke-opacity="0.95" stroke-width="1"/><polyline points="131,211 130,206 135,195 141,182 144,178 152,176 156,175 150,180 149,189 148,196 149,210 144,225 141,234 151,237 161,240 165,236 167,234 163,238 160,241 153,248 146,255 139,262 136,265 136,265 136,265 136,265 136,265 136,265 136,265 136,265 136,265 136,265 136,265 136,265 136,265 136,265 136,265 136,265 136,265 136,265 136,265" fill="none" stroke="#15cccc" stroke-opacity="0.79" stroke-width="1"/><polyline points="136,265 132,261 128,257 126,255 127,256 128,257 135,264 136,265 136,265 136,265 136,265 134,263 136,265 136,265 136,265 136,265 136,265 136,265 136,265 136,265 136,265 133,262 128,257 123,252 117,246 114,243 111,240 115,244 118,247 118,247 118,247 121,250 125,254 126,255 125,254 128,249 141,239 152,231 153,220 154,207 158,196" fill="none" stroke="#1ce4e4" stroke-opacity="0.90" stroke-width="1"/><polyline points="158,196 166,190 173,179 177,160 179,142 176,131 162,123 149,113 143,105 136,99 131,95 127,95 120,97 118,98 114,94 109,91 100,92 96,97 92,108 89,121 89,129 97,137 103,149 103,160 97,168 95,174 97,175 99,174 101,174 111,174 118,169 122,164 117,156 115,150 111,139 112,129 116,122 116,115 114,110 108,110 99,111" fill="none" stroke="#17d3d3" stroke-opacity="0.82" stroke-width="1"/><polyline points="99,111 89,109 85,109 80,108 82,101 86,100 93,96 99,89 98,80 96,74 93,68 94,60 98,55 108,54 115,58 121,54 126,42 123,32 121,32 119,36 117,38 119,35 121,23 126,18 134,13 135,10 136,7 136,7 136,7 136,7 136,7 136,7 136,7 136,7 136,7 136,7 146,17 154,25 162,33 170,41 182,53" fill="none" stroke="#17d3d3" stroke-opacity="0.82" stroke-width="1"/><polyline points="182,53 196,67 208,79 215,90 209,98 202,95 189,91 167,86 147,90 143,100 142,122 147,150 145,171 146,186 152,196 160,201 161,202 160,209 159,219 156,228 154,237 154,247 149,252 143,258 140,261 140,261 136,262 133,257 131,256 126,255 123,252 124,245 130,242 139,250 146,255 149,252 150,251 151,250 147,254 144,257 143,258" fill="none" stroke="#16cece" stroke-opacity="0.80" stroke-width="1"/><polyline points="143,258 146,255 146,251 146,247 136,244 135,239 136,235 136,231 138,221 140,216 137,212 139,209 144,205 158,196 163,194 164,190 155,192 147,199 135,207 128,219 124,223 125,223 134,223 145,216 154,203 161,187 162,180 152,178 140,178 124,180 113,182 107,192 117,197 127,196 133,190 136,187 135,181 126,182 131,179 139,172 134,162" fill="none" stroke="#1ce3e3" stroke-opacity="0.89" stroke-width="1"/><polyline points="134,162 122,148 114,139 115,133 121,122 123,112 122,102 119,91 120,81 123,79 135,74 145,75 155,75 156,74 151,78 155,84 155,87 153,85 149,80 145,77 146,75 147,69 154,58 158,53 158,52 163,53 168,54 173,57 171,60 173,65 172,67 169,74 161,80 158,78 165,82 173,78 176,81 175,88 175,95 171,94 167,87" fill="none" stroke="#18d5d5" stroke-opacity="0.83" stroke-width="1"/><polyline points="167,87 165,83 167,90 173,98 179,111 183,127 183,138 182,146 173,150 161,160 149,173 137,187 133,192 136,196 143,201 153,209 162,215 161,221 163,213 161,204 157,201 155,195 154,193 154,195 154,196 147,188 147,183 153,180 157,168 162,151 170,144 177,137 183,130 191,119 195,112 197,105 193,98 184,98 178,104 175,113 171,124" fill="none" stroke="#14c6c6" stroke-opacity="0.77" stroke-width="1"/><polyline points="171,124 166,137 163,149 161,155 156,161 150,166 145,168 138,169 129,157 126,151 125,147 130,136 142,122 157,98 168,77 174,61 174,46 165,36 154,25 140,21 132,23 130,37 123,55 117,68 116,73 118,80 123,77 128,73 128,70 125,68 131,63 131,63 128,54 127,43 131,40 133,38 134,37 140,43 143,49 143,58 140,68" fill="none" stroke="#14c7c7" stroke-opacity="0.77" stroke-width="1"/><polyline points="140,68 139,74 136,68 137,63 137,58 137,49 130,48 124,48 124,51 126,56 127,66 132,81 134,88 135,95 137,95 134,95 128,97 123,96 120,93 125,89 131,89 128,84 121,88 111,99 102,116 99,134 101,147 108,151 118,156 124,158 131,156 132,162 133,167 131,173 130,167 130,158 128,148 128,144 130,148 134,149 144,152" fill="none" stroke="#20f0f0" stroke-opacity="0.95" stroke-width="1"/><polyline points="144,152 152,150 156,147 159,141 157,140 159,136 160,127 165,115 174,104 178,92 173,78 161,66 152,62 152,61 146,72 139,89 141,105 145,114 147,115 154,121 159,132 160,144 147,159 134,173 125,184 126,189 131,193 129,189 134,177 135,167 140,159 145,153 149,151 152,155 160,156 167,152 177,148 185,147 191,149 191,152 193,160" fill="none" stroke="#20f0f0" stroke-opacity="0.95" stroke-width="1"/><polyline points="193,160 192,161 191,162 191,160 190,155 186,146 181,139 179,142 172,142 165,142 155,136 144,128 133,123 126,114 122,111 118,108 117,108 114,103 105,102 105,98 106,97 108,93 117,86 126,81 136,81 147,81 152,87 149,89 142,84 140,87 141,89 142,94 136,98 132,99 135,100 133,104 141,108 150,102 160,94 173,90 176,79" fill="none" stroke="#18d4d4" stroke-opacity="0.83" stroke-width="1"/><polyline points="176,79 170,72 156,62 150,46 148,31 145,16 138,9 138,9 140,11 138,12 132,21 122,32 113,44 112,51 112,55 114,51 113,44 115,34 115,28 120,23 127,16 130,17 135,24 135,29 132,32 139,37 146,33 151,34 153,32 153,24 150,21 151,22 147,18 138,11 129,14 127,16 129,14 127,16 124,19 120,23 114,29" fill="none" stroke="#1de6e6" stroke-opacity="0.91" stroke-width="1"/><polyline points="114,29 114,29 117,26 123,20 126,17 127,16 129,14 129,14 131,12 140,11 140,11 141,12 146,17 148,29 142,46 130,64 125,75 125,83 122,87 122,90 119,91 113,95 106,102 99,115 99,122 99,126 96,125 105,117 117,116 122,119 119,127 113,131 100,126 84,117 74,110 70,113 74,115 74,120 82,123 90,124 98,125" fill="none" stroke="#18d5d5" stroke-opacity="0.83" stroke-width="1"/><polyline points="98,125 111,124 115,135 115,142 113,151 101,151 89,158 82,167 84,171 93,177 103,184 103,182 103,176 108,159 112,148 116,142 128,137 144,139 161,141 177,142 186,133 186,121 187,106 184,90 179,79 175,70 173,64 176,53 173,48 163,34 149,20 136,7 136,7 136,7 138,9 143,14 144,15 142,13 144,15 146,17 152,23" fill="none" stroke="#18d5d5" stroke-opacity="0.83" stroke-width="1"/><polyline points="152,23 158,29 163,34 156,39 151,43 158,41 168,40 173,44 180,51 176,52 171,62 171,66 170,68 166,73 165,75 155,75 146,79 134,84 131,94 135,102 145,106 153,110 164,111 172,111 180,109 179,107 178,107 174,108 167,111 163,113 158,112 160,115 165,121 172,121 173,116 166,110 155,104 150,96 152,87 154,75 159,62" fill="none" stroke="#16cece" stroke-opacity="0.80" stroke-width="1"/><polyline points="159,62 172,49 181,52 184,55 186,57 187,58 185,56 171,52 157,47 151,42 151,30 150,21 141,12 136,7 136,7 136,7 136,7 136,7 136,7 136,7 136,7 136,7 136,7 136,7 136,7 136,7 136,7 136,7 136,7 136,7 136,7 136,7 136,7 136,7 136,7 136,7 133,10 126,17 118,25 108,35 91,52" fill="none" stroke="#20f0f0" stroke-opacity="0.95" stroke-width="1"/><polyline points="91,52 87,70 90,84 92,94 87,99 88,111 90,118 87,125 88,127 89,130 92,144 101,158 110,172 116,191 118,198 110,203 110,202 115,188 119,171 115,150 113,134 114,116 120,100 129,84 138,66 139,56 136,62 130,72 127,85 125,95 120,109 117,123 118,139 123,152 128,164 129,172 129,184 134,198 141,209 143,218 140,225" fill="none" stroke="#15caca" stroke-opacity="0.78" stroke-width="1"/><polyline points="140,225 131,238 120,249 123,252 125,254 125,254 126,255 124,253 120,249 117,246 118,247 121,250 120,249 118,247 117,242 118,231 118,226 122,229 127,235 133,238 136,242 136,239 144,229 151,214 155,206 155,200 146,198 138,195 128,190 119,184 114,175 112,166 112,152 113,136 115,126 116,115 120,112 131,107 139,101 142,102 138,103" fill="none" stroke="#20f0f0" stroke-opacity="0.95" stroke-width="1"/><polyline points="138,103 136,112 132,119 132,125 134,127 136,128 134,130 131,134 127,135 124,133 123,121 120,108 119,103 119,100 126,94 140,91 149,92 157,97 156,99 159,100 158,103 151,94 142,84 135,78 134,66 131,57 134,59 139,61 147,66 149,70 149,75 149,79 150,84 149,83 148,84 148,89 147,85 141,77 140,65 141,62 141,51" fill="none" stroke="#20f0f0" stroke-opacity="0.95" stroke-width="1"/><polyline points="141,51 136,41 133,37 134,41 135,52 139,65 143,82 153,100 161,115 164,128 160,140 149,150 146,166 145,177 155,176 170,171 177,169 171,166 165,167 157,173 158,174 152,179 144,181 141,178 147,163 156,155 160,144 160,131 156,124 160,129 165,134 166,140 164,146 157,143 144,133 142,124 144,125 144,124 144,126 150,130 148,128" fill="none" stroke="#1ce3e3" stroke-opacity="0.90" stroke-width="1"/><polyline points="148,128 149,126 149,121 153,119 158,116 159,121 158,128 162,134 160,140 166,148 172,152 177,152 176,154 173,157 174,160 175,163 176,164 171,173 167,176 162,176 157,174 150,168 139,166 136,166 133,170 129,170 129,167 130,163 132,150 134,140 128,129 124,119 123,106 119,96 116,89 121,82 132,78 147,79 165,85 174,95 174,102" fill="none" stroke="#20f0f0" stroke-opacity="0.95" stroke-width="1"/><polyline points="174,102 171,103 172,106 179,102 177,100 171,97 166,94 158,92 153,95 151,101 161,109 166,120 163,131 153,139 146,153 148,159 156,155 157,152 151,150 146,149 140,153 134,162 125,171 123,173 127,175 125,178 125,183 125,178 130,179 137,184 140,194 132,206 127,211 119,212 112,214 111,219 115,223 115,235 117,246 121,250 123,251" fill="none" stroke="#16cfcf" stroke-opacity="0.80" stroke-width="1"/><polyline points="123,251 124,251 122,251 121,249 121,246 125,239 127,233 130,236 136,244 139,254 143,256 145,250 146,244 144,234 145,219 149,204 161,186 171,166 179,149 181,135 178,115 171,98 156,86 150,72 142,65 137,63 136,62 139,63 143,61 147,62 141,61 136,53 138,41 138,25 139,10 137,8 141,12 142,13 139,10 136,7 136,7" fill="none" stroke="#19d8d8" stroke-opacity="0.85" stroke-width="1"/><polyline points="136,7 136,7 136,7 136,7 136,7 136,7 136,7 136,7 136,7 136,7 136,7 136,7 135,8 131,12 131,21 136,24 143,27 151,36 159,42 167,44 170,54 168,65 169,78 171,89 167,99 168,104 173,111 180,125 184,141 187,154 193,166 200,171 203,177 196,181 186,183 176,181 167,179 166,178 157,175 147,168 133,161" fill="none" stroke="#1de8e8" stroke-opacity="0.92" stroke-width="1"/><polyline points="133,161 124,156 124,149 129,136 135,127 135,118 143,108 149,100 151,90 147,79 140,68 129,63 118,65 112,68 111,74 110,75 109,73 108,70 111,67 114,68 120,72 122,72 131,68 144,67 148,66 143,65 132,61 125,52 124,44 126,34 127,30 133,36 130,48 130,62 126,77 126,79 127,71 133,61 136,57 136,56 134,53" fill="none" stroke="#1ce2e2" stroke-opacity="0.89" stroke-width="1"/><polyline points="134,53 131,52 129,55 123,61 117,59 114,58 112,56 118,56 114,61 110,64 107,68 100,71 96,71 88,71 82,69 86,64 91,61 99,61 110,52 115,36 119,24 133,10 136,7 136,7 136,7 136,7 136,7 136,7 136,7 136,7 136,7 136,7 136,7 136,7 136,7 136,7 136,7 136,7 136,7 136,7 136,7" fill="none" stroke="#1ce3e3" stroke-opacity="0.89" stroke-width="1"/><polyline points="136,7 136,7 136,7 136,7 136,7 136,7 136,7 136,7 136,7 136,7 136,7 136,7 136,7 136,7 136,7 137,8 141,12 143,14 147,18 147,18 148,19 157,28 159,47 162,63 168,77 173,93 173,100 166,109 161,112 160,118 159,129 156,144 158,156 157,163 155,165 151,170 154,175 157,180 159,185 155,182 151,181" fill="none" stroke="#1eeaea" stroke-opacity="0.93" stroke-width="1"/><polyline points="151,181 148,178 144,178 140,178 141,182 147,177 159,170 162,159 160,146 151,132 142,123 133,114 129,107 125,102 124,97 130,94 139,99 146,103 154,103 167,108 182,110 186,113 187,119 189,126 189,130 184,134 177,143 167,150 167,157 169,163 176,174 179,182 178,190 179,196 175,205 164,215 163,224 164,226 167,229 171,227 170,223" fill="none" stroke="#1be0e0" stroke-opacity="0.88" stroke-width="1"/><polyline points="170,223 173,223 170,228 165,230 167,232 171,226 168,214 157,201 148,197 147,200 149,199 153,197 156,204 152,210 150,218 149,221 146,222 141,218 144,211 160,204 172,198 175,190 177,182 178,179 169,178 162,175 163,173 169,158 175,142 172,123 166,106 171,95 172,93 166,100 158,113 155,127 157,131 155,136 151,140 153,147 155,153" fill="none" stroke="#19dada" stroke-opacity="0.86" stroke-width="1"/><polyline points="155,153 148,153 146,159 137,167 129,173 123,181 126,186 135,189 143,186 150,186 150,190 148,200 144,204 147,207 161,206 177,200 185,190 185,182 181,178 182,181 184,179 179,175 166,172 156,155 149,144 145,145 145,152 138,157 127,152 118,145 112,134 108,120 105,110 103,100 103,95 100,89 97,84 92,73 97,65 108,56 115,46" fill="none" stroke="#1de8e8" stroke-opacity="0.91" stroke-width="1"/><polyline points="115,46 118,41 121,38 132,34 143,28 151,22 142,13 136,7 136,7 136,7 136,7 136,7 136,7 136,7 141,12 148,26 144,39 143,46 140,55 143,59 140,66 136,66 137,58 145,51 156,49 167,51 173,59 179,64 179,72 182,76 181,81 184,80 187,75 185,66 184,61 181,58 181,60 178,68 174,71 169,64 155,56" fill="none" stroke="#12c0c0" stroke-opacity="0.74" stroke-width="1"/><polyline points="155,56 138,49 127,38 124,29 125,18 131,12 136,7 136,7 136,7 136,7 136,7 136,7 136,7 136,7 136,7 136,7 134,9 134,9 131,12 131,12 135,8 136,7 136,7 136,7 136,7 136,7 136,7 136,7 136,7 136,7 136,7 136,7 136,7 136,7 136,7 136,7 136,7 132,11 130,18 128,28 132,37" fill="none" stroke="#1fefef" stroke-opacity="0.95" stroke-width="1"/><polyline points="132,37 136,49 139,64 144,68 148,73 153,86 160,100 167,112 175,119 185,125 188,126 187,129 183,131 175,138 175,144 168,147 165,147 166,151 172,154 182,158 181,167 173,171 162,181 144,186 133,186 127,180 128,173 132,161 133,146 133,132 135,117 131,101 129,80 124,58 116,38 114,29 115,28 108,35 102,41 101,49 113,55" fill="none" stroke="#1adbdb" stroke-opacity="0.86" stroke-width="1"/><polyline points="113,55 119,61 124,74 130,89 138,95 146,97 149,90 144,85 136,79 129,70 123,67 122,58 124,48 127,43 130,42 130,41 127,39 126,29 126,22 123,20 124,19 122,21 125,29 127,37 125,40 121,41 112,39 110,43 112,47 111,53 113,64 116,74 120,88 123,105 127,123 129,142 130,157 136,172 134,178 130,180 130,180" fill="none" stroke="#1adbdb" stroke-opacity="0.86" stroke-width="1"/><polyline points="130,180 127,172 122,168 116,167 112,165 113,166 113,166 114,164 116,164 125,163 127,165 130,160 137,149 146,141 148,134 138,126 124,122 118,114 121,110 124,115 124,115 117,113 112,111 108,116 107,121 103,121 101,120 101,128 102,129 104,129 100,126 94,121 92,117 92,112 93,109 100,111 103,115 107,117 111,116 114,114 117,109" fill="none" stroke="#19d8d8" stroke-opacity="0.85" stroke-width="1"/><polyline points="117,109 116,106 101,104 93,104 82,108 76,117 71,121 81,116 94,107 107,97 117,89 125,90 133,91 138,94 139,100 141,107 143,112 146,113 143,115 147,113 153,110 152,106 156,104 156,95 154,90 146,83 136,72 133,69 131,70 126,70 112,66 101,65 99,65 103,75 106,85 114,95 122,101 129,108 124,116 121,128 124,139" fill="none" stroke="#19d8d8" stroke-opacity="0.85" stroke-width="1"/><polyline points="124,139 129,145 137,150 145,164 150,178 147,195 147,209 141,220 132,230 127,238 130,242 139,246 147,251 146,255 144,257 145,256 146,255 148,253 146,255 144,249 149,242 157,231 160,228 164,221 169,216 168,212 164,211 161,205 163,201 165,196 163,185 157,166 150,148 147,132 149,118 154,105 148,93 132,84 114,76 100,74 98,80" fill="none" stroke="#16cece" stroke-opacity="0.80" stroke-width="1"/><polyline points="98,80 101,89 100,94 107,103 110,114 111,122 117,126 125,129 134,128 143,129 147,125 152,122 157,125 161,126 170,121 170,113 168,110 164,101 159,93 155,92 154,98 149,108 148,112 157,117 161,126 163,139 161,148 160,153 161,160 163,168 166,176 168,175 170,173 173,161 169,148 169,138 168,130 167,126 159,122 149,116 137,114" fill="none" stroke="#1adcdc" stroke-opacity="0.86" stroke-width="1"/><polyline points="137,114 131,116 137,121 142,125 150,127 158,127 160,121 152,115 139,118 124,119 116,120 113,124 106,128 101,124 98,119 103,113 108,102 110,79 110,65 116,55 122,48 128,42 123,40 114,34 108,35 108,35 104,39 104,39 102,41 100,43 99,44 97,46 97,46 97,56 98,61 96,60 92,56 88,55 90,53 95,48 100,43" fill="none" stroke="#13c5c5" stroke-opacity="0.76" stroke-width="1"/><polyline points="100,43 104,39 108,35 104,39 104,46 98,51 96,54 96,65 89,77 88,93 91,111 101,124 109,131 116,139 121,143 125,144 125,146 125,159 132,175 139,193 146,209 153,227 154,239 144,244 143,258 137,264 136,265 136,265 136,265 136,265 136,265 136,265 136,265 136,265 136,265 136,265 136,265 136,265 136,265 136,265 136,265" fill="none" stroke="#1ce2e2" stroke-opacity="0.89" stroke-width="1"/><polyline points="136,265 136,265 136,265 136,265 136,265 136,265 134,263 118,247 103,232 90,219 82,201 82,187 82,177 79,164 85,161 100,159 116,158 129,156 135,155 135,155 130,151 121,151 118,158 112,166 103,183 97,197 91,208 85,214 85,214 88,217 93,222 100,229 105,234 110,239 113,242 115,237 122,233 124,231 125,232 129,237 130,249" fill="none" stroke="#12c1c1" stroke-opacity="0.74" stroke-width="1"/><polyline points="130,249 137,256 139,262 138,263 136,265 136,265 136,265 136,265 135,264 126,255 116,245 113,242 115,244 118,247 122,251 120,249 118,247 114,243 110,239 107,227 107,210 113,193 118,180 118,168 109,157 103,146 95,135 87,125 76,114 67,99 62,84 63,80 67,76 74,69 86,57 94,49 97,46 102,41 103,40 102,41 104,39" fill="none" stroke="#15cccc" stroke-opacity="0.79" stroke-width="1"/><polyline points="104,39 109,34 113,30 118,25 125,18 129,14 130,13 131,12 131,12 131,12 131,12 128,15 124,19 120,23 113,30 107,36 101,42 94,53 82,61 77,66 76,67 85,60 102,64 114,60 119,47 117,34 114,29 110,33 105,38 101,42 96,47 91,52 89,54 87,56 87,56 89,54 96,66 111,81 122,95 134,108 148,120" fill="none" stroke="#17d2d2" stroke-opacity="0.82" stroke-width="1"/><polyline points="148,120 164,133 175,149 188,162 197,168 199,166 197,166 194,169 192,174 188,185 172,191 151,191 130,189 115,181 111,179 113,180 117,177 121,170 123,166 132,161 144,159 144,157 137,159 129,163 115,168 104,170 105,173 109,180 114,184 117,192 111,204 104,218 104,233 107,236 109,238 114,233 114,225 114,222 119,225 130,232 135,234" fill="none" stroke="#1be1e1" stroke-opacity="0.89" stroke-width="1"/><polyline points="135,234 139,237 141,242 139,243 133,246 135,254 138,261 136,265 136,265 136,265 136,265 136,265 140,261 143,258 149,252 150,251 151,250 152,249 149,252 150,251 153,248 151,250 154,247 161,240 167,234 171,230 168,218 163,207 163,196 165,195 163,201 156,204 151,208 141,214 134,219 124,220 116,223 110,230 104,233 105,234 108,237" fill="none" stroke="#1bdede" stroke-opacity="0.87" stroke-width="1"/><polyline points="108,237 110,239 113,242 114,243 117,246 120,249 123,252 125,254 130,259 131,260 129,258 124,253 115,244 105,234 96,225 98,218 108,209 116,201 123,187 122,171 117,160 113,156 113,157 119,161 128,169 131,176 137,183 137,183 131,174 122,166 113,159 108,152 106,142 107,136 111,137 115,142 117,148 111,151 105,154 99,163 92,171" fill="none" stroke="#15cccc" stroke-opacity="0.79" stroke-width="1"/><polyline points="92,171 91,172 91,167 94,166 100,171 100,171 103,167 100,165 101,169 105,174 114,184 119,193 124,210 132,219 140,225 143,225 144,221 137,216 131,214 122,216 116,226 116,233 119,236 122,234 124,235 128,241 136,246 144,247 147,250 143,253 138,257 134,263 135,264 134,263 132,261 130,256 138,251 147,252 152,249 157,244 167,234" fill="none" stroke="#1ee9e9" stroke-opacity="0.92" stroke-width="1"/><polyline points="167,234 175,226 178,221 167,200 150,177 139,164 121,157 101,148 90,142 86,138 81,140 75,136 72,133 72,128 71,129 72,137 75,139 75,140 81,130 92,126 96,128 102,133 107,135 113,146 128,159 137,170 136,181 139,190 141,191 144,188 141,186 138,181 131,176 127,165 133,160 137,151 140,142 140,135 142,121 144,108 143,100" fill="none" stroke="#14c6c6" stroke-opacity="0.77" stroke-width="1"/><polyline points="143,100 144,98 151,95 162,93 171,91 182,82 182,72 179,62 183,55 181,57 173,55 167,53 167,54 172,63 177,64 180,64 183,68 181,73 187,79 186,88 177,104 169,122 167,139 170,155 174,169 176,174 180,170 173,162 171,161 169,172 174,186 178,198 176,202 178,199 170,189 167,176 165,166 165,154 164,149 167,152 176,153" fill="none" stroke="#10b8b8" stroke-opacity="0.70" stroke-width="1"/><polyline points="176,153 189,147 198,134 206,121 213,113 215,112 219,117 218,121 214,118 205,113 189,111 172,108 165,102 165,103 160,102 153,106 150,109 151,110 161,108 172,110 187,117 193,119 198,127 200,138 207,146 211,155 219,154 226,147 226,137 221,132 221,128 213,121 206,112 206,105 204,108 198,112 192,120 191,127 187,135 183,135 180,133" fill="none" stroke="#0caaaa" stroke-opacity="0.64" stroke-width="1"/><polyline points="180,133 180,131 176,131 173,129 166,127 157,125 150,122 147,121 149,120 150,130 157,141 165,143 175,139 185,129 188,120 196,116 199,120 193,122 190,118 194,109 194,105 189,104 181,115 174,134 168,153 163,163 163,177 155,188 155,193 164,201 168,200 161,206 158,210 161,206 165,202 169,200 167,201 162,203 165,205 170,208 176,206" fill="none" stroke="#14c6c6" stroke-opacity="0.77" stroke-width="1"/><polyline points="176,206 180,210 183,217 184,217 183,218 181,220 176,225 174,227 172,229 165,236 157,244 152,249 149,252 147,254 143,258 140,261 142,259 145,256 147,254 151,247 153,236 161,222 168,208 174,197 181,191 191,187 202,177 213,174 225,172 225,168 216,163 201,161 198,161 191,163 188,167 184,174 178,174 174,177 173,180 175,179 182,184" fill="none" stroke="#18d4d4" stroke-opacity="0.83" stroke-width="1"/><polyline points="182,184 192,181 194,174 187,165 179,156 171,148 169,143 167,142 167,150 163,153 162,146 159,135 151,128 142,122 138,118 136,121 135,122 137,124 137,123 131,117 131,116 129,119 127,129 133,140 146,142 152,129 152,115 149,105 144,96 141,88 148,81 155,83 163,87 163,87 166,88 170,93 179,94 186,94 191,91 192,97 184,102" fill="none" stroke="#17d3d3" stroke-opacity="0.82" stroke-width="1"/><polyline points="184,102 171,104 159,105 153,100 156,92 161,76 154,66 151,55 143,49 139,56 133,66 131,81 135,99 136,111 141,118 149,117 154,110 160,101 165,86 164,64 160,45 154,25 145,16 141,12 140,11 138,9 137,8 129,14 128,15 128,15 134,9 136,7 136,7 136,7 136,7 136,7 136,7 136,7 136,7 136,7 136,7" fill="none" stroke="#20f0f0" stroke-opacity="0.95" stroke-width="1"/><polyline points="136,7 136,7 136,7 136,7 136,7 136,7 136,7 136,7 136,7 136,7 136,7 136,7 136,7 136,7 136,7 141,12 140,20 140,24 138,27 142,28 146,27 147,25 152,32 158,38 161,47 164,57 165,69 177,79 194,85 210,96 217,101 219,99 216,90 212,89 214,91 217,98 215,105 207,110 194,118 187,126 189,131" fill="none" stroke="#16cece" stroke-opacity="0.80" stroke-width="1"/><polyline points="189,131 190,140 184,156 177,176 165,187 152,195 142,192 131,188 119,178 117,169 126,169 140,171 157,173 171,169 177,169 180,165 176,169 174,166 165,163 163,156 167,144 165,135 157,129 144,126 137,127 138,125 132,122 131,120 123,112 116,100 111,89 108,83 107,80 112,75 120,75 131,75 140,72 147,63 147,53 148,45 149,39" fill="none" stroke="#14c6c6" stroke-opacity="0.76" stroke-width="1"/><polyline points="149,39 146,36 144,32 153,33 159,33 158,30 154,26 154,26 156,32 153,46 144,58 135,71 126,82 122,96 119,106 121,113 122,121 124,134 124,155 128,181 133,206 136,224 139,231 150,238 161,240 164,237 160,229 153,223 149,218 150,215 144,209 138,206 130,210 121,217 118,224 113,239 119,248 129,258 135,264 136,265 136,265" fill="none" stroke="#20f0f0" stroke-opacity="0.95" stroke-width="1"/><polyline points="136,265 136,265 136,265 136,265 136,265 136,265 136,265 136,265 136,265 136,265 136,265 136,265 139,262 145,256 147,254 150,251 153,248 158,243 160,241 161,240 160,237 163,225 160,212 157,200 153,190 151,178 148,172 145,163 148,143 145,122 137,107 126,90 119,79 117,68 113,59 110,54 108,47 105,46 99,55 93,63 94,66" fill="none" stroke="#20f0f0" stroke-opacity="0.95" stroke-width="1"/><polyline points="94,66 96,68 97,64 95,58 97,51 96,47 91,52 88,55 84,59 78,65 74,69 69,76 73,85 76,93 74,95 73,96 75,98 80,98 91,98 102,100 113,107 123,115 125,124 135,128 138,131 135,135 127,145 114,153 108,153 107,148 103,139 98,132 101,129 108,127 112,130 111,136 115,139 118,139 123,137 135,137 145,140" fill="none" stroke="#10baba" stroke-opacity="0.71" stroke-width="1"/><polyline points="145,140 146,138 143,128 142,116 144,103 142,93 145,94 150,95 159,92 162,87 159,82 153,80 142,77 133,76 139,78 151,86 152,96 147,106 145,115 142,127 143,138 145,145 150,147 155,147 160,144 162,137 161,128 154,109 148,90 146,69 138,52 131,39 124,28 122,21 125,18 128,15 130,13 136,7 136,7 136,7 136,7" fill="none" stroke="#17d1d1" stroke-opacity="0.81" stroke-width="1"/><polyline points="136,7 136,7 136,7 136,7 136,7 136,7 136,7 136,7 136,7 136,7 136,7 136,7 136,7 136,7 135,8 140,23 141,45 137,69 134,84 139,94 142,102 149,105 146,108 139,107 136,105 142,102 146,95 151,93 160,93 167,83 174,75 172,70 166,70 158,71 146,75 134,87 128,103 130,118 130,138 135,158 140,177" fill="none" stroke="#1adbdb" stroke-opacity="0.86" stroke-width="1"/><polyline points="140,177 139,195 139,206 149,217 164,231 171,230 172,229 170,231 164,237 156,245 148,253 143,258 139,262 135,264 129,258 127,256 125,254 123,252 122,250 119,244 117,233 118,224 119,214 116,202 111,194 112,186 114,181 117,181 117,177 122,177 132,181 144,192 165,198 177,200 175,203 166,204 147,200 134,198 125,196 110,191 96,190" fill="none" stroke="#1be0e0" stroke-opacity="0.88" stroke-width="1"/><polyline points="96,190 83,187 71,186 62,186 57,179 53,173 56,158 60,149 66,143 63,137 58,130 55,130 62,130 76,125 86,120 92,107 99,99 103,96 110,91 113,90 114,87 116,74 120,55 123,37 123,23 125,19 128,15 131,12 129,14 130,14 138,12 141,12 144,15 148,19 154,25 162,42 169,60 179,79 181,94 176,107 163,117" fill="none" stroke="#0fb4b4" stroke-opacity="0.69" stroke-width="1"/><polyline points="163,117 147,123 120,138 100,155 91,176 87,196 87,212 88,217 96,225 101,230 103,232 103,232 105,234 109,238 109,238 111,240 106,235 107,231 114,223 116,214 114,207 109,205 107,209 110,207 111,205 111,199 114,187 116,175 116,170 118,175 113,183 105,190 95,193 93,187 98,179 104,176 107,178 105,179 105,176 107,172 108,167" fill="none" stroke="#15cccc" stroke-opacity="0.79" stroke-width="1"/><polyline points="108,167 110,160 110,148 111,137 115,133 121,126 130,127 140,130 149,134 150,134 149,138 147,145 145,157 147,160 147,162 144,164 142,161 137,161 136,173 135,182 127,185 121,182 123,170 128,158 132,144 138,133 144,128 145,131 149,142 153,155 151,164 146,167 138,166 130,162 126,153 125,144 120,142 115,146 108,155 97,164 84,182" fill="none" stroke="#20f0f0" stroke-opacity="0.95" stroke-width="1"/><polyline points="84,182 78,197 79,208 83,212 93,222 107,236 121,250 134,263 136,265 136,265 136,265 136,265 136,265 136,265 136,265 136,265 136,265 136,265 136,265 136,265 134,263 130,259 125,254 126,255 125,254 128,248 123,245 119,238 113,230 109,224 110,225 110,225 110,221 106,221 106,215 105,211 111,203 113,195 113,191 118,182 123,172" fill="none" stroke="#1eebeb" stroke-opacity="0.93" stroke-width="1"/><polyline points="123,172 129,152 131,140 128,135 122,137 117,133 119,118 122,110 126,108 130,117 137,120 137,120 137,121 136,121 128,121 123,118 120,113 117,107 119,101 115,97 111,94 109,91 113,93 119,100 121,108 120,113 117,119 118,125 122,129 131,133 132,135 134,132 137,133 138,141 141,153 137,164 136,167 133,173 135,178 140,177 139,174" fill="none" stroke="#20f0f0" stroke-opacity="0.95" stroke-width="1"/><polyline points="139,174 134,174 128,178 118,175 109,167 112,157 115,145 121,130 133,124 151,121 155,120 151,120 149,115 153,116 162,116 166,106 168,86 168,65 162,49 160,36 154,29 143,27 138,29 133,36 130,43 131,50 136,52 141,56 145,53 144,48 140,43 139,39 136,34 133,27 132,20 130,15 135,8 136,7 136,7 136,7 136,7" fill="none" stroke="#1adbdb" stroke-opacity="0.86" stroke-width="1"/><polyline points="136,7 136,7 136,7 136,7 136,7 136,7 136,7 136,7 136,7 136,7 138,13 133,18 134,28 132,43 133,61 133,76 130,87 126,104 118,120 118,128 120,139 121,147 124,151 127,146 127,140 129,136 131,133 133,133 139,138 145,147 150,152 153,158 152,163 147,167 140,166 138,158 132,148 126,136 126,124 121,112 122,100" fill="none" stroke="#19d9d9" stroke-opacity="0.85" stroke-width="1"/><polyline points="122,100 130,90 134,83 134,85 143,82 150,71 149,57 150,41 157,28 153,24 153,24 158,29 163,34 163,34 162,33 165,40 169,51 170,66 169,71 161,72 159,70 163,74 155,81 143,94 134,110 127,130 121,147 115,159 112,168 116,177 125,186 128,197 129,207 132,219 134,226 131,226 124,226 118,223 110,221 104,216" fill="none" stroke="#20f0f0" stroke-opacity="0.95" stroke-width="1"/><line x1="7" y1="136.5" x2="265" y2="136.5" stroke="#9a9a9a" stroke-width="1" stroke-opacity="0.8"/><line x1="136.5" y1="7" x2="136.5" y2="265" stroke="#1a7070" stroke-width="1" stroke-opacity="0.9"/></svg>
<div class="a" style="left:1557px;top:311px;width:263px;height:9px;background:#000"></div>
<div class="a" style="left:1788px;top:311px;width:3px;height:9px;background:#22e622"></div>
<div class="dl" style="left:1552px;top:323px">-1</div>
<div class="dl" style="left:1811px;top:323px">+1</div>
<div class="a" style="left:1583px;top:346px;width:212px;height:118px;background:#9a9a9a;border-radius:4px"></div>
<div class="sc" style="left:1586px;top:348px;width:101px;height:36px"><div class="t" style="top:1px">Peak Left</div><div class="v" style="top:11px">-0.30</div></div>
<div class="sc" style="left:1690px;top:348px;width:102px;height:36px"><div class="t" style="top:1px">Peak Right</div><div class="v" style="top:11px">-0.30</div></div>
<div class="sc" style="left:1586px;top:387px;width:101px;height:35px"><div class="t" style="top:1px">RMS Left</div><div class="v" style="top:11px">-2.07</div></div>
<div class="sc" style="left:1690px;top:387px;width:102px;height:35px"><div class="t" style="top:1px">RMS Right</div><div class="v" style="top:11px">-2.90</div></div>
<div class="sc" style="left:1586px;top:425px;width:206px;height:36px"><div class="t" style="top:1px">Correlation</div><div class="v" style="top:12px">+0.752</div></div>
</body></html>
